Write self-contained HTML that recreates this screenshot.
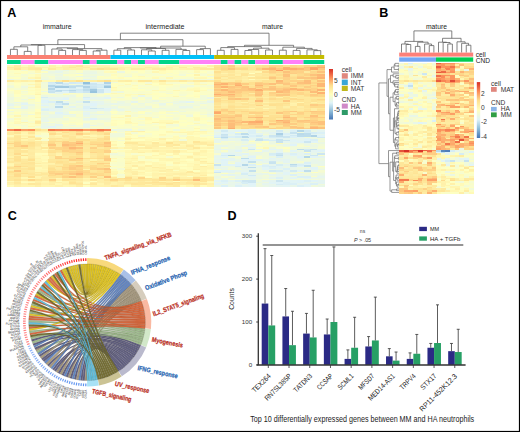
<!DOCTYPE html><html><head><meta charset="utf-8"><style>html,body{margin:0;padding:0;background:#fff;}svg{display:block;font-family:"Liberation Sans",sans-serif;}</style></head><body>
<svg width="520" height="432" viewBox="0 0 520 432">
<rect x="0" y="0" width="520" height="432" fill="#fff"/>
<text x="7.3" y="16.9" font-size="12.6" font-weight="bold" fill="#000">A</text>
<g font-size="7.2" fill="#222">
<text x="42.7" y="28.6" textLength="28.9" lengthAdjust="spacingAndGlyphs">immature</text>
<text x="145.5" y="28.8" textLength="39" lengthAdjust="spacingAndGlyphs">intermediate</text>
<text x="262" y="28.6" textLength="21" lengthAdjust="spacingAndGlyphs">mature</text>
</g>
<path fill="none" stroke="#5a5a5a" stroke-width="0.75" d="M10.45 55V49.3H17.34V55M24.24 55V51.4H31.13V55M13.9 49.3V46.8H27.69V51.4M38.03 55V45.3H44.93V55M20.79 46.8V45H41.48V45.3M58.72 55V50.4H65.61V55M51.82 55V49H62.17V50.4M79.4 55V50.4H86.3V55M72.51 55V49.6H82.85V50.4M56.99 49V47.8H77.68V49.6M93.2 55V51H100.09V55M96.64 51V50.2H106.99V55M67.34 47.8V48.6H101.82V50.2M31.13 45V44.6H84.58V48.6M113.88 55V50.2H120.78V55M127.67 55V50H134.57V55M117.33 50.2V48.7H131.12V50M148.36 55V51H155.26V55M141.47 55V49.8H151.81V51M162.15 55V50.3H169.05V55M146.64 49.8V48.5H165.6V50.3M124.23 48.7V47.6H156.12V48.5M182.84 55V50.5H189.73V55M175.94 55V49.4H186.29V50.5M140.17 47.6V48H181.12V49.4M196.63 55V49.6H203.53V55M200.08 49.6V48.6H210.42V55M160.64 48V46.2H205.25V48.6M57.86 44.6V39.7H182.95V46.2M217.32 55V50.3H224.21V55M231.11 55V49.4H238V55M220.77 50.3V47.6H234.56V49.4M244.9 55V50.5H251.8V55M248.35 50.5V49.5H258.69V55M265.59 55V50H272.48V55M253.52 49.5V48.2H269.03V50M227.66 47.6V46.6H261.28V48.2M279.38 55V50.2H286.27V55M293.17 55V50.4H300.07V55M313.86 55V50.6H320.75V55M306.96 55V49.8H317.3V50.6M296.62 50.4V48.4H312.13V49.8M282.83 50.2V47.2H304.38V48.4M244.47 46.6V45.3H293.6V47.2M120.4 39.7V33.2H269.03V45.3"/>
<rect x="7" y="55" width="103.5" height="4" fill="#fa8072"/>
<rect x="110.5" y="55" width="103.7" height="4" fill="#00c0f8"/>
<rect x="214.2" y="55" width="110" height="4" fill="#c4bc00"/>
<rect x="7" y="60" width="13.84" height="4" fill="#00d58a"/>
<rect x="20.79" y="60" width="13.84" height="4" fill="#ff80f7"/>
<rect x="34.58" y="60" width="13.84" height="4" fill="#00d58a"/>
<rect x="48.37" y="60" width="34.53" height="4" fill="#ff80f7"/>
<rect x="82.85" y="60" width="6.95" height="4" fill="#00d58a"/>
<rect x="89.75" y="60" width="6.95" height="4" fill="#ff80f7"/>
<rect x="96.64" y="60" width="20.74" height="4" fill="#00d58a"/>
<rect x="117.33" y="60" width="6.95" height="4" fill="#ff80f7"/>
<rect x="124.23" y="60" width="6.95" height="4" fill="#00d58a"/>
<rect x="131.12" y="60" width="6.95" height="4" fill="#ff80f7"/>
<rect x="138.02" y="60" width="6.95" height="4" fill="#00d58a"/>
<rect x="144.91" y="60" width="13.84" height="4" fill="#ff80f7"/>
<rect x="158.7" y="60" width="20.74" height="4" fill="#00d58a"/>
<rect x="179.39" y="60" width="41.42" height="4" fill="#ff80f7"/>
<rect x="220.77" y="60" width="6.95" height="4" fill="#00d58a"/>
<rect x="227.66" y="60" width="6.95" height="4" fill="#ff80f7"/>
<rect x="234.56" y="60" width="6.95" height="4" fill="#00d58a"/>
<rect x="241.45" y="60" width="6.95" height="4" fill="#ff80f7"/>
<rect x="248.35" y="60" width="6.95" height="4" fill="#00d58a"/>
<rect x="255.24" y="60" width="13.84" height="4" fill="#ff80f7"/>
<rect x="269.03" y="60" width="13.84" height="4" fill="#00d58a"/>
<rect x="282.83" y="60" width="20.74" height="4" fill="#ff80f7"/>
<rect x="303.51" y="60" width="20.74" height="4" fill="#00d58a"/>
<g shape-rendering="crispEdges"><path fill="#fff8b5" d="M7 65h7.3v1.82h-7.3zM138.02 65h21.09v1.82h-21.09zM165.6 65h7.3v1.82h-7.3zM193.18 65h7.3v1.82h-7.3zM124.23 68.04h7.3v1.82h-7.3zM34.58 71.08h7.3v1.82h-7.3zM193.18 71.08h7.3v1.82h-7.3zM27.69 77.15h7.3v1.82h-7.3zM165.6 77.15h7.3v1.82h-7.3zM193.18 77.15h14.19v1.82h-14.19zM131.12 80.19h7.3v1.82h-7.3zM158.7 81.71h7.3v1.82h-7.3zM124.23 83.22h7.3v1.82h-7.3zM165.6 83.22h7.3v1.82h-7.3zM193.18 83.22h7.3v1.82h-7.3zM27.69 86.26h7.3v1.82h-7.3zM110.43 89.3h7.3v1.82h-7.3zM151.81 89.3h7.3v1.82h-7.3zM110.43 92.34h7.3v1.82h-7.3zM172.5 95.38h7.3v1.82h-7.3zM124.23 110.56h7.3v1.82h-7.3zM117.33 116.64h7.3v1.82h-7.3zM144.91 116.64h7.3v1.82h-7.3zM144.91 118.16h7.3v1.82h-7.3zM193.18 118.16h7.3v1.82h-7.3zM193.18 119.68h7.3v1.82h-7.3zM13.9 122.71h7.3v1.82h-7.3zM124.23 122.71h7.3v1.82h-7.3zM193.18 122.71h7.3v1.82h-7.3zM193.18 127.27h7.3v1.82h-7.3zM186.29 130.31h7.3v1.82h-7.3zM165.6 131.82h7.3v1.82h-7.3zM20.79 133.34h7.3v1.82h-7.3zM158.7 133.34h7.3v1.82h-7.3zM20.79 136.38h7.3v1.82h-7.3zM138.02 136.38h7.3v1.82h-7.3zM193.18 136.38h7.3v1.82h-7.3zM131.12 137.9h7.3v1.82h-7.3zM165.6 137.9h7.3v1.82h-7.3zM193.18 137.9h14.19v1.82h-14.19zM158.7 139.42h7.3v1.82h-7.3zM186.29 139.42h14.19v1.82h-14.19zM206.97 139.42h7.3v1.82h-7.3zM110.43 140.94h7.3v1.82h-7.3zM186.29 140.94h7.3v1.82h-7.3zM186.29 142.46h7.3v1.82h-7.3zM179.39 143.98h7.3v1.82h-7.3zM41.48 145.49h7.3v1.82h-7.3zM262.14 147.01h7.3v1.82h-7.3zM193.18 148.53h7.3v1.82h-7.3zM124.23 150.05h7.3v1.82h-7.3zM144.91 151.57h7.3v1.82h-7.3zM179.39 151.57h7.3v1.82h-7.3zM200.08 153.09h7.3v1.82h-7.3zM131.12 154.61h7.3v1.82h-7.3zM165.6 154.61h7.3v1.82h-7.3zM34.58 156.12h7.3v1.82h-7.3zM144.91 156.12h7.3v1.82h-7.3zM110.43 157.64h7.3v1.82h-7.3zM179.39 157.64h7.3v1.82h-7.3zM41.48 159.16h7.3v1.82h-7.3zM124.23 159.16h7.3v1.82h-7.3zM172.5 160.68h7.3v1.82h-7.3zM193.18 160.68h7.3v1.82h-7.3zM186.29 162.2h14.19v1.82h-14.19zM34.58 163.72h7.3v1.82h-7.3zM124.23 163.72h14.19v1.82h-14.19zM151.81 165.24h7.3v1.82h-7.3zM165.6 165.24h14.19v1.82h-14.19zM186.29 165.24h7.3v1.82h-7.3zM144.91 166.76h7.3v1.82h-7.3zM34.58 168.28h14.19v1.82h-14.19zM179.39 168.28h7.3v1.82h-7.3zM206.97 168.28h7.3v1.82h-7.3zM131.12 169.79h7.3v1.82h-7.3zM206.97 171.31h7.3v1.82h-7.3zM206.97 172.83h7.3v1.82h-7.3zM131.12 174.35h7.3v1.82h-7.3zM144.91 174.35h7.3v1.82h-7.3zM172.5 174.35h7.3v1.82h-7.3zM55.27 177.39h7.3v1.82h-7.3zM7 180.43h7.3v1.82h-7.3zM82.85 180.43h7.3v1.82h-7.3zM206.97 180.43h7.3v1.82h-7.3z"/><path fill="#feeda4" d="M13.9 65h7.3v1.82h-7.3zM248.35 65h7.3v1.82h-7.3zM7 66.52h7.3v1.82h-7.3zM27.69 66.52h7.3v1.82h-7.3zM103.54 66.52h7.3v1.82h-7.3zM144.91 66.52h7.3v1.82h-7.3zM131.12 68.04h14.19v1.82h-14.19zM193.18 68.04h7.3v1.82h-7.3zM213.87 69.56h7.3v1.82h-7.3zM248.35 69.56h7.3v1.82h-7.3zM234.56 72.59h7.3v1.82h-7.3zM241.45 77.15h7.3v1.82h-7.3zM213.87 78.67h7.3v1.82h-7.3zM227.66 78.67h7.3v1.82h-7.3zM296.62 78.67h7.3v1.82h-7.3zM55.27 80.19h7.3v1.82h-7.3zM124.23 80.19h7.3v1.82h-7.3zM206.97 80.19h7.3v1.82h-7.3zM220.77 80.19h7.3v1.82h-7.3zM241.45 80.19h7.3v1.82h-7.3zM262.14 90.82h7.3v1.82h-7.3zM234.56 101.45h7.3v1.82h-7.3zM269.03 101.45h7.3v1.82h-7.3zM289.72 101.45h7.3v1.82h-7.3zM220.77 102.97h7.3v1.82h-7.3zM248.35 102.97h7.3v1.82h-7.3zM269.03 106.01h7.3v1.82h-7.3zM296.62 106.01h7.3v1.82h-7.3zM234.56 107.53h7.3v1.82h-7.3zM310.41 107.53h7.3v1.82h-7.3zM310.41 109.04h7.3v1.82h-7.3zM248.35 113.6h7.3v1.82h-7.3zM262.14 115.12h7.3v1.82h-7.3zM34.58 122.71h7.3v1.82h-7.3zM89.75 133.34h7.3v1.82h-7.3zM89.75 136.38h14.19v1.82h-14.19zM193.18 142.46h7.3v1.82h-7.3zM131.12 143.98h7.3v1.82h-7.3zM151.81 143.98h7.3v1.82h-7.3zM193.18 143.98h14.19v1.82h-14.19zM7 145.49h7.3v1.82h-7.3zM34.58 145.49h7.3v1.82h-7.3zM151.81 145.49h7.3v1.82h-7.3zM7 150.05h7.3v1.82h-7.3zM27.69 150.05h7.3v1.82h-7.3zM151.81 150.05h7.3v1.82h-7.3zM82.85 151.57h7.3v1.82h-7.3zM172.5 151.57h7.3v1.82h-7.3zM7 153.09h7.3v1.82h-7.3zM7 154.61h14.19v1.82h-14.19zM27.69 154.61h7.3v1.82h-7.3zM48.37 156.12h7.3v1.82h-7.3zM48.37 157.64h7.3v1.82h-7.3zM7 159.16h7.3v1.82h-7.3zM82.85 159.16h7.3v1.82h-7.3zM27.69 160.68h7.3v1.82h-7.3zM200.08 160.68h7.3v1.82h-7.3zM34.58 162.2h7.3v1.82h-7.3zM7 165.24h7.3v1.82h-7.3zM131.12 165.24h7.3v1.82h-7.3zM200.08 165.24h7.3v1.82h-7.3zM20.79 166.76h7.3v1.82h-7.3zM151.81 166.76h7.3v1.82h-7.3zM124.23 168.28h7.3v1.82h-7.3zM165.6 168.28h7.3v1.82h-7.3zM7 169.79h7.3v1.82h-7.3zM41.48 171.31h7.3v1.82h-7.3zM131.12 172.83h7.3v1.82h-7.3zM193.18 172.83h7.3v1.82h-7.3zM41.48 174.35h7.3v1.82h-7.3zM200.08 174.35h7.3v1.82h-7.3zM41.48 175.87h7.3v1.82h-7.3zM48.37 177.39h7.3v1.82h-7.3zM131.12 177.39h7.3v1.82h-7.3zM151.81 177.39h7.3v1.82h-7.3zM13.9 180.43h7.3v1.82h-7.3zM103.54 180.43h7.3v1.82h-7.3zM124.23 180.43h7.3v1.82h-7.3zM186.29 180.43h14.19v1.82h-14.19zM89.75 181.94h7.3v1.82h-7.3zM179.39 181.94h7.3v1.82h-7.3zM13.9 183.46h7.3v1.82h-7.3zM48.37 183.46h7.3v1.82h-7.3zM103.54 183.46h7.3v1.82h-7.3zM179.39 183.46h14.19v1.82h-14.19zM75.96 184.98h7.3v1.82h-7.3zM117.33 184.98h7.3v1.82h-7.3zM138.02 184.98h14.19v1.82h-14.19zM165.6 184.98h7.3v1.82h-7.3zM193.18 184.98h7.3v1.82h-7.3z"/><path fill="#fffcbb" d="M20.79 65h7.3v1.82h-7.3zM55.27 65h7.3v1.82h-7.3zM117.33 65h7.3v1.82h-7.3zM200.08 65h7.3v1.82h-7.3zM206.97 66.52h7.3v1.82h-7.3zM41.48 68.04h7.3v1.82h-7.3zM117.33 69.56h7.3v1.82h-7.3zM103.54 71.08h7.3v1.82h-7.3zM158.7 71.08h7.3v1.82h-7.3zM158.7 72.59h7.3v1.82h-7.3zM110.43 74.11h7.3v1.82h-7.3zM206.97 74.11h7.3v1.82h-7.3zM117.33 77.15h7.3v1.82h-7.3zM248.35 78.67h7.3v1.82h-7.3zM13.9 81.71h7.3v1.82h-7.3zM138.02 81.71h7.3v1.82h-7.3zM117.33 84.74h7.3v1.82h-7.3zM193.18 86.26h7.3v1.82h-7.3zM34.58 87.78h7.3v1.82h-7.3zM110.43 87.78h7.3v1.82h-7.3zM131.12 87.78h7.3v1.82h-7.3zM186.29 87.78h7.3v1.82h-7.3zM13.9 89.3h7.3v1.82h-7.3zM27.69 89.3h7.3v1.82h-7.3zM117.33 89.3h7.3v1.82h-7.3zM158.7 89.3h7.3v1.82h-7.3zM13.9 90.82h7.3v1.82h-7.3zM34.58 90.82h7.3v1.82h-7.3zM13.9 92.34h7.3v1.82h-7.3zM117.33 92.34h7.3v1.82h-7.3zM131.12 93.86h7.3v1.82h-7.3zM144.91 93.86h7.3v1.82h-7.3zM193.18 95.38h7.3v1.82h-7.3zM165.6 110.56h7.3v1.82h-7.3zM34.58 115.12h7.3v1.82h-7.3zM138.02 116.64h7.3v1.82h-7.3zM110.43 119.68h7.3v1.82h-7.3zM124.23 119.68h7.3v1.82h-7.3zM144.91 119.68h7.3v1.82h-7.3zM206.97 121.19h7.3v1.82h-7.3zM27.69 122.71h7.3v1.82h-7.3zM110.43 122.71h7.3v1.82h-7.3zM144.91 122.71h7.3v1.82h-7.3zM34.58 124.23h7.3v1.82h-7.3zM110.43 124.23h7.3v1.82h-7.3zM13.9 127.27h7.3v1.82h-7.3zM158.7 127.27h7.3v1.82h-7.3zM179.39 128.79h7.3v1.82h-7.3zM110.43 130.31h7.3v1.82h-7.3zM172.5 130.31h14.19v1.82h-14.19zM206.97 130.31h7.3v1.82h-7.3zM124.23 131.82h7.3v1.82h-7.3zM193.18 131.82h7.3v1.82h-7.3zM34.58 133.34h7.3v1.82h-7.3zM144.91 136.38h7.3v1.82h-7.3zM144.91 137.9h7.3v1.82h-7.3zM206.97 137.9h7.3v1.82h-7.3zM34.58 139.42h7.3v1.82h-7.3zM124.23 139.42h7.3v1.82h-7.3zM110.43 142.46h7.3v1.82h-7.3zM200.08 145.49h7.3v1.82h-7.3zM41.48 148.53h7.3v1.82h-7.3zM172.5 148.53h7.3v1.82h-7.3zM200.08 148.53h7.3v1.82h-7.3zM117.33 150.05h7.3v1.82h-7.3zM186.29 150.05h7.3v1.82h-7.3zM206.97 151.57h7.3v1.82h-7.3zM34.58 153.09h14.19v1.82h-14.19zM124.23 153.09h7.3v1.82h-7.3zM124.23 154.61h7.3v1.82h-7.3zM158.7 154.61h7.3v1.82h-7.3zM151.81 156.12h14.19v1.82h-14.19zM206.97 157.64h7.3v1.82h-7.3zM179.39 159.16h7.3v1.82h-7.3zM206.97 159.16h7.3v1.82h-7.3zM41.48 160.68h7.3v1.82h-7.3zM110.43 160.68h7.3v1.82h-7.3zM131.12 160.68h7.3v1.82h-7.3zM158.7 160.68h14.19v1.82h-14.19zM186.29 160.68h7.3v1.82h-7.3zM172.5 163.72h7.3v1.82h-7.3zM206.97 163.72h7.3v1.82h-7.3zM186.29 166.76h7.3v1.82h-7.3zM186.29 168.28h7.3v1.82h-7.3zM110.43 169.79h7.3v1.82h-7.3zM186.29 169.79h7.3v1.82h-7.3zM206.97 169.79h7.3v1.82h-7.3zM158.7 171.31h7.3v1.82h-7.3zM138.02 174.35h7.3v1.82h-7.3zM55.27 180.43h7.3v1.82h-7.3zM20.79 181.94h7.3v1.82h-7.3zM124.23 184.98h7.3v1.82h-7.3zM179.39 184.98h7.3v1.82h-7.3zM200.08 184.98h7.3v1.82h-7.3z"/><path fill="#fff3ac" d="M27.69 65h7.3v1.82h-7.3zM48.37 65h7.3v1.82h-7.3zM62.17 65h7.3v1.82h-7.3zM89.75 65h7.3v1.82h-7.3zM48.37 66.52h7.3v1.82h-7.3zM110.43 66.52h14.19v1.82h-14.19zM20.79 68.04h7.3v1.82h-7.3zM144.91 68.04h7.3v1.82h-7.3zM165.6 68.04h7.3v1.82h-7.3zM179.39 68.04h7.3v1.82h-7.3zM248.35 71.08h7.3v1.82h-7.3zM220.77 72.59h7.3v1.82h-7.3zM193.18 74.11h7.3v1.82h-7.3zM34.58 77.15h7.3v1.82h-7.3zM13.9 80.19h7.3v1.82h-7.3zM27.69 80.19h7.3v1.82h-7.3zM34.58 83.22h7.3v1.82h-7.3zM193.18 90.82h7.3v1.82h-7.3zM34.58 93.86h7.3v1.82h-7.3zM241.45 101.45h7.3v1.82h-7.3zM262.14 101.45h7.3v1.82h-7.3zM289.72 102.97h7.3v1.82h-7.3zM248.35 107.53h7.3v1.82h-7.3zM124.23 115.12h7.3v1.82h-7.3zM151.81 121.19h7.3v1.82h-7.3zM34.58 130.31h14.19v1.82h-14.19zM55.27 131.82h7.3v1.82h-7.3zM13.9 133.34h7.3v1.82h-7.3zM20.79 134.86h14.19v1.82h-14.19zM34.58 136.38h7.3v1.82h-7.3zM27.69 137.9h7.3v1.82h-7.3zM124.23 140.94h7.3v1.82h-7.3zM138.02 140.94h7.3v1.82h-7.3zM200.08 140.94h7.3v1.82h-7.3zM138.02 142.46h7.3v1.82h-7.3zM158.7 142.46h7.3v1.82h-7.3zM144.91 143.98h7.3v1.82h-7.3zM158.7 147.01h14.19v1.82h-14.19zM186.29 147.01h7.3v1.82h-7.3zM206.97 147.01h7.3v1.82h-7.3zM158.7 150.05h7.3v1.82h-7.3zM200.08 150.05h7.3v1.82h-7.3zM34.58 151.57h7.3v1.82h-7.3zM20.79 153.09h7.3v1.82h-7.3zM55.27 153.09h7.3v1.82h-7.3zM172.5 153.09h7.3v1.82h-7.3zM82.85 154.61h7.3v1.82h-7.3zM7 156.12h7.3v1.82h-7.3zM82.85 156.12h7.3v1.82h-7.3zM20.79 157.64h7.3v1.82h-7.3zM34.58 157.64h7.3v1.82h-7.3zM172.5 157.64h7.3v1.82h-7.3zM193.18 157.64h14.19v1.82h-14.19zM41.48 162.2h14.19v1.82h-14.19zM200.08 162.2h7.3v1.82h-7.3zM193.18 163.72h7.3v1.82h-7.3zM82.85 168.28h7.3v1.82h-7.3zM131.12 168.28h7.3v1.82h-7.3zM151.81 169.79h7.3v1.82h-7.3zM124.23 171.31h7.3v1.82h-7.3zM138.02 171.31h7.3v1.82h-7.3zM179.39 171.31h7.3v1.82h-7.3zM193.18 171.31h14.19v1.82h-14.19zM151.81 172.83h7.3v1.82h-7.3zM186.29 172.83h7.3v1.82h-7.3zM200.08 172.83h7.3v1.82h-7.3zM124.23 174.35h7.3v1.82h-7.3zM151.81 174.35h7.3v1.82h-7.3zM179.39 174.35h14.19v1.82h-14.19zM158.7 175.87h7.3v1.82h-7.3zM34.58 177.39h7.3v1.82h-7.3zM117.33 180.43h7.3v1.82h-7.3zM179.39 180.43h7.3v1.82h-7.3zM110.43 181.94h7.3v1.82h-7.3zM200.08 181.94h7.3v1.82h-7.3zM110.43 183.46h7.3v1.82h-7.3zM124.23 183.46h7.3v1.82h-7.3zM144.91 183.46h7.3v1.82h-7.3zM89.75 184.98h14.19v1.82h-14.19zM158.7 184.98h7.3v1.82h-7.3z"/><path fill="#fffebe" d="M34.58 65h7.3v1.82h-7.3zM124.23 65h7.3v1.82h-7.3zM13.9 69.56h7.3v1.82h-7.3zM124.23 69.56h21.09v1.82h-21.09zM165.6 69.56h7.3v1.82h-7.3zM20.79 71.08h7.3v1.82h-7.3zM165.6 71.08h7.3v1.82h-7.3zM248.35 72.59h7.3v1.82h-7.3zM131.12 75.63h7.3v1.82h-7.3zM151.81 75.63h14.19v1.82h-14.19zM172.5 75.63h14.19v1.82h-14.19zM200.08 75.63h7.3v1.82h-7.3zM110.43 77.15h7.3v1.82h-7.3zM138.02 77.15h7.3v1.82h-7.3zM206.97 77.15h7.3v1.82h-7.3zM117.33 81.71h7.3v1.82h-7.3zM186.29 83.22h7.3v1.82h-7.3zM151.81 84.74h7.3v1.82h-7.3zM165.6 84.74h7.3v1.82h-7.3zM124.23 87.78h7.3v1.82h-7.3zM206.97 87.78h7.3v1.82h-7.3zM131.12 89.3h7.3v1.82h-7.3zM179.39 89.3h7.3v1.82h-7.3zM27.69 92.34h7.3v1.82h-7.3zM151.81 92.34h7.3v1.82h-7.3zM27.69 93.86h7.3v1.82h-7.3zM103.54 93.86h7.3v1.82h-7.3zM151.81 93.86h7.3v1.82h-7.3zM165.6 93.86h7.3v1.82h-7.3zM193.18 93.86h7.3v1.82h-7.3zM124.23 95.38h7.3v1.82h-7.3zM158.7 95.38h7.3v1.82h-7.3zM34.58 96.89h7.3v1.82h-7.3zM34.58 109.04h7.3v1.82h-7.3zM34.58 110.56h7.3v1.82h-7.3zM138.02 110.56h7.3v1.82h-7.3zM172.5 110.56h7.3v1.82h-7.3zM13.9 112.08h7.3v1.82h-7.3zM27.69 115.12h7.3v1.82h-7.3zM165.6 116.64h7.3v1.82h-7.3zM200.08 118.16h7.3v1.82h-7.3zM13.9 119.68h7.3v1.82h-7.3zM117.33 119.68h7.3v1.82h-7.3zM138.02 119.68h7.3v1.82h-7.3zM151.81 119.68h7.3v1.82h-7.3zM69.06 121.19h7.3v1.82h-7.3zM110.43 121.19h7.3v1.82h-7.3zM144.91 121.19h7.3v1.82h-7.3zM186.29 121.19h7.3v1.82h-7.3zM172.5 122.71h7.3v1.82h-7.3zM131.12 127.27h7.3v1.82h-7.3zM165.6 127.27h7.3v1.82h-7.3zM151.81 130.31h7.3v1.82h-7.3zM110.43 131.82h7.3v1.82h-7.3zM138.02 131.82h14.19v1.82h-14.19zM131.12 134.86h7.3v1.82h-7.3zM193.18 134.86h7.3v1.82h-7.3zM200.08 136.38h7.3v1.82h-7.3zM41.48 137.9h7.3v1.82h-7.3zM179.39 137.9h7.3v1.82h-7.3zM151.81 140.94h7.3v1.82h-7.3zM248.35 140.94h7.3v1.82h-7.3zM110.43 145.49h7.3v1.82h-7.3zM138.02 145.49h7.3v1.82h-7.3zM158.7 145.49h7.3v1.82h-7.3zM110.43 150.05h7.3v1.82h-7.3zM151.81 153.09h7.3v1.82h-7.3zM172.5 154.61h7.3v1.82h-7.3zM200.08 156.12h7.3v1.82h-7.3zM144.91 162.2h7.3v1.82h-7.3zM144.91 163.72h7.3v1.82h-7.3zM110.43 165.24h7.3v1.82h-7.3zM131.12 166.76h7.3v1.82h-7.3zM179.39 166.76h7.3v1.82h-7.3zM117.33 171.31h7.3v1.82h-7.3zM144.91 171.31h7.3v1.82h-7.3zM110.43 174.35h7.3v1.82h-7.3zM89.75 180.43h7.3v1.82h-7.3zM172.5 180.43h7.3v1.82h-7.3zM82.85 184.98h7.3v1.82h-7.3z"/><path fill="#fcfec4" d="M41.48 65h7.3v1.82h-7.3zM158.7 65h7.3v1.82h-7.3zM7 69.56h7.3v1.82h-7.3zM151.81 69.56h7.3v1.82h-7.3zM172.5 69.56h14.19v1.82h-14.19zM206.97 69.56h7.3v1.82h-7.3zM13.9 71.08h7.3v1.82h-7.3zM41.48 71.08h7.3v1.82h-7.3zM124.23 71.08h7.3v1.82h-7.3zM172.5 71.08h7.3v1.82h-7.3zM186.29 71.08h7.3v1.82h-7.3zM7 72.59h7.3v1.82h-7.3zM20.79 72.59h7.3v1.82h-7.3zM131.12 72.59h7.3v1.82h-7.3zM13.9 74.11h7.3v1.82h-7.3zM27.69 74.11h7.3v1.82h-7.3zM131.12 74.11h7.3v1.82h-7.3zM165.6 74.11h7.3v1.82h-7.3zM186.29 75.63h7.3v1.82h-7.3zM7 77.15h7.3v1.82h-7.3zM103.54 77.15h7.3v1.82h-7.3zM144.91 77.15h7.3v1.82h-7.3zM206.97 81.71h7.3v1.82h-7.3zM138.02 83.22h7.3v1.82h-7.3zM206.97 83.22h7.3v1.82h-7.3zM13.9 84.74h7.3v1.82h-7.3zM138.02 86.26h7.3v1.82h-7.3zM158.7 86.26h7.3v1.82h-7.3zM200.08 86.26h7.3v1.82h-7.3zM27.69 87.78h7.3v1.82h-7.3zM117.33 87.78h7.3v1.82h-7.3zM20.79 89.3h7.3v1.82h-7.3zM124.23 89.3h7.3v1.82h-7.3zM165.6 89.3h7.3v1.82h-7.3zM27.69 90.82h7.3v1.82h-7.3zM144.91 90.82h14.19v1.82h-14.19zM172.5 90.82h7.3v1.82h-7.3zM69.06 92.34h7.3v1.82h-7.3zM103.54 92.34h7.3v1.82h-7.3zM172.5 92.34h7.3v1.82h-7.3zM20.79 93.86h7.3v1.82h-7.3zM110.43 93.86h7.3v1.82h-7.3zM172.5 93.86h7.3v1.82h-7.3zM186.29 93.86h7.3v1.82h-7.3zM200.08 93.86h7.3v1.82h-7.3zM151.81 95.38h7.3v1.82h-7.3zM165.6 95.38h7.3v1.82h-7.3zM179.39 95.38h7.3v1.82h-7.3zM138.02 98.41h7.3v1.82h-7.3zM158.7 98.41h7.3v1.82h-7.3zM193.18 99.93h7.3v1.82h-7.3zM34.58 102.97h7.3v1.82h-7.3zM7 109.04h7.3v1.82h-7.3zM144.91 110.56h7.3v1.82h-7.3zM27.69 112.08h7.3v1.82h-7.3zM193.18 112.08h7.3v1.82h-7.3zM7 115.12h7.3v1.82h-7.3zM110.43 115.12h7.3v1.82h-7.3zM158.7 115.12h7.3v1.82h-7.3zM179.39 115.12h7.3v1.82h-7.3zM200.08 115.12h7.3v1.82h-7.3zM27.69 116.64h7.3v1.82h-7.3zM179.39 116.64h14.19v1.82h-14.19zM206.97 116.64h7.3v1.82h-7.3zM34.58 118.16h7.3v1.82h-7.3zM186.29 118.16h7.3v1.82h-7.3zM206.97 118.16h7.3v1.82h-7.3zM172.5 119.68h7.3v1.82h-7.3zM200.08 119.68h7.3v1.82h-7.3zM75.96 121.19h7.3v1.82h-7.3zM131.12 121.19h7.3v1.82h-7.3zM7 122.71h7.3v1.82h-7.3zM200.08 122.71h7.3v1.82h-7.3zM27.69 124.23h7.3v1.82h-7.3zM117.33 125.75h7.3v1.82h-7.3zM138.02 125.75h7.3v1.82h-7.3zM131.12 133.34h7.3v1.82h-7.3zM165.6 133.34h7.3v1.82h-7.3zM200.08 133.34h7.3v1.82h-7.3zM124.23 134.86h7.3v1.82h-7.3zM151.81 134.86h7.3v1.82h-7.3zM172.5 134.86h7.3v1.82h-7.3zM186.29 134.86h7.3v1.82h-7.3zM165.6 136.38h7.3v1.82h-7.3zM179.39 136.38h7.3v1.82h-7.3zM117.33 142.46h7.3v1.82h-7.3zM213.87 142.46h7.3v1.82h-7.3zM138.02 153.09h7.3v1.82h-7.3zM179.39 153.09h14.19v1.82h-14.19zM144.91 154.61h7.3v1.82h-7.3zM117.33 157.64h7.3v1.82h-7.3zM110.43 159.16h7.3v1.82h-7.3zM138.02 159.16h7.3v1.82h-7.3zM151.81 160.68h7.3v1.82h-7.3zM200.08 163.72h7.3v1.82h-7.3zM255.24 163.72h7.3v1.82h-7.3zM317.3 165.24h7.3v1.82h-7.3zM117.33 166.76h7.3v1.82h-7.3zM117.33 169.79h7.3v1.82h-7.3zM172.5 169.79h7.3v1.82h-7.3zM117.33 172.83h7.3v1.82h-7.3zM220.77 172.83h7.3v1.82h-7.3zM186.29 175.87h7.3v1.82h-7.3z"/><path fill="#feefa7" d="M69.06 65h7.3v1.82h-7.3zM234.56 65h7.3v1.82h-7.3zM34.58 66.52h7.3v1.82h-7.3zM62.17 66.52h7.3v1.82h-7.3zM82.85 66.52h7.3v1.82h-7.3zM200.08 66.52h7.3v1.82h-7.3zM62.17 68.04h7.3v1.82h-7.3zM75.96 68.04h7.3v1.82h-7.3zM234.56 71.08h14.19v1.82h-14.19zM241.45 75.63h7.3v1.82h-7.3zM220.77 77.15h7.3v1.82h-7.3zM255.24 78.67h7.3v1.82h-7.3zM20.79 80.19h7.3v1.82h-7.3zM89.75 80.19h7.3v1.82h-7.3zM117.33 80.19h7.3v1.82h-7.3zM269.03 90.82h7.3v1.82h-7.3zM213.87 96.89h7.3v1.82h-7.3zM262.14 96.89h7.3v1.82h-7.3zM289.72 96.89h7.3v1.82h-7.3zM220.77 104.49h7.3v1.82h-7.3zM282.83 106.01h7.3v1.82h-7.3zM241.45 107.53h7.3v1.82h-7.3zM269.03 107.53h7.3v1.82h-7.3zM82.85 131.82h7.3v1.82h-7.3zM48.37 134.86h7.3v1.82h-7.3zM103.54 134.86h7.3v1.82h-7.3zM7 136.38h7.3v1.82h-7.3zM48.37 136.38h7.3v1.82h-7.3zM7 139.42h7.3v1.82h-7.3zM27.69 139.42h7.3v1.82h-7.3zM172.5 140.94h14.19v1.82h-14.19zM41.48 142.46h7.3v1.82h-7.3zM179.39 142.46h7.3v1.82h-7.3zM158.7 143.98h7.3v1.82h-7.3zM144.91 145.49h7.3v1.82h-7.3zM131.12 147.01h14.19v1.82h-14.19zM172.5 147.01h7.3v1.82h-7.3zM34.58 148.53h7.3v1.82h-7.3zM131.12 148.53h7.3v1.82h-7.3zM138.02 151.57h7.3v1.82h-7.3zM103.54 153.09h7.3v1.82h-7.3zM186.29 156.12h7.3v1.82h-7.3zM82.85 160.68h7.3v1.82h-7.3zM124.23 162.2h7.3v1.82h-7.3zM206.97 162.2h7.3v1.82h-7.3zM144.91 165.24h7.3v1.82h-7.3zM7 168.28h7.3v1.82h-7.3zM193.18 168.28h7.3v1.82h-7.3zM158.7 169.79h7.3v1.82h-7.3zM131.12 171.31h7.3v1.82h-7.3zM34.58 172.83h7.3v1.82h-7.3zM172.5 172.83h14.19v1.82h-14.19zM165.6 174.35h7.3v1.82h-7.3zM103.54 177.39h7.3v1.82h-7.3zM165.6 177.39h7.3v1.82h-7.3zM96.64 178.91h7.3v1.82h-7.3zM75.96 180.43h7.3v1.82h-7.3zM96.64 180.43h7.3v1.82h-7.3zM131.12 180.43h7.3v1.82h-7.3zM7 181.94h7.3v1.82h-7.3zM34.58 181.94h7.3v1.82h-7.3zM48.37 181.94h14.19v1.82h-14.19zM96.64 181.94h7.3v1.82h-7.3zM117.33 181.94h7.3v1.82h-7.3zM82.85 183.46h7.3v1.82h-7.3zM117.33 183.46h7.3v1.82h-7.3zM34.58 184.98h7.3v1.82h-7.3zM131.12 184.98h7.3v1.82h-7.3zM151.81 184.98h7.3v1.82h-7.3z"/><path fill="#fee99e" d="M75.96 65h7.3v1.82h-7.3zM69.06 66.52h7.3v1.82h-7.3zM34.58 68.04h7.3v1.82h-7.3zM89.75 68.04h7.3v1.82h-7.3zM200.08 68.04h14.19v1.82h-14.19zM220.77 71.08h7.3v1.82h-7.3zM303.51 71.08h7.3v1.82h-7.3zM262.14 72.59h7.3v1.82h-7.3zM213.87 74.11h7.3v1.82h-7.3zM262.14 75.63h7.3v1.82h-7.3zM234.56 77.15h7.3v1.82h-7.3zM275.93 78.67h7.3v1.82h-7.3zM7 80.19h7.3v1.82h-7.3zM200.08 80.19h7.3v1.82h-7.3zM255.24 80.19h7.3v1.82h-7.3zM303.51 96.89h7.3v1.82h-7.3zM234.56 99.93h7.3v1.82h-7.3zM289.72 99.93h7.3v1.82h-7.3zM248.35 101.45h7.3v1.82h-7.3zM234.56 102.97h7.3v1.82h-7.3zM213.87 104.49h7.3v1.82h-7.3zM241.45 104.49h7.3v1.82h-7.3zM248.35 106.01h7.3v1.82h-7.3zM282.83 107.53h7.3v1.82h-7.3zM296.62 107.53h7.3v1.82h-7.3zM248.35 109.04h7.3v1.82h-7.3zM275.93 113.6h7.3v1.82h-7.3zM275.93 118.16h7.3v1.82h-7.3zM303.51 122.71h7.3v1.82h-7.3zM55.27 133.34h7.3v1.82h-7.3zM13.9 134.86h7.3v1.82h-7.3zM75.96 134.86h7.3v1.82h-7.3zM62.17 136.38h7.3v1.82h-7.3zM7 137.9h7.3v1.82h-7.3zM20.79 137.9h7.3v1.82h-7.3zM75.96 137.9h7.3v1.82h-7.3zM27.69 140.94h7.3v1.82h-7.3zM34.58 142.46h7.3v1.82h-7.3zM151.81 142.46h7.3v1.82h-7.3zM7 143.98h7.3v1.82h-7.3zM34.58 143.98h7.3v1.82h-7.3zM55.27 143.98h7.3v1.82h-7.3zM55.27 145.49h7.3v1.82h-7.3zM82.85 147.01h7.3v1.82h-7.3zM96.64 147.01h7.3v1.82h-7.3zM55.27 151.57h7.3v1.82h-7.3zM89.75 153.09h7.3v1.82h-7.3zM89.75 156.12h7.3v1.82h-7.3zM20.79 159.16h7.3v1.82h-7.3zM89.75 163.72h7.3v1.82h-7.3zM103.54 163.72h7.3v1.82h-7.3zM55.27 168.28h7.3v1.82h-7.3zM20.79 169.79h7.3v1.82h-7.3zM27.69 171.31h14.19v1.82h-14.19zM186.29 171.31h7.3v1.82h-7.3zM27.69 174.35h14.19v1.82h-14.19zM20.79 175.87h7.3v1.82h-7.3zM62.17 177.39h7.3v1.82h-7.3zM75.96 178.91h7.3v1.82h-7.3zM206.97 178.91h7.3v1.82h-7.3zM48.37 180.43h7.3v1.82h-7.3zM110.43 180.43h7.3v1.82h-7.3zM151.81 180.43h7.3v1.82h-7.3zM124.23 181.94h7.3v1.82h-7.3zM193.18 181.94h7.3v1.82h-7.3zM34.58 183.46h7.3v1.82h-7.3zM200.08 183.46h7.3v1.82h-7.3zM110.43 184.98h7.3v1.82h-7.3zM172.5 184.98h7.3v1.82h-7.3z"/><path fill="#fff7b2" d="M82.85 65h7.3v1.82h-7.3zM172.5 65h21.09v1.82h-21.09zM131.12 66.52h14.19v1.82h-14.19zM158.7 66.52h7.3v1.82h-7.3zM82.85 68.04h7.3v1.82h-7.3zM172.5 68.04h7.3v1.82h-7.3zM158.7 69.56h7.3v1.82h-7.3zM151.81 71.08h7.3v1.82h-7.3zM255.24 71.08h7.3v1.82h-7.3zM110.43 80.19h7.3v1.82h-7.3zM34.58 81.71h7.3v1.82h-7.3zM27.69 83.22h7.3v1.82h-7.3zM144.91 83.22h7.3v1.82h-7.3zM158.7 83.22h7.3v1.82h-7.3zM110.43 86.26h7.3v1.82h-7.3zM172.5 89.3h7.3v1.82h-7.3zM138.02 93.86h7.3v1.82h-7.3zM262.14 107.53h7.3v1.82h-7.3zM34.58 112.08h7.3v1.82h-7.3zM13.9 115.12h7.3v1.82h-7.3zM20.79 121.19h7.3v1.82h-7.3zM158.7 121.19h21.09v1.82h-21.09zM34.58 127.27h7.3v1.82h-7.3zM124.23 130.31h7.3v1.82h-7.3zM165.6 130.31h7.3v1.82h-7.3zM200.08 130.31h7.3v1.82h-7.3zM172.5 131.82h7.3v1.82h-7.3zM186.29 131.82h7.3v1.82h-7.3zM124.23 133.34h7.3v1.82h-7.3zM186.29 133.34h7.3v1.82h-7.3zM55.27 134.86h7.3v1.82h-7.3zM89.75 134.86h7.3v1.82h-7.3zM186.29 136.38h7.3v1.82h-7.3zM186.29 137.9h7.3v1.82h-7.3zM151.81 139.42h7.3v1.82h-7.3zM158.7 140.94h7.3v1.82h-7.3zM144.91 142.46h7.3v1.82h-7.3zM193.18 145.49h7.3v1.82h-7.3zM117.33 147.01h7.3v1.82h-7.3zM151.81 148.53h21.09v1.82h-21.09zM124.23 151.57h7.3v1.82h-7.3zM158.7 151.57h7.3v1.82h-7.3zM186.29 151.57h7.3v1.82h-7.3zM193.18 154.61h14.19v1.82h-14.19zM20.79 156.12h7.3v1.82h-7.3zM131.12 156.12h7.3v1.82h-7.3zM144.91 157.64h14.19v1.82h-14.19zM165.6 157.64h7.3v1.82h-7.3zM186.29 157.64h7.3v1.82h-7.3zM34.58 159.16h7.3v1.82h-7.3zM131.12 159.16h7.3v1.82h-7.3zM158.7 159.16h7.3v1.82h-7.3zM172.5 159.16h7.3v1.82h-7.3zM179.39 160.68h7.3v1.82h-7.3zM151.81 162.2h7.3v1.82h-7.3zM7 163.72h7.3v1.82h-7.3zM41.48 163.72h7.3v1.82h-7.3zM151.81 163.72h7.3v1.82h-7.3zM124.23 165.24h7.3v1.82h-7.3zM158.7 165.24h7.3v1.82h-7.3zM206.97 165.24h7.3v1.82h-7.3zM172.5 166.76h7.3v1.82h-7.3zM144.91 168.28h7.3v1.82h-7.3zM34.58 169.79h7.3v1.82h-7.3zM144.91 169.79h7.3v1.82h-7.3zM179.39 169.79h7.3v1.82h-7.3zM200.08 169.79h7.3v1.82h-7.3zM110.43 171.31h7.3v1.82h-7.3zM151.81 171.31h7.3v1.82h-7.3zM138.02 172.83h7.3v1.82h-7.3zM158.7 174.35h7.3v1.82h-7.3zM110.43 175.87h7.3v1.82h-7.3zM179.39 175.87h7.3v1.82h-7.3zM200.08 175.87h14.19v1.82h-14.19zM20.79 177.39h14.19v1.82h-14.19zM41.48 180.43h7.3v1.82h-7.3zM55.27 183.46h7.3v1.82h-7.3zM62.17 184.98h7.3v1.82h-7.3zM186.29 184.98h7.3v1.82h-7.3z"/><path fill="#fff5af" d="M96.64 65h14.19v1.82h-14.19zM41.48 66.52h7.3v1.82h-7.3zM89.75 66.52h7.3v1.82h-7.3zM124.23 66.52h7.3v1.82h-7.3zM55.27 68.04h7.3v1.82h-7.3zM34.58 69.56h7.3v1.82h-7.3zM151.81 80.19h7.3v1.82h-7.3zM34.58 84.74h7.3v1.82h-7.3zM193.18 89.3h7.3v1.82h-7.3zM296.62 101.45h7.3v1.82h-7.3zM34.58 116.64h7.3v1.82h-7.3zM34.58 119.68h7.3v1.82h-7.3zM124.23 121.19h7.3v1.82h-7.3zM82.85 130.31h7.3v1.82h-7.3zM193.18 130.31h7.3v1.82h-7.3zM20.79 131.82h7.3v1.82h-7.3zM179.39 131.82h7.3v1.82h-7.3zM20.79 139.42h7.3v1.82h-7.3zM131.12 140.94h7.3v1.82h-7.3zM144.91 140.94h7.3v1.82h-7.3zM165.6 140.94h7.3v1.82h-7.3zM206.97 140.94h7.3v1.82h-7.3zM41.48 143.98h7.3v1.82h-7.3zM110.43 143.98h7.3v1.82h-7.3zM124.23 145.49h7.3v1.82h-7.3zM179.39 145.49h7.3v1.82h-7.3zM200.08 147.01h7.3v1.82h-7.3zM20.79 148.53h7.3v1.82h-7.3zM131.12 150.05h21.09v1.82h-21.09zM179.39 150.05h7.3v1.82h-7.3zM131.12 151.57h7.3v1.82h-7.3zM200.08 151.57h7.3v1.82h-7.3zM158.7 153.09h7.3v1.82h-7.3zM41.48 154.61h7.3v1.82h-7.3zM55.27 154.61h7.3v1.82h-7.3zM151.81 154.61h7.3v1.82h-7.3zM124.23 157.64h7.3v1.82h-7.3zM158.7 157.64h7.3v1.82h-7.3zM89.75 159.16h7.3v1.82h-7.3zM165.6 159.16h7.3v1.82h-7.3zM34.58 160.68h7.3v1.82h-7.3zM124.23 160.68h7.3v1.82h-7.3zM7 162.2h7.3v1.82h-7.3zM131.12 162.2h14.19v1.82h-14.19zM158.7 163.72h7.3v1.82h-7.3zM41.48 165.24h7.3v1.82h-7.3zM138.02 165.24h7.3v1.82h-7.3zM193.18 165.24h7.3v1.82h-7.3zM41.48 166.76h7.3v1.82h-7.3zM124.23 166.76h7.3v1.82h-7.3zM193.18 166.76h21.09v1.82h-21.09zM151.81 168.28h14.19v1.82h-14.19zM172.5 168.28h7.3v1.82h-7.3zM200.08 168.28h7.3v1.82h-7.3zM41.48 169.79h7.3v1.82h-7.3zM165.6 171.31h14.19v1.82h-14.19zM110.43 172.83h7.3v1.82h-7.3zM124.23 172.83h7.3v1.82h-7.3zM193.18 174.35h7.3v1.82h-7.3zM34.58 175.87h7.3v1.82h-7.3zM151.81 175.87h7.3v1.82h-7.3zM165.6 175.87h14.19v1.82h-14.19zM82.85 177.39h7.3v1.82h-7.3zM27.69 180.43h7.3v1.82h-7.3zM62.17 180.43h7.3v1.82h-7.3zM158.7 180.43h7.3v1.82h-7.3zM41.48 181.94h7.3v1.82h-7.3zM62.17 181.94h7.3v1.82h-7.3zM96.64 183.46h7.3v1.82h-7.3zM20.79 184.98h14.19v1.82h-14.19zM41.48 184.98h14.19v1.82h-14.19zM69.06 184.98h7.3v1.82h-7.3zM206.97 184.98h7.3v1.82h-7.3z"/><path fill="#fffab8" d="M110.43 65h7.3v1.82h-7.3zM131.12 65h7.3v1.82h-7.3zM172.5 66.52h7.3v1.82h-7.3zM186.29 66.52h7.3v1.82h-7.3zM27.69 69.56h7.3v1.82h-7.3zM193.18 69.56h7.3v1.82h-7.3zM110.43 71.08h7.3v1.82h-7.3zM13.9 72.59h7.3v1.82h-7.3zM34.58 74.11h7.3v1.82h-7.3zM34.58 75.63h7.3v1.82h-7.3zM138.02 75.63h7.3v1.82h-7.3zM248.35 75.63h7.3v1.82h-7.3zM151.81 77.15h7.3v1.82h-7.3zM41.48 80.19h14.19v1.82h-14.19zM151.81 81.71h7.3v1.82h-7.3zM193.18 81.71h7.3v1.82h-7.3zM200.08 83.22h7.3v1.82h-7.3zM131.12 84.74h7.3v1.82h-7.3zM193.18 87.78h7.3v1.82h-7.3zM34.58 89.3h7.3v1.82h-7.3zM186.29 89.3h7.3v1.82h-7.3zM200.08 89.3h7.3v1.82h-7.3zM34.58 92.34h7.3v1.82h-7.3zM62.17 93.86h7.3v1.82h-7.3zM124.23 93.86h7.3v1.82h-7.3zM27.69 98.41h7.3v1.82h-7.3zM34.58 113.6h7.3v1.82h-7.3zM110.43 116.64h7.3v1.82h-7.3zM193.18 116.64h7.3v1.82h-7.3zM13.9 118.16h7.3v1.82h-7.3zM124.23 118.16h7.3v1.82h-7.3zM158.7 119.68h14.19v1.82h-14.19zM13.9 121.19h7.3v1.82h-7.3zM131.12 122.71h7.3v1.82h-7.3zM158.7 122.71h7.3v1.82h-7.3zM27.69 125.75h7.3v1.82h-7.3zM158.7 125.75h7.3v1.82h-7.3zM34.58 131.82h14.19v1.82h-14.19zM200.08 131.82h7.3v1.82h-7.3zM193.18 133.34h7.3v1.82h-7.3zM7 134.86h7.3v1.82h-7.3zM82.85 134.86h7.3v1.82h-7.3zM158.7 134.86h7.3v1.82h-7.3zM124.23 136.38h7.3v1.82h-7.3zM172.5 136.38h7.3v1.82h-7.3zM138.02 137.9h7.3v1.82h-7.3zM151.81 137.9h7.3v1.82h-7.3zM172.5 137.9h7.3v1.82h-7.3zM144.91 139.42h7.3v1.82h-7.3zM172.5 139.42h7.3v1.82h-7.3zM200.08 139.42h7.3v1.82h-7.3zM275.93 142.46h7.3v1.82h-7.3zM172.5 145.49h7.3v1.82h-7.3zM206.97 145.49h7.3v1.82h-7.3zM138.02 148.53h14.19v1.82h-14.19zM193.18 150.05h7.3v1.82h-7.3zM206.97 150.05h7.3v1.82h-7.3zM110.43 151.57h7.3v1.82h-7.3zM151.81 151.57h7.3v1.82h-7.3zM206.97 153.09h7.3v1.82h-7.3zM34.58 154.61h7.3v1.82h-7.3zM138.02 154.61h7.3v1.82h-7.3zM179.39 154.61h14.19v1.82h-14.19zM206.97 154.61h7.3v1.82h-7.3zM41.48 156.12h7.3v1.82h-7.3zM124.23 156.12h7.3v1.82h-7.3zM179.39 156.12h7.3v1.82h-7.3zM193.18 156.12h7.3v1.82h-7.3zM206.97 156.12h7.3v1.82h-7.3zM41.48 157.64h7.3v1.82h-7.3zM200.08 159.16h7.3v1.82h-7.3zM144.91 160.68h7.3v1.82h-7.3zM206.97 160.68h7.3v1.82h-7.3zM158.7 162.2h7.3v1.82h-7.3zM179.39 162.2h7.3v1.82h-7.3zM138.02 163.72h7.3v1.82h-7.3zM186.29 163.72h7.3v1.82h-7.3zM179.39 165.24h7.3v1.82h-7.3zM34.58 166.76h7.3v1.82h-7.3zM165.6 166.76h7.3v1.82h-7.3zM110.43 168.28h7.3v1.82h-7.3zM138.02 169.79h7.3v1.82h-7.3zM144.91 172.83h7.3v1.82h-7.3zM20.79 180.43h7.3v1.82h-7.3zM27.69 181.94h7.3v1.82h-7.3zM206.97 181.94h7.3v1.82h-7.3zM7 184.98h7.3v1.82h-7.3z"/><path fill="#fff1aa" d="M206.97 65h7.3v1.82h-7.3zM20.79 66.52h7.3v1.82h-7.3zM55.27 66.52h7.3v1.82h-7.3zM75.96 66.52h7.3v1.82h-7.3zM96.64 66.52h7.3v1.82h-7.3zM151.81 66.52h7.3v1.82h-7.3zM165.6 66.52h7.3v1.82h-7.3zM7 68.04h7.3v1.82h-7.3zM69.06 68.04h7.3v1.82h-7.3zM117.33 68.04h7.3v1.82h-7.3zM186.29 68.04h7.3v1.82h-7.3zM234.56 69.56h7.3v1.82h-7.3zM234.56 74.11h7.3v1.82h-7.3zM241.45 78.67h7.3v1.82h-7.3zM262.14 78.67h7.3v1.82h-7.3zM82.85 80.19h7.3v1.82h-7.3zM165.6 80.19h14.19v1.82h-14.19zM186.29 80.19h7.3v1.82h-7.3zM34.58 86.26h7.3v1.82h-7.3zM275.93 96.89h7.3v1.82h-7.3zM310.41 101.45h7.3v1.82h-7.3zM262.14 104.49h7.3v1.82h-7.3zM289.72 104.49h7.3v1.82h-7.3zM165.6 122.71h7.3v1.82h-7.3zM7 130.31h7.3v1.82h-7.3zM131.12 130.31h14.19v1.82h-14.19zM27.69 133.34h7.3v1.82h-7.3zM96.64 134.86h7.3v1.82h-7.3zM55.27 136.38h7.3v1.82h-7.3zM75.96 136.38h7.3v1.82h-7.3zM82.85 137.9h14.19v1.82h-14.19zM124.23 137.9h7.3v1.82h-7.3zM158.7 137.9h7.3v1.82h-7.3zM41.48 140.94h7.3v1.82h-7.3zM172.5 142.46h7.3v1.82h-7.3zM206.97 142.46h7.3v1.82h-7.3zM124.23 143.98h7.3v1.82h-7.3zM186.29 143.98h7.3v1.82h-7.3zM131.12 145.49h7.3v1.82h-7.3zM34.58 147.01h7.3v1.82h-7.3zM110.43 147.01h7.3v1.82h-7.3zM124.23 147.01h7.3v1.82h-7.3zM151.81 147.01h7.3v1.82h-7.3zM179.39 147.01h7.3v1.82h-7.3zM186.29 148.53h7.3v1.82h-7.3zM34.58 150.05h14.19v1.82h-14.19zM165.6 150.05h7.3v1.82h-7.3zM41.48 151.57h7.3v1.82h-7.3zM165.6 151.57h7.3v1.82h-7.3zM193.18 151.57h7.3v1.82h-7.3zM82.85 153.09h7.3v1.82h-7.3zM193.18 153.09h7.3v1.82h-7.3zM131.12 157.64h7.3v1.82h-7.3zM193.18 159.16h7.3v1.82h-7.3zM138.02 160.68h7.3v1.82h-7.3zM172.5 162.2h7.3v1.82h-7.3zM48.37 163.72h7.3v1.82h-7.3zM34.58 165.24h7.3v1.82h-7.3zM138.02 166.76h7.3v1.82h-7.3zM158.7 166.76h7.3v1.82h-7.3zM138.02 168.28h7.3v1.82h-7.3zM124.23 169.79h7.3v1.82h-7.3zM165.6 169.79h7.3v1.82h-7.3zM158.7 172.83h14.19v1.82h-14.19zM131.12 175.87h14.19v1.82h-14.19zM193.18 175.87h7.3v1.82h-7.3zM89.75 177.39h7.3v1.82h-7.3zM179.39 177.39h14.19v1.82h-14.19zM55.27 178.91h7.3v1.82h-7.3zM82.85 178.91h7.3v1.82h-7.3zM34.58 180.43h7.3v1.82h-7.3zM144.91 180.43h7.3v1.82h-7.3zM165.6 180.43h7.3v1.82h-7.3zM7 183.46h7.3v1.82h-7.3zM20.79 183.46h7.3v1.82h-7.3zM41.48 183.46h7.3v1.82h-7.3zM62.17 183.46h7.3v1.82h-7.3zM206.97 183.46h7.3v1.82h-7.3zM13.9 184.98h7.3v1.82h-7.3zM55.27 184.98h7.3v1.82h-7.3zM103.54 184.98h7.3v1.82h-7.3z"/><path fill="#fee496" d="M213.87 65h7.3v1.82h-7.3zM234.56 66.52h7.3v1.82h-7.3zM255.24 69.56h7.3v1.82h-7.3zM241.45 74.11h7.3v1.82h-7.3zM269.03 74.11h7.3v1.82h-7.3zM220.77 75.63h7.3v1.82h-7.3zM275.93 75.63h7.3v1.82h-7.3zM255.24 77.15h7.3v1.82h-7.3zM317.3 78.67h7.3v1.82h-7.3zM269.03 81.71h7.3v1.82h-7.3zM289.72 81.71h7.3v1.82h-7.3zM275.93 83.22h7.3v1.82h-7.3zM269.03 84.74h14.19v1.82h-14.19zM296.62 86.26h7.3v1.82h-7.3zM317.3 86.26h7.3v1.82h-7.3zM220.77 87.78h7.3v1.82h-7.3zM296.62 90.82h7.3v1.82h-7.3zM262.14 93.86h7.3v1.82h-7.3zM248.35 95.38h7.3v1.82h-7.3zM269.03 95.38h7.3v1.82h-7.3zM234.56 96.89h7.3v1.82h-7.3zM282.83 98.41h7.3v1.82h-7.3zM241.45 99.93h7.3v1.82h-7.3zM296.62 99.93h7.3v1.82h-7.3zM213.87 102.97h7.3v1.82h-7.3zM241.45 102.97h7.3v1.82h-7.3zM269.03 102.97h7.3v1.82h-7.3zM227.66 104.49h7.3v1.82h-7.3zM303.51 104.49h7.3v1.82h-7.3zM234.56 106.01h14.19v1.82h-14.19zM303.51 106.01h7.3v1.82h-7.3zM227.66 107.53h7.3v1.82h-7.3zM241.45 109.04h7.3v1.82h-7.3zM282.83 109.04h7.3v1.82h-7.3zM303.51 109.04h7.3v1.82h-7.3zM262.14 112.08h14.19v1.82h-14.19zM213.87 113.6h7.3v1.82h-7.3zM241.45 113.6h7.3v1.82h-7.3zM303.51 113.6h7.3v1.82h-7.3zM241.45 116.64h7.3v1.82h-7.3zM241.45 118.16h7.3v1.82h-7.3zM269.03 121.19h7.3v1.82h-7.3zM241.45 122.71h7.3v1.82h-7.3zM275.93 124.23h7.3v1.82h-7.3zM303.51 124.23h7.3v1.82h-7.3zM220.77 125.75h7.3v1.82h-7.3zM48.37 130.31h7.3v1.82h-7.3zM89.75 130.31h7.3v1.82h-7.3zM13.9 131.82h7.3v1.82h-7.3zM96.64 131.82h14.19v1.82h-14.19zM62.17 134.86h7.3v1.82h-7.3zM55.27 137.9h7.3v1.82h-7.3zM69.06 137.9h7.3v1.82h-7.3zM69.06 139.42h7.3v1.82h-7.3zM20.79 143.98h7.3v1.82h-7.3zM82.85 143.98h7.3v1.82h-7.3zM27.69 145.49h7.3v1.82h-7.3zM13.9 147.01h7.3v1.82h-7.3zM13.9 150.05h7.3v1.82h-7.3zM55.27 150.05h7.3v1.82h-7.3zM13.9 151.57h7.3v1.82h-7.3zM62.17 153.09h14.19v1.82h-14.19zM96.64 153.09h7.3v1.82h-7.3zM96.64 154.61h7.3v1.82h-7.3zM13.9 160.68h7.3v1.82h-7.3zM62.17 160.68h7.3v1.82h-7.3zM20.79 162.2h14.19v1.82h-14.19zM55.27 162.2h14.19v1.82h-14.19zM27.69 166.76h7.3v1.82h-7.3zM48.37 166.76h7.3v1.82h-7.3zM82.85 166.76h7.3v1.82h-7.3zM96.64 169.79h7.3v1.82h-7.3zM13.9 171.31h7.3v1.82h-7.3zM89.75 171.31h7.3v1.82h-7.3zM55.27 174.35h7.3v1.82h-7.3zM69.06 174.35h7.3v1.82h-7.3zM82.85 174.35h14.19v1.82h-14.19zM48.37 175.87h14.19v1.82h-14.19zM96.64 177.39h7.3v1.82h-7.3zM144.91 177.39h7.3v1.82h-7.3zM172.5 177.39h7.3v1.82h-7.3zM151.81 178.91h7.3v1.82h-7.3zM200.08 178.91h7.3v1.82h-7.3zM200.08 180.43h7.3v1.82h-7.3zM158.7 181.94h7.3v1.82h-7.3zM193.18 183.46h7.3v1.82h-7.3z"/><path fill="#fee090" d="M220.77 65h7.3v1.82h-7.3zM296.62 65h7.3v1.82h-7.3zM213.87 66.52h7.3v1.82h-7.3zM255.24 66.52h7.3v1.82h-7.3zM213.87 68.04h7.3v1.82h-7.3zM220.77 69.56h7.3v1.82h-7.3zM213.87 71.08h7.3v1.82h-7.3zM303.51 75.63h7.3v1.82h-7.3zM213.87 77.15h7.3v1.82h-7.3zM269.03 78.67h7.3v1.82h-7.3zM62.17 80.19h7.3v1.82h-7.3zM103.54 80.19h7.3v1.82h-7.3zM213.87 80.19h7.3v1.82h-7.3zM310.41 80.19h7.3v1.82h-7.3zM248.35 81.71h7.3v1.82h-7.3zM262.14 81.71h7.3v1.82h-7.3zM248.35 83.22h7.3v1.82h-7.3zM310.41 83.22h7.3v1.82h-7.3zM227.66 84.74h7.3v1.82h-7.3zM241.45 84.74h7.3v1.82h-7.3zM303.51 84.74h7.3v1.82h-7.3zM289.72 86.26h7.3v1.82h-7.3zM317.3 87.78h7.3v1.82h-7.3zM303.51 92.34h7.3v1.82h-7.3zM241.45 93.86h7.3v1.82h-7.3zM289.72 93.86h7.3v1.82h-7.3zM220.77 95.38h7.3v1.82h-7.3zM282.83 96.89h7.3v1.82h-7.3zM317.3 99.93h7.3v1.82h-7.3zM282.83 102.97h7.3v1.82h-7.3zM269.03 104.49h7.3v1.82h-7.3zM227.66 106.01h7.3v1.82h-7.3zM213.87 109.04h7.3v1.82h-7.3zM234.56 110.56h7.3v1.82h-7.3zM255.24 110.56h7.3v1.82h-7.3zM275.93 110.56h7.3v1.82h-7.3zM296.62 110.56h7.3v1.82h-7.3zM255.24 113.6h7.3v1.82h-7.3zM310.41 113.6h7.3v1.82h-7.3zM296.62 115.12h7.3v1.82h-7.3zM269.03 116.64h7.3v1.82h-7.3zM296.62 116.64h7.3v1.82h-7.3zM269.03 118.16h7.3v1.82h-7.3zM317.3 118.16h7.3v1.82h-7.3zM262.14 119.68h7.3v1.82h-7.3zM317.3 119.68h7.3v1.82h-7.3zM220.77 121.19h7.3v1.82h-7.3zM289.72 121.19h7.3v1.82h-7.3zM220.77 127.27h7.3v1.82h-7.3zM248.35 127.27h14.19v1.82h-14.19zM34.58 128.79h7.3v1.82h-7.3zM62.17 131.82h7.3v1.82h-7.3zM103.54 136.38h7.3v1.82h-7.3zM75.96 139.42h14.19v1.82h-14.19zM13.9 140.94h7.3v1.82h-7.3zM89.75 140.94h7.3v1.82h-7.3zM103.54 140.94h7.3v1.82h-7.3zM27.69 142.46h7.3v1.82h-7.3zM20.79 147.01h7.3v1.82h-7.3zM96.64 148.53h14.19v1.82h-14.19zM89.75 150.05h14.19v1.82h-14.19zM48.37 151.57h7.3v1.82h-7.3zM62.17 151.57h7.3v1.82h-7.3zM96.64 151.57h7.3v1.82h-7.3zM20.79 154.61h7.3v1.82h-7.3zM69.06 156.12h14.19v1.82h-14.19zM82.85 157.64h14.19v1.82h-14.19zM13.9 159.16h7.3v1.82h-7.3zM27.69 159.16h7.3v1.82h-7.3zM55.27 160.68h7.3v1.82h-7.3zM89.75 160.68h7.3v1.82h-7.3zM69.06 162.2h7.3v1.82h-7.3zM62.17 163.72h14.19v1.82h-14.19zM96.64 163.72h7.3v1.82h-7.3zM55.27 165.24h14.19v1.82h-14.19zM82.85 165.24h7.3v1.82h-7.3zM48.37 168.28h7.3v1.82h-7.3zM69.06 169.79h7.3v1.82h-7.3zM7 171.31h7.3v1.82h-7.3zM13.9 172.83h14.19v1.82h-14.19zM103.54 174.35h7.3v1.82h-7.3zM27.69 175.87h7.3v1.82h-7.3zM193.18 177.39h7.3v1.82h-7.3zM124.23 178.91h7.3v1.82h-7.3z"/><path fill="#fed186" d="M227.66 65h7.3v1.82h-7.3zM289.72 66.52h7.3v1.82h-7.3zM255.24 68.04h7.3v1.82h-7.3zM296.62 69.56h7.3v1.82h-7.3zM269.03 71.08h7.3v1.82h-7.3zM289.72 71.08h14.19v1.82h-14.19zM282.83 72.59h7.3v1.82h-7.3zM303.51 74.11h7.3v1.82h-7.3zM296.62 75.63h7.3v1.82h-7.3zM282.83 77.15h7.3v1.82h-7.3zM282.83 78.67h7.3v1.82h-7.3zM310.41 78.67h7.3v1.82h-7.3zM289.72 80.19h14.19v1.82h-14.19zM227.66 81.71h14.19v1.82h-14.19zM255.24 81.71h7.3v1.82h-7.3zM282.83 81.71h7.3v1.82h-7.3zM296.62 83.22h7.3v1.82h-7.3zM310.41 84.74h7.3v1.82h-7.3zM282.83 86.26h7.3v1.82h-7.3zM296.62 87.78h7.3v1.82h-7.3zM310.41 87.78h7.3v1.82h-7.3zM269.03 89.3h7.3v1.82h-7.3zM289.72 89.3h7.3v1.82h-7.3zM310.41 89.3h7.3v1.82h-7.3zM220.77 90.82h7.3v1.82h-7.3zM220.77 92.34h21.09v1.82h-21.09zM269.03 92.34h7.3v1.82h-7.3zM282.83 92.34h7.3v1.82h-7.3zM255.24 104.49h7.3v1.82h-7.3zM220.77 109.04h7.3v1.82h-7.3zM282.83 110.56h7.3v1.82h-7.3zM248.35 112.08h14.19v1.82h-14.19zM296.62 112.08h7.3v1.82h-7.3zM310.41 112.08h14.19v1.82h-14.19zM234.56 113.6h7.3v1.82h-7.3zM220.77 115.12h14.19v1.82h-14.19zM213.87 116.64h7.3v1.82h-7.3zM303.51 116.64h7.3v1.82h-7.3zM227.66 118.16h7.3v1.82h-7.3zM255.24 118.16h7.3v1.82h-7.3zM282.83 118.16h7.3v1.82h-7.3zM213.87 121.19h7.3v1.82h-7.3zM296.62 121.19h7.3v1.82h-7.3zM220.77 122.71h7.3v1.82h-7.3zM275.93 122.71h7.3v1.82h-7.3zM282.83 125.75h7.3v1.82h-7.3zM269.03 127.27h7.3v1.82h-7.3zM289.72 127.27h7.3v1.82h-7.3zM303.51 127.27h7.3v1.82h-7.3zM75.96 130.31h7.3v1.82h-7.3zM62.17 140.94h7.3v1.82h-7.3zM89.75 143.98h14.19v1.82h-14.19zM13.9 145.49h7.3v1.82h-7.3zM69.06 145.49h7.3v1.82h-7.3zM48.37 147.01h7.3v1.82h-7.3zM62.17 147.01h7.3v1.82h-7.3zM89.75 147.01h7.3v1.82h-7.3zM62.17 150.05h7.3v1.82h-7.3zM103.54 150.05h7.3v1.82h-7.3zM103.54 151.57h7.3v1.82h-7.3zM55.27 157.64h7.3v1.82h-7.3zM69.06 159.16h7.3v1.82h-7.3zM96.64 162.2h7.3v1.82h-7.3zM13.9 165.24h7.3v1.82h-7.3zM69.06 165.24h7.3v1.82h-7.3zM75.96 168.28h7.3v1.82h-7.3zM69.06 171.31h7.3v1.82h-7.3zM103.54 171.31h7.3v1.82h-7.3zM48.37 172.83h7.3v1.82h-7.3zM62.17 172.83h7.3v1.82h-7.3zM75.96 174.35h7.3v1.82h-7.3zM62.17 175.87h7.3v1.82h-7.3zM89.75 175.87h7.3v1.82h-7.3zM48.37 178.91h7.3v1.82h-7.3z"/><path fill="#feeba1" d="M241.45 65h7.3v1.82h-7.3zM13.9 66.52h7.3v1.82h-7.3zM179.39 66.52h7.3v1.82h-7.3zM193.18 66.52h7.3v1.82h-7.3zM27.69 68.04h7.3v1.82h-7.3zM48.37 68.04h7.3v1.82h-7.3zM151.81 68.04h14.19v1.82h-14.19zM241.45 69.56h7.3v1.82h-7.3zM227.66 72.59h7.3v1.82h-7.3zM220.77 74.11h7.3v1.82h-7.3zM248.35 74.11h14.19v1.82h-14.19zM227.66 75.63h7.3v1.82h-7.3zM234.56 78.67h7.3v1.82h-7.3zM69.06 80.19h7.3v1.82h-7.3zM179.39 80.19h7.3v1.82h-7.3zM193.18 80.19h7.3v1.82h-7.3zM227.66 80.19h7.3v1.82h-7.3zM248.35 80.19h7.3v1.82h-7.3zM248.35 92.34h7.3v1.82h-7.3zM248.35 96.89h7.3v1.82h-7.3zM220.77 98.41h7.3v1.82h-7.3zM248.35 99.93h7.3v1.82h-7.3zM262.14 99.93h7.3v1.82h-7.3zM275.93 101.45h7.3v1.82h-7.3zM317.3 102.97h7.3v1.82h-7.3zM234.56 104.49h7.3v1.82h-7.3zM220.77 106.01h7.3v1.82h-7.3zM255.24 106.01h14.19v1.82h-14.19zM262.14 109.04h7.3v1.82h-7.3zM296.62 109.04h7.3v1.82h-7.3zM34.58 121.19h7.3v1.82h-7.3zM262.14 122.71h7.3v1.82h-7.3zM20.79 130.31h7.3v1.82h-7.3zM103.54 130.31h7.3v1.82h-7.3zM7 131.82h7.3v1.82h-7.3zM7 133.34h7.3v1.82h-7.3zM62.17 133.34h7.3v1.82h-7.3zM69.06 134.86h7.3v1.82h-7.3zM82.85 136.38h7.3v1.82h-7.3zM62.17 137.9h7.3v1.82h-7.3zM55.27 139.42h7.3v1.82h-7.3zM34.58 140.94h7.3v1.82h-7.3zM200.08 142.46h7.3v1.82h-7.3zM138.02 143.98h7.3v1.82h-7.3zM165.6 143.98h7.3v1.82h-7.3zM206.97 143.98h7.3v1.82h-7.3zM165.6 145.49h7.3v1.82h-7.3zM186.29 145.49h7.3v1.82h-7.3zM144.91 147.01h7.3v1.82h-7.3zM7 148.53h7.3v1.82h-7.3zM27.69 148.53h7.3v1.82h-7.3zM48.37 148.53h7.3v1.82h-7.3zM172.5 150.05h7.3v1.82h-7.3zM7 151.57h7.3v1.82h-7.3zM27.69 151.57h7.3v1.82h-7.3zM27.69 153.09h7.3v1.82h-7.3zM48.37 153.09h7.3v1.82h-7.3zM89.75 154.61h7.3v1.82h-7.3zM27.69 156.12h7.3v1.82h-7.3zM96.64 159.16h7.3v1.82h-7.3zM69.06 160.68h7.3v1.82h-7.3zM13.9 162.2h7.3v1.82h-7.3zM82.85 162.2h7.3v1.82h-7.3zM55.27 163.72h7.3v1.82h-7.3zM55.27 166.76h7.3v1.82h-7.3zM27.69 169.79h7.3v1.82h-7.3zM7 174.35h7.3v1.82h-7.3zM20.79 174.35h7.3v1.82h-7.3zM96.64 175.87h7.3v1.82h-7.3zM124.23 175.87h7.3v1.82h-7.3zM41.48 177.39h7.3v1.82h-7.3zM69.06 177.39h14.19v1.82h-14.19zM206.97 177.39h7.3v1.82h-7.3zM20.79 178.91h7.3v1.82h-7.3zM41.48 178.91h7.3v1.82h-7.3zM138.02 180.43h7.3v1.82h-7.3zM75.96 181.94h7.3v1.82h-7.3zM103.54 181.94h7.3v1.82h-7.3zM131.12 181.94h7.3v1.82h-7.3zM165.6 181.94h7.3v1.82h-7.3zM69.06 183.46h7.3v1.82h-7.3z"/><path fill="#fee699" d="M255.24 65h7.3v1.82h-7.3zM13.9 68.04h7.3v1.82h-7.3zM227.66 69.56h7.3v1.82h-7.3zM227.66 71.08h7.3v1.82h-7.3zM241.45 72.59h7.3v1.82h-7.3zM227.66 74.11h7.3v1.82h-7.3zM262.14 74.11h7.3v1.82h-7.3zM289.72 74.11h7.3v1.82h-7.3zM234.56 75.63h7.3v1.82h-7.3zM227.66 77.15h7.3v1.82h-7.3zM248.35 77.15h7.3v1.82h-7.3zM34.58 80.19h7.3v1.82h-7.3zM158.7 80.19h7.3v1.82h-7.3zM241.45 81.71h7.3v1.82h-7.3zM248.35 84.74h7.3v1.82h-7.3zM310.41 92.34h7.3v1.82h-7.3zM220.77 96.89h7.3v1.82h-7.3zM241.45 96.89h7.3v1.82h-7.3zM255.24 96.89h7.3v1.82h-7.3zM269.03 96.89h7.3v1.82h-7.3zM262.14 98.41h7.3v1.82h-7.3zM269.03 99.93h14.19v1.82h-14.19zM303.51 101.45h7.3v1.82h-7.3zM248.35 104.49h7.3v1.82h-7.3zM282.83 104.49h7.3v1.82h-7.3zM275.93 106.01h7.3v1.82h-7.3zM289.72 106.01h7.3v1.82h-7.3zM220.77 107.53h7.3v1.82h-7.3zM275.93 107.53h7.3v1.82h-7.3zM269.03 109.04h14.19v1.82h-14.19zM269.03 110.56h7.3v1.82h-7.3zM234.56 112.08h7.3v1.82h-7.3zM241.45 115.12h7.3v1.82h-7.3zM262.14 124.23h7.3v1.82h-7.3zM289.72 124.23h7.3v1.82h-7.3zM269.03 125.75h7.3v1.82h-7.3zM303.51 125.75h7.3v1.82h-7.3zM234.56 127.27h7.3v1.82h-7.3zM55.27 130.31h14.19v1.82h-14.19zM27.69 131.82h7.3v1.82h-7.3zM48.37 131.82h7.3v1.82h-7.3zM96.64 133.34h7.3v1.82h-7.3zM13.9 136.38h7.3v1.82h-7.3zM27.69 136.38h7.3v1.82h-7.3zM69.06 136.38h7.3v1.82h-7.3zM13.9 137.9h7.3v1.82h-7.3zM48.37 137.9h7.3v1.82h-7.3zM13.9 139.42h7.3v1.82h-7.3zM48.37 139.42h7.3v1.82h-7.3zM103.54 139.42h7.3v1.82h-7.3zM69.06 140.94h7.3v1.82h-7.3zM193.18 140.94h7.3v1.82h-7.3zM20.79 142.46h7.3v1.82h-7.3zM13.9 148.53h7.3v1.82h-7.3zM20.79 150.05h7.3v1.82h-7.3zM62.17 154.61h14.19v1.82h-14.19zM7 157.64h7.3v1.82h-7.3zM27.69 157.64h7.3v1.82h-7.3zM55.27 159.16h7.3v1.82h-7.3zM48.37 160.68h7.3v1.82h-7.3zM75.96 160.68h7.3v1.82h-7.3zM96.64 160.68h7.3v1.82h-7.3zM13.9 163.72h7.3v1.82h-7.3zM27.69 163.72h7.3v1.82h-7.3zM75.96 163.72h7.3v1.82h-7.3zM103.54 166.76h7.3v1.82h-7.3zM13.9 168.28h14.19v1.82h-14.19zM55.27 169.79h7.3v1.82h-7.3zM27.69 172.83h7.3v1.82h-7.3zM7 175.87h7.3v1.82h-7.3zM82.85 175.87h7.3v1.82h-7.3zM200.08 177.39h7.3v1.82h-7.3zM34.58 178.91h7.3v1.82h-7.3zM89.75 178.91h7.3v1.82h-7.3zM103.54 178.91h7.3v1.82h-7.3zM117.33 178.91h7.3v1.82h-7.3zM131.12 178.91h14.19v1.82h-14.19zM144.91 181.94h7.3v1.82h-7.3zM75.96 183.46h7.3v1.82h-7.3zM131.12 183.46h7.3v1.82h-7.3zM158.7 183.46h7.3v1.82h-7.3z"/><path fill="#fee293" d="M262.14 65h7.3v1.82h-7.3zM282.83 65h7.3v1.82h-7.3zM241.45 66.52h7.3v1.82h-7.3zM96.64 68.04h7.3v1.82h-7.3zM310.41 69.56h7.3v1.82h-7.3zM275.93 72.59h7.3v1.82h-7.3zM289.72 75.63h7.3v1.82h-7.3zM262.14 77.15h7.3v1.82h-7.3zM289.72 78.67h7.3v1.82h-7.3zM75.96 80.19h7.3v1.82h-7.3zM234.56 80.19h7.3v1.82h-7.3zM262.14 80.19h14.19v1.82h-14.19zM248.35 86.26h7.3v1.82h-7.3zM262.14 86.26h7.3v1.82h-7.3zM303.51 90.82h7.3v1.82h-7.3zM241.45 95.38h7.3v1.82h-7.3zM289.72 95.38h7.3v1.82h-7.3zM303.51 95.38h7.3v1.82h-7.3zM275.93 98.41h7.3v1.82h-7.3zM310.41 98.41h7.3v1.82h-7.3zM220.77 99.93h14.19v1.82h-14.19zM310.41 99.93h7.3v1.82h-7.3zM213.87 101.45h7.3v1.82h-7.3zM227.66 101.45h7.3v1.82h-7.3zM255.24 101.45h7.3v1.82h-7.3zM255.24 102.97h7.3v1.82h-7.3zM275.93 102.97h7.3v1.82h-7.3zM296.62 102.97h7.3v1.82h-7.3zM275.93 104.49h7.3v1.82h-7.3zM296.62 104.49h7.3v1.82h-7.3zM213.87 106.01h7.3v1.82h-7.3zM227.66 109.04h14.19v1.82h-14.19zM317.3 109.04h7.3v1.82h-7.3zM220.77 112.08h7.3v1.82h-7.3zM241.45 112.08h7.3v1.82h-7.3zM303.51 112.08h7.3v1.82h-7.3zM227.66 113.6h7.3v1.82h-7.3zM262.14 113.6h7.3v1.82h-7.3zM269.03 115.12h14.19v1.82h-14.19zM303.51 115.12h7.3v1.82h-7.3zM317.3 115.12h7.3v1.82h-7.3zM248.35 118.16h7.3v1.82h-7.3zM262.14 118.16h7.3v1.82h-7.3zM303.51 118.16h7.3v1.82h-7.3zM241.45 119.68h14.19v1.82h-14.19zM269.03 124.23h7.3v1.82h-7.3zM234.56 125.75h7.3v1.82h-7.3zM275.93 125.75h7.3v1.82h-7.3zM262.14 127.27h7.3v1.82h-7.3zM69.06 130.31h7.3v1.82h-7.3zM75.96 131.82h7.3v1.82h-7.3zM82.85 133.34h7.3v1.82h-7.3zM96.64 137.9h7.3v1.82h-7.3zM96.64 139.42h7.3v1.82h-7.3zM96.64 140.94h7.3v1.82h-7.3zM82.85 142.46h7.3v1.82h-7.3zM165.6 142.46h7.3v1.82h-7.3zM27.69 143.98h7.3v1.82h-7.3zM75.96 145.49h7.3v1.82h-7.3zM7 147.01h7.3v1.82h-7.3zM103.54 147.01h7.3v1.82h-7.3zM89.75 148.53h7.3v1.82h-7.3zM48.37 150.05h7.3v1.82h-7.3zM75.96 154.61h7.3v1.82h-7.3zM103.54 154.61h7.3v1.82h-7.3zM13.9 156.12h7.3v1.82h-7.3zM96.64 156.12h7.3v1.82h-7.3zM13.9 157.64h7.3v1.82h-7.3zM20.79 165.24h7.3v1.82h-7.3zM96.64 165.24h7.3v1.82h-7.3zM7 166.76h14.19v1.82h-14.19zM96.64 166.76h7.3v1.82h-7.3zM27.69 168.28h7.3v1.82h-7.3zM48.37 169.79h7.3v1.82h-7.3zM62.17 169.79h7.3v1.82h-7.3zM96.64 171.31h7.3v1.82h-7.3zM103.54 172.83h7.3v1.82h-7.3zM117.33 177.39h7.3v1.82h-7.3zM13.9 178.91h7.3v1.82h-7.3zM62.17 178.91h14.19v1.82h-14.19zM165.6 178.91h7.3v1.82h-7.3zM179.39 178.91h14.19v1.82h-14.19zM69.06 181.94h7.3v1.82h-7.3zM151.81 181.94h7.3v1.82h-7.3zM172.5 181.94h7.3v1.82h-7.3zM165.6 183.46h7.3v1.82h-7.3z"/><path fill="#fed689" d="M269.03 65h14.19v1.82h-14.19zM303.51 65h7.3v1.82h-7.3zM227.66 66.52h7.3v1.82h-7.3zM275.93 66.52h7.3v1.82h-7.3zM296.62 66.52h7.3v1.82h-7.3zM220.77 68.04h7.3v1.82h-7.3zM317.3 69.56h7.3v1.82h-7.3zM310.41 71.08h7.3v1.82h-7.3zM296.62 72.59h21.09v1.82h-21.09zM269.03 75.63h7.3v1.82h-7.3zM310.41 75.63h7.3v1.82h-7.3zM282.83 80.19h7.3v1.82h-7.3zM220.77 81.71h7.3v1.82h-7.3zM310.41 81.71h14.19v1.82h-14.19zM289.72 83.22h7.3v1.82h-7.3zM303.51 83.22h7.3v1.82h-7.3zM220.77 84.74h7.3v1.82h-7.3zM213.87 87.78h7.3v1.82h-7.3zM234.56 87.78h7.3v1.82h-7.3zM262.14 89.3h7.3v1.82h-7.3zM213.87 90.82h7.3v1.82h-7.3zM241.45 90.82h14.19v1.82h-14.19zM296.62 92.34h7.3v1.82h-7.3zM234.56 93.86h7.3v1.82h-7.3zM269.03 93.86h7.3v1.82h-7.3zM296.62 93.86h7.3v1.82h-7.3zM317.3 93.86h7.3v1.82h-7.3zM234.56 95.38h7.3v1.82h-7.3zM255.24 95.38h7.3v1.82h-7.3zM310.41 95.38h14.19v1.82h-14.19zM227.66 96.89h7.3v1.82h-7.3zM255.24 98.41h7.3v1.82h-7.3zM317.3 98.41h7.3v1.82h-7.3zM317.3 104.49h7.3v1.82h-7.3zM220.77 110.56h7.3v1.82h-7.3zM241.45 110.56h7.3v1.82h-7.3zM303.51 110.56h7.3v1.82h-7.3zM227.66 112.08h7.3v1.82h-7.3zM282.83 112.08h7.3v1.82h-7.3zM220.77 113.6h7.3v1.82h-7.3zM289.72 113.6h14.19v1.82h-14.19zM317.3 113.6h7.3v1.82h-7.3zM255.24 115.12h7.3v1.82h-7.3zM234.56 116.64h7.3v1.82h-7.3zM220.77 118.16h7.3v1.82h-7.3zM234.56 118.16h7.3v1.82h-7.3zM310.41 118.16h7.3v1.82h-7.3zM269.03 119.68h7.3v1.82h-7.3zM289.72 119.68h7.3v1.82h-7.3zM220.77 124.23h7.3v1.82h-7.3zM234.56 124.23h27.98v1.82h-27.98zM213.87 125.75h7.3v1.82h-7.3zM248.35 125.75h7.3v1.82h-7.3zM241.45 127.27h7.3v1.82h-7.3zM275.93 127.27h7.3v1.82h-7.3zM7 142.46h14.19v1.82h-14.19zM48.37 142.46h7.3v1.82h-7.3zM13.9 143.98h7.3v1.82h-7.3zM96.64 145.49h7.3v1.82h-7.3zM55.27 147.01h7.3v1.82h-7.3zM55.27 148.53h14.19v1.82h-14.19zM69.06 150.05h14.19v1.82h-14.19zM69.06 151.57h7.3v1.82h-7.3zM89.75 151.57h7.3v1.82h-7.3zM75.96 153.09h7.3v1.82h-7.3zM55.27 156.12h7.3v1.82h-7.3zM103.54 156.12h7.3v1.82h-7.3zM62.17 157.64h7.3v1.82h-7.3zM75.96 159.16h7.3v1.82h-7.3zM103.54 162.2h7.3v1.82h-7.3zM62.17 166.76h7.3v1.82h-7.3zM75.96 166.76h7.3v1.82h-7.3zM89.75 166.76h7.3v1.82h-7.3zM89.75 168.28h7.3v1.82h-7.3zM75.96 169.79h7.3v1.82h-7.3zM103.54 169.79h7.3v1.82h-7.3zM48.37 171.31h7.3v1.82h-7.3zM62.17 171.31h7.3v1.82h-7.3zM82.85 171.31h7.3v1.82h-7.3zM89.75 172.83h7.3v1.82h-7.3zM96.64 174.35h7.3v1.82h-7.3zM75.96 175.87h7.3v1.82h-7.3zM138.02 177.39h7.3v1.82h-7.3zM158.7 177.39h7.3v1.82h-7.3zM27.69 178.91h7.3v1.82h-7.3zM110.43 178.91h7.3v1.82h-7.3z"/><path fill="#fedb8d" d="M289.72 65h7.3v1.82h-7.3zM310.41 65h7.3v1.82h-7.3zM220.77 66.52h7.3v1.82h-7.3zM262.14 66.52h7.3v1.82h-7.3zM234.56 68.04h14.19v1.82h-14.19zM282.83 69.56h7.3v1.82h-7.3zM262.14 71.08h7.3v1.82h-7.3zM275.93 71.08h7.3v1.82h-7.3zM269.03 72.59h7.3v1.82h-7.3zM317.3 72.59h7.3v1.82h-7.3zM275.93 74.11h7.3v1.82h-7.3zM296.62 74.11h7.3v1.82h-7.3zM275.93 77.15h7.3v1.82h-7.3zM289.72 77.15h7.3v1.82h-7.3zM303.51 78.67h7.3v1.82h-7.3zM262.14 84.74h7.3v1.82h-7.3zM282.83 84.74h7.3v1.82h-7.3zM296.62 84.74h7.3v1.82h-7.3zM275.93 86.26h7.3v1.82h-7.3zM310.41 86.26h7.3v1.82h-7.3zM255.24 87.78h7.3v1.82h-7.3zM303.51 87.78h7.3v1.82h-7.3zM289.72 90.82h7.3v1.82h-7.3zM241.45 92.34h7.3v1.82h-7.3zM275.93 92.34h7.3v1.82h-7.3zM289.72 92.34h7.3v1.82h-7.3zM248.35 93.86h7.3v1.82h-7.3zM303.51 93.86h7.3v1.82h-7.3zM275.93 95.38h7.3v1.82h-7.3zM213.87 98.41h7.3v1.82h-7.3zM269.03 98.41h7.3v1.82h-7.3zM289.72 98.41h14.19v1.82h-14.19zM213.87 99.93h7.3v1.82h-7.3zM310.41 106.01h14.19v1.82h-14.19zM248.35 110.56h7.3v1.82h-7.3zM262.14 110.56h7.3v1.82h-7.3zM282.83 113.6h7.3v1.82h-7.3zM248.35 115.12h7.3v1.82h-7.3zM262.14 116.64h7.3v1.82h-7.3zM275.93 116.64h7.3v1.82h-7.3zM296.62 122.71h7.3v1.82h-7.3zM296.62 124.23h7.3v1.82h-7.3zM310.41 124.23h14.19v1.82h-14.19zM241.45 125.75h7.3v1.82h-7.3zM296.62 125.75h7.3v1.82h-7.3zM317.3 125.75h7.3v1.82h-7.3zM282.83 127.27h7.3v1.82h-7.3zM48.37 133.34h7.3v1.82h-7.3zM103.54 133.34h7.3v1.82h-7.3zM103.54 137.9h7.3v1.82h-7.3zM48.37 140.94h14.19v1.82h-14.19zM89.75 142.46h14.19v1.82h-14.19zM48.37 145.49h7.3v1.82h-7.3zM75.96 148.53h7.3v1.82h-7.3zM13.9 153.09h7.3v1.82h-7.3zM69.06 157.64h7.3v1.82h-7.3zM96.64 157.64h7.3v1.82h-7.3zM75.96 162.2h7.3v1.82h-7.3zM89.75 165.24h7.3v1.82h-7.3zM103.54 165.24h7.3v1.82h-7.3zM62.17 168.28h7.3v1.82h-7.3zM82.85 169.79h7.3v1.82h-7.3zM55.27 171.31h7.3v1.82h-7.3zM82.85 172.83h7.3v1.82h-7.3zM96.64 172.83h7.3v1.82h-7.3zM13.9 174.35h7.3v1.82h-7.3zM48.37 174.35h7.3v1.82h-7.3zM62.17 174.35h7.3v1.82h-7.3zM13.9 175.87h7.3v1.82h-7.3zM124.23 177.39h7.3v1.82h-7.3zM158.7 178.91h7.3v1.82h-7.3z"/><path fill="#fdc27c" d="M317.3 65h7.3v1.82h-7.3zM269.03 66.52h7.3v1.82h-7.3zM303.51 66.52h7.3v1.82h-7.3zM282.83 71.08h7.3v1.82h-7.3zM317.3 71.08h7.3v1.82h-7.3zM282.83 74.11h7.3v1.82h-7.3zM310.41 74.11h7.3v1.82h-7.3zM282.83 75.63h7.3v1.82h-7.3zM310.41 77.15h7.3v1.82h-7.3zM317.3 80.19h7.3v1.82h-7.3zM275.93 81.71h7.3v1.82h-7.3zM296.62 81.71h7.3v1.82h-7.3zM269.03 83.22h7.3v1.82h-7.3zM241.45 86.26h7.3v1.82h-7.3zM269.03 87.78h7.3v1.82h-7.3zM248.35 89.3h7.3v1.82h-7.3zM275.93 89.3h7.3v1.82h-7.3zM282.83 90.82h7.3v1.82h-7.3zM220.77 93.86h7.3v1.82h-7.3zM255.24 93.86h7.3v1.82h-7.3zM234.56 98.41h7.3v1.82h-7.3zM310.41 115.12h7.3v1.82h-7.3zM227.66 116.64h7.3v1.82h-7.3zM248.35 116.64h7.3v1.82h-7.3zM255.24 119.68h7.3v1.82h-7.3zM303.51 119.68h7.3v1.82h-7.3zM234.56 121.19h7.3v1.82h-7.3zM310.41 121.19h14.19v1.82h-14.19zM255.24 122.71h7.3v1.82h-7.3zM317.3 122.71h7.3v1.82h-7.3zM213.87 124.23h7.3v1.82h-7.3zM317.3 127.27h7.3v1.82h-7.3zM103.54 142.46h7.3v1.82h-7.3zM103.54 145.49h7.3v1.82h-7.3zM75.96 147.01h7.3v1.82h-7.3zM103.54 168.28h7.3v1.82h-7.3zM69.06 175.87h7.3v1.82h-7.3z"/><path fill="#fee89b" d="M248.35 66.52h7.3v1.82h-7.3zM103.54 68.04h14.19v1.82h-14.19zM248.35 68.04h7.3v1.82h-7.3zM262.14 69.56h7.3v1.82h-7.3zM213.87 72.59h7.3v1.82h-7.3zM255.24 72.59h7.3v1.82h-7.3zM213.87 75.63h7.3v1.82h-7.3zM255.24 75.63h7.3v1.82h-7.3zM220.77 78.67h7.3v1.82h-7.3zM96.64 80.19h7.3v1.82h-7.3zM138.02 80.19h14.19v1.82h-14.19zM317.3 90.82h7.3v1.82h-7.3zM262.14 92.34h7.3v1.82h-7.3zM262.14 95.38h7.3v1.82h-7.3zM282.83 95.38h7.3v1.82h-7.3zM296.62 95.38h7.3v1.82h-7.3zM296.62 96.89h7.3v1.82h-7.3zM310.41 96.89h14.19v1.82h-14.19zM248.35 98.41h7.3v1.82h-7.3zM303.51 98.41h7.3v1.82h-7.3zM303.51 99.93h7.3v1.82h-7.3zM220.77 101.45h7.3v1.82h-7.3zM282.83 101.45h7.3v1.82h-7.3zM317.3 101.45h7.3v1.82h-7.3zM227.66 102.97h7.3v1.82h-7.3zM262.14 102.97h7.3v1.82h-7.3zM303.51 102.97h14.19v1.82h-14.19zM213.87 107.53h7.3v1.82h-7.3zM255.24 107.53h7.3v1.82h-7.3zM289.72 107.53h7.3v1.82h-7.3zM303.51 107.53h7.3v1.82h-7.3zM317.3 107.53h7.3v1.82h-7.3zM255.24 109.04h7.3v1.82h-7.3zM289.72 109.04h7.3v1.82h-7.3zM289.72 112.08h7.3v1.82h-7.3zM269.03 113.6h7.3v1.82h-7.3zM289.72 115.12h7.3v1.82h-7.3zM296.62 118.16h7.3v1.82h-7.3zM262.14 121.19h7.3v1.82h-7.3zM41.48 128.79h7.3v1.82h-7.3zM13.9 130.31h7.3v1.82h-7.3zM27.69 130.31h7.3v1.82h-7.3zM69.06 131.82h7.3v1.82h-7.3zM89.75 131.82h7.3v1.82h-7.3zM69.06 133.34h7.3v1.82h-7.3zM34.58 137.9h7.3v1.82h-7.3zM62.17 139.42h7.3v1.82h-7.3zM89.75 139.42h7.3v1.82h-7.3zM7 140.94h7.3v1.82h-7.3zM20.79 140.94h7.3v1.82h-7.3zM82.85 140.94h7.3v1.82h-7.3zM55.27 142.46h7.3v1.82h-7.3zM124.23 142.46h14.19v1.82h-14.19zM172.5 143.98h7.3v1.82h-7.3zM82.85 145.49h14.19v1.82h-14.19zM27.69 147.01h7.3v1.82h-7.3zM41.48 147.01h7.3v1.82h-7.3zM193.18 147.01h7.3v1.82h-7.3zM82.85 148.53h7.3v1.82h-7.3zM82.85 150.05h7.3v1.82h-7.3zM20.79 151.57h7.3v1.82h-7.3zM48.37 154.61h7.3v1.82h-7.3zM62.17 156.12h7.3v1.82h-7.3zM48.37 159.16h7.3v1.82h-7.3zM62.17 159.16h7.3v1.82h-7.3zM7 160.68h7.3v1.82h-7.3zM20.79 160.68h7.3v1.82h-7.3zM103.54 160.68h7.3v1.82h-7.3zM89.75 162.2h7.3v1.82h-7.3zM20.79 163.72h7.3v1.82h-7.3zM82.85 163.72h7.3v1.82h-7.3zM27.69 165.24h7.3v1.82h-7.3zM48.37 165.24h7.3v1.82h-7.3zM89.75 169.79h7.3v1.82h-7.3zM20.79 171.31h7.3v1.82h-7.3zM7 172.83h7.3v1.82h-7.3zM41.48 172.83h7.3v1.82h-7.3zM7 177.39h14.19v1.82h-14.19zM110.43 177.39h7.3v1.82h-7.3zM7 178.91h7.3v1.82h-7.3zM144.91 178.91h7.3v1.82h-7.3zM69.06 180.43h7.3v1.82h-7.3zM13.9 181.94h7.3v1.82h-7.3zM138.02 181.94h7.3v1.82h-7.3zM186.29 181.94h7.3v1.82h-7.3zM27.69 183.46h7.3v1.82h-7.3zM89.75 183.46h7.3v1.82h-7.3zM138.02 183.46h7.3v1.82h-7.3zM151.81 183.46h7.3v1.82h-7.3zM172.5 183.46h7.3v1.82h-7.3z"/><path fill="#fdb372" d="M282.83 66.52h7.3v1.82h-7.3zM269.03 68.04h7.3v1.82h-7.3zM317.3 77.15h7.3v1.82h-7.3zM213.87 83.22h14.19v1.82h-14.19zM220.77 86.26h7.3v1.82h-7.3zM317.3 89.3h7.3v1.82h-7.3zM317.3 92.34h7.3v1.82h-7.3zM227.66 93.86h7.3v1.82h-7.3zM282.83 121.19h7.3v1.82h-7.3z"/><path fill="#fda96b" d="M310.41 66.52h7.3v1.82h-7.3zM213.87 112.08h7.3v1.82h-7.3zM255.24 121.19h7.3v1.82h-7.3z"/><path fill="#fdae6f" d="M317.3 66.52h7.3v1.82h-7.3zM282.83 68.04h14.19v1.82h-14.19zM234.56 84.74h7.3v1.82h-7.3zM255.24 89.3h7.3v1.82h-7.3zM213.87 93.86h7.3v1.82h-7.3zM275.93 119.68h7.3v1.82h-7.3zM248.35 121.19h7.3v1.82h-7.3zM227.66 127.27h7.3v1.82h-7.3zM75.96 142.46h7.3v1.82h-7.3z"/><path fill="#fdc77f" d="M227.66 68.04h7.3v1.82h-7.3zM275.93 68.04h7.3v1.82h-7.3zM303.51 68.04h7.3v1.82h-7.3zM317.3 68.04h7.3v1.82h-7.3zM269.03 77.15h7.3v1.82h-7.3zM296.62 77.15h14.19v1.82h-14.19zM213.87 81.71h7.3v1.82h-7.3zM255.24 83.22h7.3v1.82h-7.3zM282.83 83.22h7.3v1.82h-7.3zM213.87 84.74h7.3v1.82h-7.3zM289.72 84.74h7.3v1.82h-7.3zM213.87 86.26h7.3v1.82h-7.3zM227.66 86.26h7.3v1.82h-7.3zM269.03 86.26h7.3v1.82h-7.3zM241.45 87.78h7.3v1.82h-7.3zM262.14 87.78h7.3v1.82h-7.3zM282.83 87.78h7.3v1.82h-7.3zM213.87 89.3h7.3v1.82h-7.3zM227.66 89.3h21.09v1.82h-21.09zM303.51 89.3h7.3v1.82h-7.3zM255.24 90.82h7.3v1.82h-7.3zM255.24 92.34h7.3v1.82h-7.3zM275.93 93.86h14.19v1.82h-14.19zM227.66 95.38h7.3v1.82h-7.3zM227.66 98.41h7.3v1.82h-7.3zM282.83 99.93h7.3v1.82h-7.3zM289.72 110.56h7.3v1.82h-7.3zM310.41 110.56h7.3v1.82h-7.3zM275.93 112.08h7.3v1.82h-7.3zM234.56 115.12h7.3v1.82h-7.3zM220.77 116.64h7.3v1.82h-7.3zM213.87 119.68h7.3v1.82h-7.3zM296.62 119.68h7.3v1.82h-7.3zM227.66 121.19h7.3v1.82h-7.3zM275.93 121.19h7.3v1.82h-7.3zM213.87 122.71h7.3v1.82h-7.3zM269.03 122.71h7.3v1.82h-7.3zM282.83 122.71h7.3v1.82h-7.3zM262.14 125.75h7.3v1.82h-7.3zM289.72 125.75h7.3v1.82h-7.3zM310.41 125.75h7.3v1.82h-7.3zM213.87 127.27h7.3v1.82h-7.3zM296.62 127.27h7.3v1.82h-7.3zM75.96 140.94h7.3v1.82h-7.3zM48.37 143.98h7.3v1.82h-7.3zM69.06 143.98h7.3v1.82h-7.3zM20.79 145.49h7.3v1.82h-7.3zM75.96 151.57h7.3v1.82h-7.3zM75.96 165.24h7.3v1.82h-7.3zM13.9 169.79h7.3v1.82h-7.3zM69.06 172.83h7.3v1.82h-7.3z"/><path fill="#fdb875" d="M262.14 68.04h7.3v1.82h-7.3zM296.62 68.04h7.3v1.82h-7.3zM317.3 74.11h7.3v1.82h-7.3zM275.93 80.19h7.3v1.82h-7.3zM234.56 83.22h7.3v1.82h-7.3zM317.3 83.22h7.3v1.82h-7.3zM255.24 84.74h7.3v1.82h-7.3zM317.3 84.74h7.3v1.82h-7.3zM289.72 87.78h7.3v1.82h-7.3zM220.77 89.3h7.3v1.82h-7.3zM296.62 89.3h7.3v1.82h-7.3zM275.93 90.82h7.3v1.82h-7.3zM213.87 110.56h7.3v1.82h-7.3zM255.24 116.64h7.3v1.82h-7.3zM282.83 116.64h7.3v1.82h-7.3zM241.45 121.19h7.3v1.82h-7.3zM310.41 127.27h7.3v1.82h-7.3zM69.06 147.01h7.3v1.82h-7.3zM75.96 172.83h7.3v1.82h-7.3z"/><path fill="#fda468" d="M310.41 68.04h7.3v1.82h-7.3z"/><path fill="#f3fad5" d="M20.79 69.56h7.3v1.82h-7.3zM69.06 69.56h7.3v1.82h-7.3zM89.75 69.56h7.3v1.82h-7.3zM96.64 71.08h7.3v1.82h-7.3zM27.69 72.59h7.3v1.82h-7.3zM69.06 72.59h7.3v1.82h-7.3zM20.79 74.11h7.3v1.82h-7.3zM41.48 74.11h7.3v1.82h-7.3zM41.48 75.63h7.3v1.82h-7.3zM165.6 75.63h7.3v1.82h-7.3zM20.79 77.15h7.3v1.82h-7.3zM69.06 77.15h7.3v1.82h-7.3zM13.9 78.67h7.3v1.82h-7.3zM96.64 78.67h7.3v1.82h-7.3zM110.43 78.67h14.19v1.82h-14.19zM193.18 78.67h14.19v1.82h-14.19zM144.91 81.71h7.3v1.82h-7.3zM7 84.74h7.3v1.82h-7.3zM20.79 87.78h7.3v1.82h-7.3zM110.43 90.82h7.3v1.82h-7.3zM62.17 92.34h7.3v1.82h-7.3zM165.6 92.34h7.3v1.82h-7.3zM69.06 93.86h7.3v1.82h-7.3zM7 95.38h7.3v1.82h-7.3zM110.43 96.89h7.3v1.82h-7.3zM75.96 98.41h7.3v1.82h-7.3zM144.91 98.41h7.3v1.82h-7.3zM103.54 99.93h14.19v1.82h-14.19zM124.23 99.93h7.3v1.82h-7.3zM158.7 99.93h7.3v1.82h-7.3zM13.9 102.97h7.3v1.82h-7.3zM124.23 106.01h7.3v1.82h-7.3zM138.02 106.01h7.3v1.82h-7.3zM158.7 106.01h7.3v1.82h-7.3zM206.97 106.01h7.3v1.82h-7.3zM124.23 107.53h7.3v1.82h-7.3zM206.97 107.53h7.3v1.82h-7.3zM20.79 109.04h7.3v1.82h-7.3zM110.43 109.04h7.3v1.82h-7.3zM144.91 109.04h7.3v1.82h-7.3zM158.7 109.04h7.3v1.82h-7.3zM179.39 109.04h21.09v1.82h-21.09zM117.33 110.56h7.3v1.82h-7.3zM206.97 110.56h7.3v1.82h-7.3zM165.6 112.08h7.3v1.82h-7.3zM7 113.6h7.3v1.82h-7.3zM117.33 113.6h7.3v1.82h-7.3zM131.12 113.6h14.19v1.82h-14.19zM179.39 113.6h7.3v1.82h-7.3zM131.12 115.12h7.3v1.82h-7.3zM75.96 116.64h14.19v1.82h-14.19zM172.5 118.16h7.3v1.82h-7.3zM62.17 119.68h7.3v1.82h-7.3zM41.48 121.19h7.3v1.82h-7.3zM55.27 122.71h7.3v1.82h-7.3zM20.79 124.23h7.3v1.82h-7.3zM96.64 124.23h7.3v1.82h-7.3zM165.6 124.23h7.3v1.82h-7.3zM200.08 124.23h7.3v1.82h-7.3zM62.17 125.75h7.3v1.82h-7.3zM103.54 125.75h7.3v1.82h-7.3zM48.37 127.27h7.3v1.82h-7.3zM89.75 127.27h7.3v1.82h-7.3zM262.14 128.79h7.3v1.82h-7.3zM131.12 131.82h7.3v1.82h-7.3zM262.14 133.34h7.3v1.82h-7.3zM138.02 134.86h7.3v1.82h-7.3zM179.39 134.86h7.3v1.82h-7.3zM117.33 139.42h7.3v1.82h-7.3zM317.3 140.94h7.3v1.82h-7.3zM220.77 142.46h7.3v1.82h-7.3zM234.56 142.46h7.3v1.82h-7.3zM213.87 143.98h7.3v1.82h-7.3zM241.45 143.98h7.3v1.82h-7.3zM296.62 143.98h7.3v1.82h-7.3zM110.43 148.53h7.3v1.82h-7.3zM282.83 148.53h7.3v1.82h-7.3zM241.45 151.57h7.3v1.82h-7.3zM117.33 154.61h7.3v1.82h-7.3zM310.41 157.64h7.3v1.82h-7.3zM213.87 162.2h7.3v1.82h-7.3zM303.51 166.76h7.3v1.82h-7.3zM117.33 168.28h7.3v1.82h-7.3zM227.66 168.28h7.3v1.82h-7.3zM317.3 171.31h7.3v1.82h-7.3zM234.56 172.83h7.3v1.82h-7.3zM303.51 172.83h7.3v1.82h-7.3zM262.14 174.35h7.3v1.82h-7.3zM213.87 178.91h7.3v1.82h-7.3z"/><path fill="#e9f7e7" d="M41.48 69.56h7.3v1.82h-7.3zM62.17 69.56h7.3v1.82h-7.3zM89.75 72.59h7.3v1.82h-7.3zM89.75 75.63h7.3v1.82h-7.3zM7 78.67h7.3v1.82h-7.3zM62.17 78.67h7.3v1.82h-7.3zM89.75 78.67h7.3v1.82h-7.3zM179.39 78.67h7.3v1.82h-7.3zM75.96 83.22h7.3v1.82h-7.3zM41.48 90.82h7.3v1.82h-7.3zM48.37 92.34h7.3v1.82h-7.3zM48.37 98.41h7.3v1.82h-7.3zM13.9 101.45h14.19v1.82h-14.19zM7 102.97h7.3v1.82h-7.3zM69.06 102.97h7.3v1.82h-7.3zM103.54 102.97h7.3v1.82h-7.3zM117.33 102.97h7.3v1.82h-7.3zM172.5 102.97h7.3v1.82h-7.3zM200.08 102.97h7.3v1.82h-7.3zM48.37 104.49h7.3v1.82h-7.3zM96.64 106.01h14.19v1.82h-14.19zM186.29 106.01h7.3v1.82h-7.3zM13.9 107.53h7.3v1.82h-7.3zM138.02 107.53h14.19v1.82h-14.19zM69.06 109.04h7.3v1.82h-7.3zM55.27 110.56h7.3v1.82h-7.3zM62.17 112.08h7.3v1.82h-7.3zM206.97 113.6h7.3v1.82h-7.3zM48.37 115.12h7.3v1.82h-7.3zM41.48 118.16h7.3v1.82h-7.3zM41.48 124.23h7.3v1.82h-7.3zM89.75 124.23h7.3v1.82h-7.3zM55.27 127.27h7.3v1.82h-7.3zM110.43 128.79h7.3v1.82h-7.3zM220.77 128.79h7.3v1.82h-7.3zM269.03 130.31h7.3v1.82h-7.3zM282.83 130.31h7.3v1.82h-7.3zM282.83 131.82h7.3v1.82h-7.3zM262.14 134.86h7.3v1.82h-7.3zM310.41 136.38h7.3v1.82h-7.3zM289.72 137.9h7.3v1.82h-7.3zM241.45 140.94h7.3v1.82h-7.3zM241.45 142.46h7.3v1.82h-7.3zM213.87 145.49h7.3v1.82h-7.3zM234.56 145.49h7.3v1.82h-7.3zM213.87 147.01h7.3v1.82h-7.3zM227.66 148.53h7.3v1.82h-7.3zM241.45 148.53h7.3v1.82h-7.3zM310.41 153.09h7.3v1.82h-7.3zM213.87 154.61h7.3v1.82h-7.3zM282.83 156.12h14.19v1.82h-14.19zM213.87 157.64h7.3v1.82h-7.3zM282.83 157.64h7.3v1.82h-7.3zM234.56 159.16h7.3v1.82h-7.3zM296.62 159.16h7.3v1.82h-7.3zM255.24 160.68h7.3v1.82h-7.3zM275.93 160.68h7.3v1.82h-7.3zM296.62 162.2h7.3v1.82h-7.3zM317.3 162.2h7.3v1.82h-7.3zM282.83 165.24h7.3v1.82h-7.3zM255.24 166.76h7.3v1.82h-7.3zM269.03 168.28h7.3v1.82h-7.3zM296.62 168.28h7.3v1.82h-7.3zM317.3 168.28h7.3v1.82h-7.3zM220.77 171.31h7.3v1.82h-7.3zM248.35 171.31h7.3v1.82h-7.3zM262.14 172.83h7.3v1.82h-7.3zM234.56 174.35h7.3v1.82h-7.3zM317.3 174.35h7.3v1.82h-7.3zM282.83 175.87h7.3v1.82h-7.3zM220.77 177.39h7.3v1.82h-7.3zM282.83 177.39h7.3v1.82h-7.3zM220.77 178.91h7.3v1.82h-7.3zM275.93 178.91h7.3v1.82h-7.3zM213.87 181.94h7.3v1.82h-7.3zM227.66 181.94h14.19v1.82h-14.19zM255.24 181.94h7.3v1.82h-7.3zM310.41 181.94h7.3v1.82h-7.3zM227.66 184.98h7.3v1.82h-7.3zM262.14 184.98h7.3v1.82h-7.3zM317.3 184.98h7.3v1.82h-7.3z"/><path fill="#f5fbd2" d="M48.37 69.56h7.3v1.82h-7.3zM96.64 69.56h7.3v1.82h-7.3zM69.06 71.08h7.3v1.82h-7.3zM103.54 72.59h7.3v1.82h-7.3zM144.91 72.59h7.3v1.82h-7.3zM186.29 72.59h7.3v1.82h-7.3zM103.54 74.11h7.3v1.82h-7.3zM124.23 74.11h7.3v1.82h-7.3zM138.02 74.11h7.3v1.82h-7.3zM200.08 74.11h7.3v1.82h-7.3zM7 75.63h7.3v1.82h-7.3zM48.37 77.15h7.3v1.82h-7.3zM75.96 78.67h7.3v1.82h-7.3zM138.02 78.67h14.19v1.82h-14.19zM165.6 78.67h7.3v1.82h-7.3zM186.29 81.71h7.3v1.82h-7.3zM179.39 83.22h7.3v1.82h-7.3zM20.79 84.74h7.3v1.82h-7.3zM179.39 84.74h7.3v1.82h-7.3zM13.9 87.78h7.3v1.82h-7.3zM41.48 87.78h7.3v1.82h-7.3zM138.02 87.78h7.3v1.82h-7.3zM206.97 89.3h7.3v1.82h-7.3zM7 92.34h7.3v1.82h-7.3zM75.96 92.34h7.3v1.82h-7.3zM131.12 92.34h14.19v1.82h-14.19zM41.48 93.86h7.3v1.82h-7.3zM179.39 93.86h7.3v1.82h-7.3zM20.79 95.38h14.19v1.82h-14.19zM13.9 96.89h7.3v1.82h-7.3zM165.6 96.89h7.3v1.82h-7.3zM179.39 96.89h7.3v1.82h-7.3zM131.12 98.41h7.3v1.82h-7.3zM20.79 99.93h7.3v1.82h-7.3zM131.12 99.93h14.19v1.82h-14.19zM172.5 99.93h7.3v1.82h-7.3zM34.58 101.45h7.3v1.82h-7.3zM110.43 101.45h7.3v1.82h-7.3zM138.02 101.45h7.3v1.82h-7.3zM151.81 101.45h14.19v1.82h-14.19zM110.43 104.49h7.3v1.82h-7.3zM144.91 104.49h7.3v1.82h-7.3zM165.6 104.49h7.3v1.82h-7.3zM117.33 106.01h7.3v1.82h-7.3zM193.18 106.01h7.3v1.82h-7.3zM27.69 109.04h7.3v1.82h-7.3zM200.08 109.04h7.3v1.82h-7.3zM96.64 110.56h7.3v1.82h-7.3zM200.08 110.56h7.3v1.82h-7.3zM20.79 112.08h7.3v1.82h-7.3zM48.37 112.08h7.3v1.82h-7.3zM75.96 112.08h7.3v1.82h-7.3zM96.64 112.08h7.3v1.82h-7.3zM110.43 113.6h7.3v1.82h-7.3zM144.91 113.6h7.3v1.82h-7.3zM20.79 115.12h7.3v1.82h-7.3zM165.6 115.12h7.3v1.82h-7.3zM172.5 116.64h7.3v1.82h-7.3zM138.02 118.16h7.3v1.82h-7.3zM55.27 119.68h7.3v1.82h-7.3zM89.75 121.19h7.3v1.82h-7.3zM75.96 124.23h7.3v1.82h-7.3zM186.29 124.23h14.19v1.82h-14.19zM206.97 124.23h7.3v1.82h-7.3zM34.58 125.75h7.3v1.82h-7.3zM96.64 125.75h7.3v1.82h-7.3zM172.5 125.75h7.3v1.82h-7.3zM20.79 127.27h7.3v1.82h-7.3zM124.23 127.27h7.3v1.82h-7.3zM151.81 127.27h7.3v1.82h-7.3zM179.39 127.27h7.3v1.82h-7.3zM255.24 128.79h7.3v1.82h-7.3zM275.93 128.79h7.3v1.82h-7.3zM206.97 134.86h7.3v1.82h-7.3zM110.43 136.38h7.3v1.82h-7.3zM220.77 140.94h7.3v1.82h-7.3zM262.14 142.46h7.3v1.82h-7.3zM310.41 142.46h7.3v1.82h-7.3zM275.93 145.49h7.3v1.82h-7.3zM317.3 145.49h7.3v1.82h-7.3zM317.3 147.01h7.3v1.82h-7.3zM117.33 148.53h7.3v1.82h-7.3zM248.35 150.05h7.3v1.82h-7.3zM110.43 154.61h7.3v1.82h-7.3zM165.6 156.12h7.3v1.82h-7.3zM234.56 156.12h7.3v1.82h-7.3zM303.51 157.64h7.3v1.82h-7.3zM296.62 160.68h7.3v1.82h-7.3zM317.3 169.79h7.3v1.82h-7.3zM213.87 172.83h7.3v1.82h-7.3zM289.72 172.83h7.3v1.82h-7.3zM117.33 174.35h7.3v1.82h-7.3zM227.66 175.87h7.3v1.82h-7.3zM234.56 178.91h7.3v1.82h-7.3z"/><path fill="#edf8e0" d="M55.27 69.56h7.3v1.82h-7.3zM82.85 71.08h7.3v1.82h-7.3zM41.48 72.59h14.19v1.82h-14.19zM62.17 72.59h7.3v1.82h-7.3zM27.69 78.67h7.3v1.82h-7.3zM69.06 78.67h7.3v1.82h-7.3zM151.81 78.67h7.3v1.82h-7.3zM186.29 78.67h7.3v1.82h-7.3zM41.48 81.71h7.3v1.82h-7.3zM20.79 86.26h7.3v1.82h-7.3zM117.33 90.82h7.3v1.82h-7.3zM82.85 93.86h7.3v1.82h-7.3zM62.17 95.38h7.3v1.82h-7.3zM103.54 95.38h7.3v1.82h-7.3zM7 96.89h7.3v1.82h-7.3zM27.69 96.89h7.3v1.82h-7.3zM69.06 96.89h7.3v1.82h-7.3zM117.33 96.89h7.3v1.82h-7.3zM131.12 96.89h7.3v1.82h-7.3zM144.91 96.89h7.3v1.82h-7.3zM7 98.41h7.3v1.82h-7.3zM20.79 98.41h7.3v1.82h-7.3zM48.37 99.93h7.3v1.82h-7.3zM82.85 99.93h7.3v1.82h-7.3zM206.97 99.93h7.3v1.82h-7.3zM69.06 101.45h7.3v1.82h-7.3zM103.54 101.45h7.3v1.82h-7.3zM144.91 101.45h7.3v1.82h-7.3zM165.6 101.45h14.19v1.82h-14.19zM124.23 102.97h7.3v1.82h-7.3zM13.9 104.49h14.19v1.82h-14.19zM117.33 104.49h14.19v1.82h-14.19zM158.7 104.49h7.3v1.82h-7.3zM193.18 104.49h7.3v1.82h-7.3zM62.17 106.01h7.3v1.82h-7.3zM117.33 107.53h7.3v1.82h-7.3zM200.08 107.53h7.3v1.82h-7.3zM62.17 109.04h7.3v1.82h-7.3zM138.02 109.04h7.3v1.82h-7.3zM165.6 109.04h7.3v1.82h-7.3zM7 110.56h7.3v1.82h-7.3zM48.37 110.56h7.3v1.82h-7.3zM62.17 110.56h7.3v1.82h-7.3zM82.85 110.56h7.3v1.82h-7.3zM103.54 110.56h7.3v1.82h-7.3zM179.39 110.56h7.3v1.82h-7.3zM20.79 113.6h7.3v1.82h-7.3zM103.54 113.6h7.3v1.82h-7.3zM69.06 115.12h7.3v1.82h-7.3zM89.75 115.12h7.3v1.82h-7.3zM186.29 115.12h7.3v1.82h-7.3zM89.75 116.64h7.3v1.82h-7.3zM82.85 119.68h7.3v1.82h-7.3zM48.37 122.71h7.3v1.82h-7.3zM82.85 122.71h7.3v1.82h-7.3zM69.06 124.23h7.3v1.82h-7.3zM55.27 125.75h7.3v1.82h-7.3zM41.48 127.27h7.3v1.82h-7.3zM138.02 128.79h7.3v1.82h-7.3zM282.83 128.79h7.3v1.82h-7.3zM317.3 128.79h7.3v1.82h-7.3zM296.62 131.82h7.3v1.82h-7.3zM227.66 137.9h7.3v1.82h-7.3zM262.14 137.9h7.3v1.82h-7.3zM310.41 137.9h7.3v1.82h-7.3zM296.62 142.46h7.3v1.82h-7.3zM227.66 143.98h7.3v1.82h-7.3zM275.93 143.98h7.3v1.82h-7.3zM310.41 143.98h7.3v1.82h-7.3zM248.35 145.49h7.3v1.82h-7.3zM282.83 145.49h7.3v1.82h-7.3zM213.87 150.05h7.3v1.82h-7.3zM269.03 150.05h7.3v1.82h-7.3zM248.35 153.09h7.3v1.82h-7.3zM220.77 157.64h7.3v1.82h-7.3zM317.3 157.64h7.3v1.82h-7.3zM255.24 162.2h7.3v1.82h-7.3zM282.83 162.2h7.3v1.82h-7.3zM227.66 165.24h7.3v1.82h-7.3zM234.56 166.76h7.3v1.82h-7.3zM296.62 166.76h7.3v1.82h-7.3zM255.24 168.28h7.3v1.82h-7.3zM310.41 172.83h14.19v1.82h-14.19zM255.24 174.35h7.3v1.82h-7.3zM296.62 174.35h21.09v1.82h-21.09zM255.24 175.87h7.3v1.82h-7.3zM269.03 175.87h7.3v1.82h-7.3zM213.87 177.39h7.3v1.82h-7.3zM227.66 177.39h7.3v1.82h-7.3zM262.14 177.39h7.3v1.82h-7.3zM282.83 178.91h7.3v1.82h-7.3zM317.3 178.91h7.3v1.82h-7.3zM262.14 181.94h7.3v1.82h-7.3zM255.24 184.98h7.3v1.82h-7.3z"/><path fill="#fafdc8" d="M75.96 69.56h7.3v1.82h-7.3zM103.54 69.56h7.3v1.82h-7.3zM186.29 69.56h7.3v1.82h-7.3zM200.08 69.56h7.3v1.82h-7.3zM7 71.08h7.3v1.82h-7.3zM75.96 71.08h7.3v1.82h-7.3zM124.23 72.59h7.3v1.82h-7.3zM138.02 72.59h7.3v1.82h-7.3zM7 74.11h7.3v1.82h-7.3zM62.17 74.11h14.19v1.82h-14.19zM117.33 74.11h7.3v1.82h-7.3zM144.91 74.11h7.3v1.82h-7.3zM172.5 74.11h7.3v1.82h-7.3zM27.69 75.63h7.3v1.82h-7.3zM75.96 77.15h7.3v1.82h-7.3zM96.64 77.15h7.3v1.82h-7.3zM172.5 77.15h14.19v1.82h-14.19zM34.58 78.67h7.3v1.82h-7.3zM20.79 81.71h14.19v1.82h-14.19zM7 83.22h7.3v1.82h-7.3zM117.33 83.22h7.3v1.82h-7.3zM131.12 83.22h7.3v1.82h-7.3zM193.18 84.74h7.3v1.82h-7.3zM13.9 86.26h7.3v1.82h-7.3zM117.33 86.26h14.19v1.82h-14.19zM144.91 86.26h7.3v1.82h-7.3zM165.6 86.26h7.3v1.82h-7.3zM186.29 86.26h7.3v1.82h-7.3zM144.91 87.78h7.3v1.82h-7.3zM124.23 90.82h14.19v1.82h-14.19zM179.39 90.82h14.19v1.82h-14.19zM200.08 90.82h14.19v1.82h-14.19zM41.48 92.34h7.3v1.82h-7.3zM124.23 92.34h7.3v1.82h-7.3zM186.29 92.34h7.3v1.82h-7.3zM200.08 92.34h14.19v1.82h-14.19zM75.96 93.86h7.3v1.82h-7.3zM75.96 95.38h7.3v1.82h-7.3zM206.97 95.38h7.3v1.82h-7.3zM124.23 96.89h7.3v1.82h-7.3zM138.02 96.89h7.3v1.82h-7.3zM110.43 98.41h7.3v1.82h-7.3zM124.23 98.41h7.3v1.82h-7.3zM151.81 98.41h7.3v1.82h-7.3zM13.9 99.93h7.3v1.82h-7.3zM200.08 99.93h7.3v1.82h-7.3zM165.6 102.97h7.3v1.82h-7.3zM13.9 106.01h7.3v1.82h-7.3zM151.81 106.01h7.3v1.82h-7.3zM13.9 110.56h7.3v1.82h-7.3zM69.06 110.56h7.3v1.82h-7.3zM158.7 110.56h7.3v1.82h-7.3zM7 112.08h7.3v1.82h-7.3zM69.06 112.08h7.3v1.82h-7.3zM138.02 115.12h7.3v1.82h-7.3zM20.79 116.64h7.3v1.82h-7.3zM62.17 116.64h7.3v1.82h-7.3zM200.08 116.64h7.3v1.82h-7.3zM27.69 118.16h7.3v1.82h-7.3zM69.06 118.16h7.3v1.82h-7.3zM110.43 118.16h14.19v1.82h-14.19zM131.12 118.16h7.3v1.82h-7.3zM158.7 118.16h7.3v1.82h-7.3zM179.39 118.16h7.3v1.82h-7.3zM75.96 119.68h7.3v1.82h-7.3zM131.12 119.68h7.3v1.82h-7.3zM186.29 119.68h7.3v1.82h-7.3zM48.37 121.19h7.3v1.82h-7.3zM103.54 121.19h7.3v1.82h-7.3zM179.39 121.19h7.3v1.82h-7.3zM20.79 122.71h7.3v1.82h-7.3zM103.54 122.71h7.3v1.82h-7.3zM138.02 122.71h7.3v1.82h-7.3zM7 124.23h7.3v1.82h-7.3zM117.33 124.23h7.3v1.82h-7.3zM124.23 125.75h7.3v1.82h-7.3zM144.91 125.75h7.3v1.82h-7.3zM179.39 125.75h14.19v1.82h-14.19zM27.69 127.27h7.3v1.82h-7.3zM200.08 127.27h14.19v1.82h-14.19zM158.7 128.79h14.19v1.82h-14.19zM234.56 131.82h7.3v1.82h-7.3zM41.48 133.34h7.3v1.82h-7.3zM179.39 133.34h7.3v1.82h-7.3zM144.91 134.86h7.3v1.82h-7.3zM41.48 136.38h7.3v1.82h-7.3zM110.43 139.42h7.3v1.82h-7.3zM255.24 142.46h7.3v1.82h-7.3zM117.33 145.49h7.3v1.82h-7.3zM179.39 148.53h7.3v1.82h-7.3zM255.24 150.05h7.3v1.82h-7.3zM303.51 151.57h7.3v1.82h-7.3zM144.91 153.09h7.3v1.82h-7.3zM138.02 157.64h7.3v1.82h-7.3zM255.24 157.64h7.3v1.82h-7.3zM117.33 159.16h7.3v1.82h-7.3zM144.91 159.16h7.3v1.82h-7.3zM117.33 160.68h7.3v1.82h-7.3zM110.43 162.2h7.3v1.82h-7.3zM165.6 163.72h7.3v1.82h-7.3zM117.33 165.24h7.3v1.82h-7.3zM269.03 172.83h7.3v1.82h-7.3z"/><path fill="#f1fad9" d="M82.85 69.56h7.3v1.82h-7.3zM62.17 71.08h7.3v1.82h-7.3zM96.64 72.59h7.3v1.82h-7.3zM48.37 74.11h7.3v1.82h-7.3zM96.64 74.11h7.3v1.82h-7.3zM179.39 74.11h7.3v1.82h-7.3zM62.17 75.63h7.3v1.82h-7.3zM82.85 77.15h7.3v1.82h-7.3zM20.79 78.67h7.3v1.82h-7.3zM158.7 78.67h7.3v1.82h-7.3zM110.43 81.71h7.3v1.82h-7.3zM41.48 83.22h7.3v1.82h-7.3zM69.06 83.22h7.3v1.82h-7.3zM41.48 84.74h7.3v1.82h-7.3zM186.29 84.74h7.3v1.82h-7.3zM206.97 84.74h7.3v1.82h-7.3zM41.48 86.26h7.3v1.82h-7.3zM179.39 86.26h7.3v1.82h-7.3zM20.79 90.82h7.3v1.82h-7.3zM82.85 92.34h7.3v1.82h-7.3zM7 93.86h7.3v1.82h-7.3zM55.27 93.86h7.3v1.82h-7.3zM96.64 95.38h7.3v1.82h-7.3zM200.08 95.38h7.3v1.82h-7.3zM75.96 96.89h7.3v1.82h-7.3zM200.08 96.89h7.3v1.82h-7.3zM103.54 98.41h7.3v1.82h-7.3zM172.5 98.41h7.3v1.82h-7.3zM186.29 98.41h7.3v1.82h-7.3zM200.08 98.41h7.3v1.82h-7.3zM7 99.93h7.3v1.82h-7.3zM89.75 99.93h7.3v1.82h-7.3zM144.91 99.93h7.3v1.82h-7.3zM179.39 99.93h7.3v1.82h-7.3zM7 101.45h7.3v1.82h-7.3zM124.23 101.45h7.3v1.82h-7.3zM193.18 101.45h7.3v1.82h-7.3zM75.96 102.97h7.3v1.82h-7.3zM151.81 102.97h7.3v1.82h-7.3zM193.18 102.97h7.3v1.82h-7.3zM206.97 102.97h7.3v1.82h-7.3zM69.06 104.49h7.3v1.82h-7.3zM131.12 104.49h7.3v1.82h-7.3zM179.39 104.49h7.3v1.82h-7.3zM206.97 104.49h7.3v1.82h-7.3zM27.69 106.01h7.3v1.82h-7.3zM165.6 106.01h14.19v1.82h-14.19zM200.08 106.01h7.3v1.82h-7.3zM27.69 107.53h7.3v1.82h-7.3zM193.18 107.53h7.3v1.82h-7.3zM151.81 109.04h7.3v1.82h-7.3zM131.12 110.56h7.3v1.82h-7.3zM151.81 110.56h7.3v1.82h-7.3zM144.91 112.08h7.3v1.82h-7.3zM172.5 112.08h7.3v1.82h-7.3zM206.97 112.08h7.3v1.82h-7.3zM186.29 113.6h7.3v1.82h-7.3zM200.08 113.6h7.3v1.82h-7.3zM62.17 115.12h7.3v1.82h-7.3zM96.64 115.12h14.19v1.82h-14.19zM206.97 115.12h7.3v1.82h-7.3zM96.64 116.64h14.19v1.82h-14.19zM151.81 116.64h7.3v1.82h-7.3zM7 118.16h7.3v1.82h-7.3zM55.27 118.16h7.3v1.82h-7.3zM20.79 119.68h7.3v1.82h-7.3zM48.37 119.68h7.3v1.82h-7.3zM103.54 119.68h7.3v1.82h-7.3zM55.27 121.19h7.3v1.82h-7.3zM96.64 122.71h7.3v1.82h-7.3zM138.02 124.23h7.3v1.82h-7.3zM172.5 124.23h7.3v1.82h-7.3zM62.17 127.27h7.3v1.82h-7.3zM103.54 127.27h7.3v1.82h-7.3zM227.66 128.79h14.19v1.82h-14.19zM255.24 131.82h7.3v1.82h-7.3zM34.58 134.86h7.3v1.82h-7.3zM303.51 136.38h7.3v1.82h-7.3zM317.3 137.9h7.3v1.82h-7.3zM179.39 139.42h7.3v1.82h-7.3zM255.24 140.94h7.3v1.82h-7.3zM248.35 142.46h7.3v1.82h-7.3zM282.83 142.46h7.3v1.82h-7.3zM220.77 143.98h7.3v1.82h-7.3zM234.56 143.98h7.3v1.82h-7.3zM269.03 143.98h7.3v1.82h-7.3zM317.3 143.98h7.3v1.82h-7.3zM255.24 145.49h7.3v1.82h-7.3zM289.72 147.01h7.3v1.82h-7.3zM255.24 154.61h7.3v1.82h-7.3zM303.51 154.61h7.3v1.82h-7.3zM227.66 156.12h7.3v1.82h-7.3zM234.56 157.64h7.3v1.82h-7.3zM262.14 157.64h7.3v1.82h-7.3zM248.35 162.2h7.3v1.82h-7.3zM262.14 162.2h7.3v1.82h-7.3zM227.66 166.76h7.3v1.82h-7.3zM317.3 166.76h7.3v1.82h-7.3zM255.24 171.31h7.3v1.82h-7.3zM269.03 171.31h7.3v1.82h-7.3zM227.66 172.83h7.3v1.82h-7.3zM213.87 174.35h7.3v1.82h-7.3zM255.24 178.91h7.3v1.82h-7.3zM269.03 178.91h7.3v1.82h-7.3zM289.72 178.91h7.3v1.82h-7.3zM310.41 178.91h7.3v1.82h-7.3z"/><path fill="#feffc1" d="M110.43 69.56h7.3v1.82h-7.3zM138.02 71.08h7.3v1.82h-7.3zM200.08 71.08h7.3v1.82h-7.3zM172.5 72.59h7.3v1.82h-7.3zM75.96 74.11h7.3v1.82h-7.3zM186.29 74.11h7.3v1.82h-7.3zM96.64 75.63h7.3v1.82h-7.3zM110.43 75.63h7.3v1.82h-7.3zM193.18 75.63h7.3v1.82h-7.3zM13.9 77.15h7.3v1.82h-7.3zM124.23 77.15h14.19v1.82h-14.19zM124.23 81.71h7.3v1.82h-7.3zM179.39 81.71h7.3v1.82h-7.3zM13.9 83.22h7.3v1.82h-7.3zM110.43 83.22h7.3v1.82h-7.3zM151.81 83.22h7.3v1.82h-7.3zM172.5 83.22h7.3v1.82h-7.3zM110.43 84.74h7.3v1.82h-7.3zM158.7 84.74h7.3v1.82h-7.3zM131.12 86.26h7.3v1.82h-7.3zM158.7 87.78h7.3v1.82h-7.3zM200.08 87.78h7.3v1.82h-7.3zM7 89.3h7.3v1.82h-7.3zM138.02 89.3h7.3v1.82h-7.3zM158.7 92.34h7.3v1.82h-7.3zM193.18 92.34h7.3v1.82h-7.3zM13.9 93.86h7.3v1.82h-7.3zM158.7 93.86h7.3v1.82h-7.3zM13.9 95.38h7.3v1.82h-7.3zM34.58 95.38h7.3v1.82h-7.3zM186.29 95.38h7.3v1.82h-7.3zM151.81 96.89h7.3v1.82h-7.3zM193.18 96.89h7.3v1.82h-7.3zM34.58 98.41h7.3v1.82h-7.3zM34.58 99.93h7.3v1.82h-7.3zM110.43 110.56h7.3v1.82h-7.3zM110.43 112.08h7.3v1.82h-7.3zM138.02 112.08h7.3v1.82h-7.3zM158.7 112.08h7.3v1.82h-7.3zM165.6 113.6h7.3v1.82h-7.3zM193.18 113.6h7.3v1.82h-7.3zM117.33 115.12h7.3v1.82h-7.3zM193.18 115.12h7.3v1.82h-7.3zM7 116.64h7.3v1.82h-7.3zM131.12 116.64h7.3v1.82h-7.3zM158.7 116.64h7.3v1.82h-7.3zM151.81 118.16h7.3v1.82h-7.3zM27.69 119.68h7.3v1.82h-7.3zM179.39 119.68h7.3v1.82h-7.3zM7 121.19h7.3v1.82h-7.3zM117.33 121.19h7.3v1.82h-7.3zM200.08 121.19h7.3v1.82h-7.3zM62.17 122.71h7.3v1.82h-7.3zM75.96 122.71h7.3v1.82h-7.3zM117.33 122.71h7.3v1.82h-7.3zM179.39 122.71h14.19v1.82h-14.19zM206.97 122.71h7.3v1.82h-7.3zM131.12 124.23h7.3v1.82h-7.3zM151.81 124.23h14.19v1.82h-14.19zM179.39 124.23h7.3v1.82h-7.3zM7 125.75h14.19v1.82h-14.19zM193.18 125.75h7.3v1.82h-7.3zM110.43 127.27h7.3v1.82h-7.3zM172.5 127.27h7.3v1.82h-7.3zM193.18 128.79h7.3v1.82h-7.3zM144.91 130.31h7.3v1.82h-7.3zM158.7 130.31h7.3v1.82h-7.3zM151.81 131.82h14.19v1.82h-14.19zM138.02 133.34h7.3v1.82h-7.3zM151.81 133.34h7.3v1.82h-7.3zM206.97 133.34h7.3v1.82h-7.3zM131.12 136.38h7.3v1.82h-7.3zM151.81 136.38h7.3v1.82h-7.3zM206.97 136.38h7.3v1.82h-7.3zM117.33 137.9h7.3v1.82h-7.3zM131.12 139.42h14.19v1.82h-14.19zM165.6 139.42h7.3v1.82h-7.3zM117.33 140.94h7.3v1.82h-7.3zM262.14 140.94h7.3v1.82h-7.3zM117.33 143.98h7.3v1.82h-7.3zM255.24 143.98h7.3v1.82h-7.3zM255.24 147.01h7.3v1.82h-7.3zM282.83 147.01h7.3v1.82h-7.3zM124.23 148.53h7.3v1.82h-7.3zM206.97 148.53h7.3v1.82h-7.3zM165.6 153.09h7.3v1.82h-7.3zM172.5 156.12h7.3v1.82h-7.3zM151.81 159.16h7.3v1.82h-7.3zM186.29 159.16h7.3v1.82h-7.3zM165.6 162.2h7.3v1.82h-7.3zM179.39 163.72h7.3v1.82h-7.3zM193.18 169.79h7.3v1.82h-7.3zM310.41 171.31h7.3v1.82h-7.3zM206.97 174.35h7.3v1.82h-7.3zM144.91 175.87h7.3v1.82h-7.3zM82.85 181.94h7.3v1.82h-7.3z"/><path fill="#f7fccf" d="M144.91 69.56h7.3v1.82h-7.3zM131.12 71.08h7.3v1.82h-7.3zM206.97 71.08h7.3v1.82h-7.3zM34.58 72.59h7.3v1.82h-7.3zM151.81 72.59h7.3v1.82h-7.3zM179.39 72.59h7.3v1.82h-7.3zM206.97 72.59h7.3v1.82h-7.3zM151.81 74.11h14.19v1.82h-14.19zM69.06 75.63h7.3v1.82h-7.3zM144.91 75.63h7.3v1.82h-7.3zM186.29 77.15h7.3v1.82h-7.3zM131.12 78.67h7.3v1.82h-7.3zM7 81.71h7.3v1.82h-7.3zM131.12 81.71h7.3v1.82h-7.3zM172.5 81.71h7.3v1.82h-7.3zM200.08 81.71h7.3v1.82h-7.3zM138.02 84.74h14.19v1.82h-14.19zM200.08 84.74h7.3v1.82h-7.3zM172.5 86.26h7.3v1.82h-7.3zM151.81 87.78h7.3v1.82h-7.3zM165.6 87.78h14.19v1.82h-14.19zM144.91 89.3h7.3v1.82h-7.3zM7 90.82h7.3v1.82h-7.3zM158.7 90.82h7.3v1.82h-7.3zM20.79 92.34h7.3v1.82h-7.3zM96.64 93.86h7.3v1.82h-7.3zM144.91 95.38h7.3v1.82h-7.3zM20.79 96.89h7.3v1.82h-7.3zM158.7 96.89h7.3v1.82h-7.3zM172.5 96.89h7.3v1.82h-7.3zM165.6 98.41h7.3v1.82h-7.3zM179.39 98.41h7.3v1.82h-7.3zM193.18 98.41h7.3v1.82h-7.3zM62.17 99.93h7.3v1.82h-7.3zM117.33 99.93h7.3v1.82h-7.3zM165.6 99.93h7.3v1.82h-7.3zM186.29 99.93h7.3v1.82h-7.3zM27.69 101.45h7.3v1.82h-7.3zM27.69 102.97h7.3v1.82h-7.3zM144.91 102.97h7.3v1.82h-7.3zM186.29 102.97h7.3v1.82h-7.3zM34.58 104.49h7.3v1.82h-7.3zM200.08 104.49h7.3v1.82h-7.3zM186.29 110.56h14.19v1.82h-14.19zM117.33 112.08h7.3v1.82h-7.3zM124.23 113.6h7.3v1.82h-7.3zM158.7 113.6h7.3v1.82h-7.3zM172.5 113.6h7.3v1.82h-7.3zM144.91 115.12h14.19v1.82h-14.19zM13.9 116.64h7.3v1.82h-7.3zM69.06 116.64h7.3v1.82h-7.3zM75.96 118.16h7.3v1.82h-7.3zM7 119.68h7.3v1.82h-7.3zM89.75 119.68h14.19v1.82h-14.19zM206.97 119.68h7.3v1.82h-7.3zM82.85 121.19h7.3v1.82h-7.3zM96.64 121.19h7.3v1.82h-7.3zM193.18 121.19h7.3v1.82h-7.3zM89.75 122.71h7.3v1.82h-7.3zM151.81 122.71h7.3v1.82h-7.3zM13.9 124.23h7.3v1.82h-7.3zM62.17 124.23h7.3v1.82h-7.3zM20.79 125.75h7.3v1.82h-7.3zM75.96 125.75h7.3v1.82h-7.3zM110.43 125.75h7.3v1.82h-7.3zM165.6 125.75h7.3v1.82h-7.3zM7 127.27h7.3v1.82h-7.3zM82.85 127.27h7.3v1.82h-7.3zM117.33 131.82h7.3v1.82h-7.3zM144.91 133.34h7.3v1.82h-7.3zM41.48 134.86h7.3v1.82h-7.3zM200.08 134.86h7.3v1.82h-7.3zM213.87 137.9h7.3v1.82h-7.3zM41.48 139.42h7.3v1.82h-7.3zM227.66 140.94h7.3v1.82h-7.3zM262.14 143.98h7.3v1.82h-7.3zM296.62 145.49h7.3v1.82h-7.3zM220.77 147.01h7.3v1.82h-7.3zM275.93 147.01h7.3v1.82h-7.3zM282.83 150.05h7.3v1.82h-7.3zM117.33 153.09h7.3v1.82h-7.3zM131.12 153.09h7.3v1.82h-7.3zM213.87 153.09h7.3v1.82h-7.3zM317.3 154.61h7.3v1.82h-7.3zM138.02 156.12h7.3v1.82h-7.3zM255.24 156.12h7.3v1.82h-7.3zM227.66 162.2h7.3v1.82h-7.3zM110.43 163.72h7.3v1.82h-7.3zM110.43 166.76h7.3v1.82h-7.3zM213.87 168.28h7.3v1.82h-7.3zM220.77 175.87h7.3v1.82h-7.3zM227.66 178.91h7.3v1.82h-7.3zM262.14 178.91h7.3v1.82h-7.3z"/><path fill="#fecc83" d="M269.03 69.56h7.3v1.82h-7.3zM289.72 69.56h7.3v1.82h-7.3zM303.51 69.56h7.3v1.82h-7.3zM289.72 72.59h7.3v1.82h-7.3zM227.66 83.22h7.3v1.82h-7.3zM241.45 83.22h7.3v1.82h-7.3zM262.14 83.22h7.3v1.82h-7.3zM234.56 86.26h7.3v1.82h-7.3zM255.24 86.26h7.3v1.82h-7.3zM303.51 86.26h7.3v1.82h-7.3zM227.66 87.78h7.3v1.82h-7.3zM275.93 87.78h7.3v1.82h-7.3zM234.56 90.82h7.3v1.82h-7.3zM213.87 92.34h7.3v1.82h-7.3zM310.41 93.86h7.3v1.82h-7.3zM213.87 95.38h7.3v1.82h-7.3zM241.45 98.41h7.3v1.82h-7.3zM310.41 104.49h7.3v1.82h-7.3zM227.66 110.56h7.3v1.82h-7.3zM317.3 110.56h7.3v1.82h-7.3zM213.87 115.12h7.3v1.82h-7.3zM282.83 115.12h7.3v1.82h-7.3zM289.72 116.64h7.3v1.82h-7.3zM310.41 116.64h14.19v1.82h-14.19zM289.72 118.16h7.3v1.82h-7.3zM220.77 119.68h7.3v1.82h-7.3zM234.56 119.68h7.3v1.82h-7.3zM310.41 119.68h7.3v1.82h-7.3zM303.51 121.19h7.3v1.82h-7.3zM234.56 122.71h7.3v1.82h-7.3zM289.72 122.71h7.3v1.82h-7.3zM310.41 122.71h7.3v1.82h-7.3zM282.83 124.23h7.3v1.82h-7.3zM255.24 125.75h7.3v1.82h-7.3zM75.96 133.34h7.3v1.82h-7.3zM62.17 142.46h14.19v1.82h-14.19zM75.96 143.98h7.3v1.82h-7.3zM103.54 143.98h7.3v1.82h-7.3zM62.17 145.49h7.3v1.82h-7.3zM69.06 148.53h7.3v1.82h-7.3zM103.54 157.64h7.3v1.82h-7.3zM103.54 159.16h7.3v1.82h-7.3zM69.06 166.76h7.3v1.82h-7.3zM69.06 168.28h7.3v1.82h-7.3zM96.64 168.28h7.3v1.82h-7.3zM75.96 171.31h7.3v1.82h-7.3zM55.27 172.83h7.3v1.82h-7.3zM172.5 178.91h7.3v1.82h-7.3z"/><path fill="#fc9f65" d="M275.93 69.56h7.3v1.82h-7.3zM20.79 128.79h7.3v1.82h-7.3zM82.85 128.79h7.3v1.82h-7.3z"/><path fill="#f8fccb" d="M27.69 71.08h7.3v1.82h-7.3zM144.91 71.08h7.3v1.82h-7.3zM179.39 71.08h7.3v1.82h-7.3zM110.43 72.59h14.19v1.82h-14.19zM165.6 72.59h7.3v1.82h-7.3zM193.18 72.59h14.19v1.82h-14.19zM13.9 75.63h14.19v1.82h-14.19zM48.37 75.63h7.3v1.82h-7.3zM103.54 75.63h7.3v1.82h-7.3zM117.33 75.63h7.3v1.82h-7.3zM158.7 77.15h7.3v1.82h-7.3zM124.23 78.67h7.3v1.82h-7.3zM165.6 81.71h7.3v1.82h-7.3zM20.79 83.22h7.3v1.82h-7.3zM27.69 84.74h7.3v1.82h-7.3zM124.23 84.74h7.3v1.82h-7.3zM172.5 84.74h7.3v1.82h-7.3zM151.81 86.26h7.3v1.82h-7.3zM206.97 86.26h7.3v1.82h-7.3zM7 87.78h7.3v1.82h-7.3zM179.39 87.78h7.3v1.82h-7.3zM41.48 89.3h7.3v1.82h-7.3zM138.02 90.82h7.3v1.82h-7.3zM165.6 90.82h7.3v1.82h-7.3zM144.91 92.34h7.3v1.82h-7.3zM179.39 92.34h7.3v1.82h-7.3zM48.37 93.86h7.3v1.82h-7.3zM117.33 93.86h7.3v1.82h-7.3zM206.97 93.86h7.3v1.82h-7.3zM110.43 95.38h14.19v1.82h-14.19zM131.12 95.38h7.3v1.82h-7.3zM186.29 96.89h7.3v1.82h-7.3zM13.9 98.41h7.3v1.82h-7.3zM117.33 98.41h7.3v1.82h-7.3zM206.97 98.41h7.3v1.82h-7.3zM27.69 99.93h7.3v1.82h-7.3zM131.12 102.97h7.3v1.82h-7.3zM151.81 104.49h7.3v1.82h-7.3zM34.58 106.01h7.3v1.82h-7.3zM34.58 107.53h7.3v1.82h-7.3zM13.9 109.04h7.3v1.82h-7.3zM20.79 110.56h14.19v1.82h-14.19zM75.96 110.56h7.3v1.82h-7.3zM124.23 112.08h14.19v1.82h-14.19zM151.81 112.08h7.3v1.82h-7.3zM179.39 112.08h14.19v1.82h-14.19zM200.08 112.08h7.3v1.82h-7.3zM13.9 113.6h7.3v1.82h-7.3zM75.96 113.6h7.3v1.82h-7.3zM151.81 113.6h7.3v1.82h-7.3zM75.96 115.12h7.3v1.82h-7.3zM172.5 115.12h7.3v1.82h-7.3zM124.23 116.64h7.3v1.82h-7.3zM20.79 118.16h7.3v1.82h-7.3zM165.6 118.16h7.3v1.82h-7.3zM69.06 119.68h7.3v1.82h-7.3zM27.69 121.19h7.3v1.82h-7.3zM62.17 121.19h7.3v1.82h-7.3zM138.02 121.19h7.3v1.82h-7.3zM69.06 122.71h7.3v1.82h-7.3zM103.54 124.23h7.3v1.82h-7.3zM124.23 124.23h7.3v1.82h-7.3zM144.91 124.23h7.3v1.82h-7.3zM69.06 125.75h7.3v1.82h-7.3zM89.75 125.75h7.3v1.82h-7.3zM131.12 125.75h7.3v1.82h-7.3zM151.81 125.75h7.3v1.82h-7.3zM200.08 125.75h14.19v1.82h-14.19zM96.64 127.27h7.3v1.82h-7.3zM117.33 127.27h7.3v1.82h-7.3zM138.02 127.27h14.19v1.82h-14.19zM186.29 127.27h7.3v1.82h-7.3zM131.12 128.79h7.3v1.82h-7.3zM144.91 128.79h14.19v1.82h-14.19zM186.29 128.79h7.3v1.82h-7.3zM206.97 128.79h7.3v1.82h-7.3zM206.97 131.82h7.3v1.82h-7.3zM172.5 133.34h7.3v1.82h-7.3zM165.6 134.86h7.3v1.82h-7.3zM117.33 136.38h7.3v1.82h-7.3zM158.7 136.38h7.3v1.82h-7.3zM110.43 137.9h7.3v1.82h-7.3zM262.14 145.49h14.19v1.82h-14.19zM303.51 145.49h7.3v1.82h-7.3zM241.45 147.01h7.3v1.82h-7.3zM220.77 150.05h7.3v1.82h-7.3zM117.33 151.57h7.3v1.82h-7.3zM110.43 156.12h14.19v1.82h-14.19zM117.33 162.2h7.3v1.82h-7.3zM117.33 163.72h7.3v1.82h-7.3zM262.14 171.31h7.3v1.82h-7.3zM296.62 171.31h7.3v1.82h-7.3zM117.33 175.87h7.3v1.82h-7.3zM310.41 175.87h7.3v1.82h-7.3z"/><path fill="#ebf7e3" d="M48.37 71.08h7.3v1.82h-7.3zM89.75 71.08h7.3v1.82h-7.3zM117.33 71.08h7.3v1.82h-7.3zM75.96 72.59h14.19v1.82h-14.19zM55.27 74.11h7.3v1.82h-7.3zM75.96 75.63h14.19v1.82h-14.19zM55.27 77.15h7.3v1.82h-7.3zM41.48 78.67h7.3v1.82h-7.3zM55.27 78.67h7.3v1.82h-7.3zM103.54 78.67h7.3v1.82h-7.3zM206.97 78.67h7.3v1.82h-7.3zM89.75 92.34h14.19v1.82h-14.19zM41.48 95.38h7.3v1.82h-7.3zM69.06 95.38h7.3v1.82h-7.3zM82.85 95.38h7.3v1.82h-7.3zM89.75 98.41h7.3v1.82h-7.3zM151.81 99.93h7.3v1.82h-7.3zM117.33 101.45h7.3v1.82h-7.3zM48.37 102.97h7.3v1.82h-7.3zM138.02 102.97h7.3v1.82h-7.3zM27.69 104.49h7.3v1.82h-7.3zM75.96 104.49h7.3v1.82h-7.3zM96.64 104.49h14.19v1.82h-14.19zM41.48 106.01h7.3v1.82h-7.3zM110.43 106.01h7.3v1.82h-7.3zM144.91 106.01h7.3v1.82h-7.3zM131.12 107.53h7.3v1.82h-7.3zM158.7 107.53h7.3v1.82h-7.3zM179.39 107.53h7.3v1.82h-7.3zM75.96 109.04h7.3v1.82h-7.3zM41.48 112.08h7.3v1.82h-7.3zM48.37 113.6h7.3v1.82h-7.3zM41.48 116.64h7.3v1.82h-7.3zM96.64 118.16h14.19v1.82h-14.19zM41.48 122.71h7.3v1.82h-7.3zM296.62 128.79h7.3v1.82h-7.3zM310.41 128.79h7.3v1.82h-7.3zM255.24 130.31h7.3v1.82h-7.3zM310.41 130.31h7.3v1.82h-7.3zM213.87 131.82h7.3v1.82h-7.3zM241.45 131.82h7.3v1.82h-7.3zM262.14 131.82h7.3v1.82h-7.3zM234.56 137.9h7.3v1.82h-7.3zM269.03 140.94h7.3v1.82h-7.3zM269.03 142.46h7.3v1.82h-7.3zM317.3 142.46h7.3v1.82h-7.3zM303.51 143.98h7.3v1.82h-7.3zM310.41 145.49h7.3v1.82h-7.3zM234.56 147.01h7.3v1.82h-7.3zM269.03 147.01h7.3v1.82h-7.3zM303.51 147.01h7.3v1.82h-7.3zM241.45 150.05h7.3v1.82h-7.3zM296.62 150.05h7.3v1.82h-7.3zM213.87 151.57h14.19v1.82h-14.19zM234.56 151.57h7.3v1.82h-7.3zM269.03 151.57h7.3v1.82h-7.3zM282.83 151.57h14.19v1.82h-14.19zM317.3 151.57h7.3v1.82h-7.3zM255.24 153.09h7.3v1.82h-7.3zM269.03 156.12h7.3v1.82h-7.3zM275.93 157.64h7.3v1.82h-7.3zM289.72 157.64h7.3v1.82h-7.3zM289.72 159.16h7.3v1.82h-7.3zM317.3 159.16h7.3v1.82h-7.3zM234.56 160.68h7.3v1.82h-7.3zM303.51 160.68h7.3v1.82h-7.3zM289.72 162.2h7.3v1.82h-7.3zM282.83 166.76h7.3v1.82h-7.3zM220.77 168.28h7.3v1.82h-7.3zM262.14 169.79h7.3v1.82h-7.3zM310.41 169.79h7.3v1.82h-7.3zM289.72 171.31h7.3v1.82h-7.3zM303.51 171.31h7.3v1.82h-7.3zM275.93 172.83h7.3v1.82h-7.3zM213.87 175.87h7.3v1.82h-7.3zM241.45 177.39h7.3v1.82h-7.3zM255.24 177.39h7.3v1.82h-7.3zM317.3 177.39h7.3v1.82h-7.3zM220.77 183.46h7.3v1.82h-7.3zM213.87 184.98h7.3v1.82h-7.3z"/><path fill="#e8f6ea" d="M55.27 71.08h7.3v1.82h-7.3zM62.17 81.71h7.3v1.82h-7.3zM138.02 95.38h7.3v1.82h-7.3zM96.64 96.89h7.3v1.82h-7.3zM206.97 96.89h7.3v1.82h-7.3zM96.64 98.41h7.3v1.82h-7.3zM179.39 101.45h7.3v1.82h-7.3zM110.43 102.97h7.3v1.82h-7.3zM158.7 102.97h7.3v1.82h-7.3zM62.17 104.49h7.3v1.82h-7.3zM48.37 106.01h7.3v1.82h-7.3zM179.39 106.01h7.3v1.82h-7.3zM75.96 107.53h7.3v1.82h-7.3zM110.43 107.53h7.3v1.82h-7.3zM117.33 109.04h7.3v1.82h-7.3zM89.75 110.56h7.3v1.82h-7.3zM41.48 113.6h7.3v1.82h-7.3zM69.06 113.6h7.3v1.82h-7.3zM89.75 113.6h7.3v1.82h-7.3zM55.27 115.12h7.3v1.82h-7.3zM82.85 115.12h7.3v1.82h-7.3zM48.37 116.64h14.19v1.82h-14.19zM82.85 118.16h7.3v1.82h-7.3zM41.48 119.68h7.3v1.82h-7.3zM82.85 124.23h7.3v1.82h-7.3zM41.48 125.75h7.3v1.82h-7.3zM82.85 125.75h7.3v1.82h-7.3zM117.33 128.79h14.19v1.82h-14.19zM241.45 128.79h7.3v1.82h-7.3zM269.03 128.79h7.3v1.82h-7.3zM289.72 128.79h7.3v1.82h-7.3zM303.51 128.79h7.3v1.82h-7.3zM213.87 133.34h7.3v1.82h-7.3zM227.66 133.34h7.3v1.82h-7.3zM269.03 133.34h7.3v1.82h-7.3zM227.66 134.86h7.3v1.82h-7.3zM255.24 136.38h7.3v1.82h-7.3zM241.45 137.9h7.3v1.82h-7.3zM213.87 139.42h7.3v1.82h-7.3zM227.66 139.42h14.19v1.82h-14.19zM213.87 140.94h7.3v1.82h-7.3zM303.51 142.46h7.3v1.82h-7.3zM282.83 143.98h7.3v1.82h-7.3zM220.77 145.49h7.3v1.82h-7.3zM234.56 148.53h7.3v1.82h-7.3zM227.66 150.05h7.3v1.82h-7.3zM282.83 154.61h7.3v1.82h-7.3zM241.45 156.12h7.3v1.82h-7.3zM248.35 157.64h7.3v1.82h-7.3zM262.14 159.16h7.3v1.82h-7.3zM310.41 159.16h7.3v1.82h-7.3zM310.41 160.68h14.19v1.82h-14.19zM310.41 162.2h7.3v1.82h-7.3zM317.3 163.72h7.3v1.82h-7.3zM248.35 165.24h7.3v1.82h-7.3zM213.87 166.76h14.19v1.82h-14.19zM289.72 166.76h7.3v1.82h-7.3zM241.45 168.28h7.3v1.82h-7.3zM275.93 168.28h7.3v1.82h-7.3zM289.72 168.28h7.3v1.82h-7.3zM275.93 171.31h7.3v1.82h-7.3zM255.24 172.83h7.3v1.82h-7.3zM296.62 172.83h7.3v1.82h-7.3zM220.77 174.35h7.3v1.82h-7.3zM241.45 174.35h7.3v1.82h-7.3zM282.83 174.35h7.3v1.82h-7.3zM310.41 177.39h7.3v1.82h-7.3zM248.35 178.91h7.3v1.82h-7.3zM227.66 183.46h7.3v1.82h-7.3zM241.45 183.46h7.3v1.82h-7.3zM269.03 183.46h7.3v1.82h-7.3zM289.72 184.98h7.3v1.82h-7.3z"/><path fill="#eff9dc" d="M55.27 72.59h7.3v1.82h-7.3zM82.85 74.11h14.19v1.82h-14.19zM55.27 75.63h7.3v1.82h-7.3zM124.23 75.63h7.3v1.82h-7.3zM206.97 75.63h7.3v1.82h-7.3zM41.48 77.15h7.3v1.82h-7.3zM62.17 77.15h7.3v1.82h-7.3zM89.75 77.15h7.3v1.82h-7.3zM48.37 78.67h7.3v1.82h-7.3zM172.5 78.67h7.3v1.82h-7.3zM7 86.26h7.3v1.82h-7.3zM89.75 93.86h7.3v1.82h-7.3zM48.37 95.38h14.19v1.82h-14.19zM89.75 95.38h7.3v1.82h-7.3zM69.06 98.41h7.3v1.82h-7.3zM55.27 99.93h7.3v1.82h-7.3zM69.06 99.93h14.19v1.82h-14.19zM96.64 99.93h7.3v1.82h-7.3zM200.08 101.45h7.3v1.82h-7.3zM179.39 102.97h7.3v1.82h-7.3zM138.02 104.49h7.3v1.82h-7.3zM172.5 104.49h7.3v1.82h-7.3zM186.29 104.49h7.3v1.82h-7.3zM7 106.01h7.3v1.82h-7.3zM75.96 106.01h7.3v1.82h-7.3zM131.12 106.01h7.3v1.82h-7.3zM69.06 107.53h7.3v1.82h-7.3zM151.81 107.53h7.3v1.82h-7.3zM165.6 107.53h14.19v1.82h-14.19zM186.29 107.53h7.3v1.82h-7.3zM124.23 109.04h14.19v1.82h-14.19zM172.5 109.04h7.3v1.82h-7.3zM206.97 109.04h7.3v1.82h-7.3zM41.48 110.56h7.3v1.82h-7.3zM89.75 112.08h7.3v1.82h-7.3zM103.54 112.08h7.3v1.82h-7.3zM27.69 113.6h7.3v1.82h-7.3zM41.48 115.12h7.3v1.82h-7.3zM48.37 118.16h7.3v1.82h-7.3zM62.17 118.16h7.3v1.82h-7.3zM48.37 124.23h7.3v1.82h-7.3zM69.06 127.27h14.19v1.82h-14.19zM172.5 128.79h7.3v1.82h-7.3zM200.08 128.79h7.3v1.82h-7.3zM213.87 128.79h7.3v1.82h-7.3zM117.33 130.31h7.3v1.82h-7.3zM110.43 133.34h14.19v1.82h-14.19zM110.43 134.86h14.19v1.82h-14.19zM248.35 139.42h7.3v1.82h-7.3zM317.3 139.42h7.3v1.82h-7.3zM234.56 140.94h7.3v1.82h-7.3zM227.66 142.46h7.3v1.82h-7.3zM227.66 145.49h7.3v1.82h-7.3zM289.72 145.49h7.3v1.82h-7.3zM227.66 147.01h7.3v1.82h-7.3zM296.62 147.01h7.3v1.82h-7.3zM310.41 147.01h7.3v1.82h-7.3zM262.14 148.53h7.3v1.82h-7.3zM289.72 148.53h7.3v1.82h-7.3zM248.35 151.57h7.3v1.82h-7.3zM262.14 151.57h7.3v1.82h-7.3zM110.43 153.09h7.3v1.82h-7.3zM262.14 153.09h7.3v1.82h-7.3zM241.45 154.61h7.3v1.82h-7.3zM262.14 154.61h7.3v1.82h-7.3zM262.14 156.12h7.3v1.82h-7.3zM303.51 159.16h7.3v1.82h-7.3zM227.66 160.68h7.3v1.82h-7.3zM289.72 160.68h7.3v1.82h-7.3zM275.93 162.2h7.3v1.82h-7.3zM310.41 163.72h7.3v1.82h-7.3zM220.77 165.24h7.3v1.82h-7.3zM310.41 165.24h7.3v1.82h-7.3zM234.56 168.28h7.3v1.82h-7.3zM255.24 169.79h7.3v1.82h-7.3zM234.56 171.31h7.3v1.82h-7.3zM262.14 175.87h7.3v1.82h-7.3zM289.72 175.87h7.3v1.82h-7.3zM296.62 177.39h7.3v1.82h-7.3zM241.45 178.91h7.3v1.82h-7.3zM296.62 178.91h14.19v1.82h-14.19zM255.24 180.43h7.3v1.82h-7.3zM255.24 183.46h7.3v1.82h-7.3zM317.3 183.46h7.3v1.82h-7.3zM310.41 184.98h7.3v1.82h-7.3z"/><path fill="#fdbd79" d="M317.3 75.63h7.3v1.82h-7.3zM303.51 80.19h7.3v1.82h-7.3zM303.51 81.71h7.3v1.82h-7.3zM248.35 87.78h7.3v1.82h-7.3zM282.83 89.3h7.3v1.82h-7.3zM227.66 90.82h7.3v1.82h-7.3zM310.41 90.82h7.3v1.82h-7.3zM255.24 99.93h7.3v1.82h-7.3zM213.87 118.16h7.3v1.82h-7.3zM227.66 119.68h7.3v1.82h-7.3zM282.83 119.68h7.3v1.82h-7.3zM227.66 122.71h7.3v1.82h-7.3zM248.35 122.71h7.3v1.82h-7.3zM227.66 124.23h7.3v1.82h-7.3zM227.66 125.75h7.3v1.82h-7.3zM96.64 130.31h7.3v1.82h-7.3zM62.17 143.98h7.3v1.82h-7.3zM75.96 157.64h7.3v1.82h-7.3zM103.54 175.87h7.3v1.82h-7.3zM193.18 178.91h7.3v1.82h-7.3z"/><path fill="#e2f4f5" d="M82.85 78.67h7.3v1.82h-7.3zM89.75 81.71h7.3v1.82h-7.3zM55.27 83.22h7.3v1.82h-7.3zM75.96 86.26h7.3v1.82h-7.3zM75.96 87.78h7.3v1.82h-7.3zM103.54 90.82h7.3v1.82h-7.3zM103.54 96.89h7.3v1.82h-7.3zM186.29 101.45h7.3v1.82h-7.3zM20.79 102.97h7.3v1.82h-7.3zM55.27 104.49h7.3v1.82h-7.3zM55.27 107.53h7.3v1.82h-7.3zM103.54 107.53h7.3v1.82h-7.3zM48.37 109.04h7.3v1.82h-7.3zM82.85 109.04h7.3v1.82h-7.3zM62.17 113.6h7.3v1.82h-7.3zM82.85 113.6h7.3v1.82h-7.3zM48.37 125.75h7.3v1.82h-7.3zM248.35 128.79h7.3v1.82h-7.3zM241.45 130.31h7.3v1.82h-7.3zM227.66 131.82h7.3v1.82h-7.3zM248.35 133.34h7.3v1.82h-7.3zM289.72 133.34h7.3v1.82h-7.3zM310.41 133.34h7.3v1.82h-7.3zM234.56 134.86h14.19v1.82h-14.19zM282.83 134.86h7.3v1.82h-7.3zM248.35 136.38h7.3v1.82h-7.3zM296.62 136.38h7.3v1.82h-7.3zM275.93 137.9h7.3v1.82h-7.3zM303.51 137.9h7.3v1.82h-7.3zM289.72 139.42h7.3v1.82h-7.3zM289.72 140.94h7.3v1.82h-7.3zM310.41 140.94h7.3v1.82h-7.3zM269.03 148.53h7.3v1.82h-7.3zM289.72 150.05h7.3v1.82h-7.3zM241.45 153.09h7.3v1.82h-7.3zM220.77 156.12h7.3v1.82h-7.3zM269.03 157.64h7.3v1.82h-7.3zM220.77 160.68h7.3v1.82h-7.3zM241.45 160.68h7.3v1.82h-7.3zM220.77 162.2h7.3v1.82h-7.3zM234.56 162.2h7.3v1.82h-7.3zM227.66 163.72h7.3v1.82h-7.3zM303.51 163.72h7.3v1.82h-7.3zM275.93 165.24h7.3v1.82h-7.3zM296.62 165.24h7.3v1.82h-7.3zM262.14 166.76h7.3v1.82h-7.3zM262.14 168.28h7.3v1.82h-7.3zM310.41 168.28h7.3v1.82h-7.3zM227.66 169.79h7.3v1.82h-7.3zM296.62 169.79h7.3v1.82h-7.3zM282.83 171.31h7.3v1.82h-7.3zM282.83 172.83h7.3v1.82h-7.3zM248.35 175.87h7.3v1.82h-7.3zM289.72 177.39h7.3v1.82h-7.3zM303.51 177.39h7.3v1.82h-7.3zM213.87 180.43h7.3v1.82h-7.3zM282.83 180.43h14.19v1.82h-14.19zM220.77 181.94h7.3v1.82h-7.3zM269.03 181.94h7.3v1.82h-7.3zM289.72 181.94h7.3v1.82h-7.3zM213.87 183.46h7.3v1.82h-7.3zM248.35 184.98h7.3v1.82h-7.3zM282.83 184.98h7.3v1.82h-7.3zM303.51 184.98h7.3v1.82h-7.3z"/><path fill="#d2eaf3" d="M48.37 81.71h7.3v1.82h-7.3zM69.06 81.71h7.3v1.82h-7.3zM62.17 83.22h7.3v1.82h-7.3zM96.64 83.22h14.19v1.82h-14.19zM62.17 84.74h7.3v1.82h-7.3zM82.85 84.74h14.19v1.82h-14.19zM96.64 86.26h7.3v1.82h-7.3zM75.96 89.3h7.3v1.82h-7.3zM220.77 130.31h7.3v1.82h-7.3zM275.93 130.31h7.3v1.82h-7.3zM303.51 130.31h7.3v1.82h-7.3zM255.24 134.86h7.3v1.82h-7.3zM289.72 134.86h7.3v1.82h-7.3zM317.3 136.38h7.3v1.82h-7.3zM255.24 137.9h7.3v1.82h-7.3zM303.51 148.53h7.3v1.82h-7.3zM269.03 169.79h7.3v1.82h-7.3zM289.72 169.79h7.3v1.82h-7.3zM248.35 174.35h7.3v1.82h-7.3z"/><path fill="#badaea" d="M55.27 81.71h7.3v1.82h-7.3zM82.85 83.22h7.3v1.82h-7.3zM103.54 84.74h7.3v1.82h-7.3zM55.27 89.3h7.3v1.82h-7.3zM69.06 89.3h7.3v1.82h-7.3zM55.27 106.01h7.3v1.82h-7.3zM296.62 133.34h7.3v1.82h-7.3zM220.77 136.38h7.3v1.82h-7.3zM241.45 136.38h7.3v1.82h-7.3zM289.72 163.72h7.3v1.82h-7.3z"/><path fill="#d6edf4" d="M75.96 81.71h7.3v1.82h-7.3zM48.37 83.22h7.3v1.82h-7.3zM96.64 84.74h7.3v1.82h-7.3zM69.06 87.78h7.3v1.82h-7.3zM75.96 90.82h7.3v1.82h-7.3zM41.48 96.89h7.3v1.82h-7.3zM82.85 96.89h7.3v1.82h-7.3zM55.27 102.97h7.3v1.82h-7.3zM96.64 107.53h7.3v1.82h-7.3zM303.51 131.82h14.19v1.82h-14.19zM234.56 133.34h7.3v1.82h-7.3zM213.87 136.38h7.3v1.82h-7.3zM234.56 136.38h7.3v1.82h-7.3zM269.03 136.38h14.19v1.82h-14.19zM220.77 137.9h7.3v1.82h-7.3zM241.45 139.42h7.3v1.82h-7.3zM262.14 139.42h14.19v1.82h-14.19zM269.03 153.09h7.3v1.82h-7.3zM220.77 154.61h7.3v1.82h-7.3zM275.93 163.72h7.3v1.82h-7.3zM234.56 165.24h7.3v1.82h-7.3zM269.03 165.24h7.3v1.82h-7.3zM275.93 169.79h7.3v1.82h-7.3zM241.45 172.83h7.3v1.82h-7.3zM241.45 181.94h7.3v1.82h-7.3zM275.93 183.46h7.3v1.82h-7.3z"/><path fill="#93c1dc" d="M82.85 81.71h7.3v1.82h-7.3z"/><path fill="#e4f4f1" d="M96.64 81.71h7.3v1.82h-7.3zM96.64 87.78h7.3v1.82h-7.3zM48.37 96.89h7.3v1.82h-7.3zM62.17 96.89h7.3v1.82h-7.3zM55.27 98.41h7.3v1.82h-7.3zM62.17 101.45h7.3v1.82h-7.3zM89.75 101.45h7.3v1.82h-7.3zM69.06 106.01h7.3v1.82h-7.3zM89.75 106.01h7.3v1.82h-7.3zM7 107.53h7.3v1.82h-7.3zM20.79 107.53h7.3v1.82h-7.3zM48.37 107.53h7.3v1.82h-7.3zM96.64 109.04h14.19v1.82h-14.19zM317.3 130.31h7.3v1.82h-7.3zM269.03 131.82h7.3v1.82h-7.3zM255.24 133.34h7.3v1.82h-7.3zM262.14 136.38h7.3v1.82h-7.3zM220.77 139.42h7.3v1.82h-7.3zM296.62 139.42h7.3v1.82h-7.3zM248.35 147.01h7.3v1.82h-7.3zM275.93 148.53h7.3v1.82h-7.3zM310.41 150.05h7.3v1.82h-7.3zM227.66 153.09h7.3v1.82h-7.3zM282.83 153.09h7.3v1.82h-7.3zM317.3 156.12h7.3v1.82h-7.3zM227.66 157.64h7.3v1.82h-7.3zM227.66 159.16h7.3v1.82h-7.3zM282.83 159.16h7.3v1.82h-7.3zM282.83 160.68h7.3v1.82h-7.3zM241.45 162.2h7.3v1.82h-7.3zM282.83 163.72h7.3v1.82h-7.3zM213.87 165.24h7.3v1.82h-7.3zM241.45 165.24h7.3v1.82h-7.3zM241.45 166.76h7.3v1.82h-7.3zM275.93 166.76h7.3v1.82h-7.3zM227.66 171.31h7.3v1.82h-7.3zM227.66 174.35h7.3v1.82h-7.3zM234.56 177.39h7.3v1.82h-7.3zM227.66 180.43h7.3v1.82h-7.3zM269.03 180.43h7.3v1.82h-7.3zM317.3 180.43h7.3v1.82h-7.3zM317.3 181.94h7.3v1.82h-7.3zM234.56 183.46h7.3v1.82h-7.3zM241.45 184.98h7.3v1.82h-7.3zM275.93 184.98h7.3v1.82h-7.3z"/><path fill="#b0d3e6" d="M103.54 81.71h7.3v1.82h-7.3zM82.85 86.26h7.3v1.82h-7.3zM310.41 134.86h7.3v1.82h-7.3z"/><path fill="#cde6f1" d="M89.75 83.22h7.3v1.82h-7.3zM69.06 84.74h7.3v1.82h-7.3zM48.37 86.26h7.3v1.82h-7.3zM89.75 86.26h7.3v1.82h-7.3zM48.37 89.3h7.3v1.82h-7.3zM96.64 89.3h7.3v1.82h-7.3zM69.06 90.82h7.3v1.82h-7.3zM82.85 90.82h7.3v1.82h-7.3zM96.64 90.82h7.3v1.82h-7.3zM220.77 134.86h7.3v1.82h-7.3zM269.03 134.86h7.3v1.82h-7.3zM282.83 136.38h7.3v1.82h-7.3zM282.83 139.42h7.3v1.82h-7.3zM303.51 140.94h7.3v1.82h-7.3zM248.35 148.53h7.3v1.82h-7.3zM275.93 153.09h7.3v1.82h-7.3zM317.3 153.09h7.3v1.82h-7.3zM310.41 154.61h7.3v1.82h-7.3zM269.03 160.68h7.3v1.82h-7.3zM289.72 165.24h7.3v1.82h-7.3zM213.87 171.31h7.3v1.82h-7.3zM241.45 180.43h14.19v1.82h-14.19zM275.93 180.43h7.3v1.82h-7.3zM248.35 181.94h7.3v1.82h-7.3z"/><path fill="#b5d7e8" d="M48.37 84.74h7.3v1.82h-7.3zM48.37 87.78h7.3v1.82h-7.3zM296.62 130.31h7.3v1.82h-7.3zM227.66 154.61h7.3v1.82h-7.3zM303.51 156.12h7.3v1.82h-7.3zM241.45 163.72h7.3v1.82h-7.3z"/><path fill="#c8e3ef" d="M55.27 84.74h7.3v1.82h-7.3zM82.85 87.78h14.19v1.82h-14.19zM62.17 89.3h7.3v1.82h-7.3zM48.37 90.82h7.3v1.82h-7.3zM89.75 107.53h7.3v1.82h-7.3zM289.72 131.82h7.3v1.82h-7.3zM220.77 133.34h7.3v1.82h-7.3zM255.24 139.42h7.3v1.82h-7.3zM275.93 139.42h7.3v1.82h-7.3zM275.93 140.94h7.3v1.82h-7.3zM310.41 148.53h7.3v1.82h-7.3zM303.51 150.05h7.3v1.82h-7.3zM269.03 162.2h7.3v1.82h-7.3zM213.87 163.72h7.3v1.82h-7.3z"/><path fill="#c3e0ed" d="M75.96 84.74h7.3v1.82h-7.3zM55.27 90.82h7.3v1.82h-7.3zM82.85 101.45h7.3v1.82h-7.3zM62.17 102.97h7.3v1.82h-7.3zM275.93 134.86h7.3v1.82h-7.3zM275.93 154.61h7.3v1.82h-7.3zM248.35 160.68h7.3v1.82h-7.3zM303.51 165.24h7.3v1.82h-7.3zM248.35 169.79h7.3v1.82h-7.3z"/><path fill="#a2cae1" d="M55.27 86.26h14.19v1.82h-14.19zM89.75 89.3h7.3v1.82h-7.3z"/><path fill="#beddec" d="M69.06 86.26h7.3v1.82h-7.3zM82.85 89.3h7.3v1.82h-7.3zM55.27 101.45h7.3v1.82h-7.3zM241.45 133.34h7.3v1.82h-7.3zM303.51 133.34h7.3v1.82h-7.3zM296.62 134.86h14.19v1.82h-14.19zM296.62 148.53h7.3v1.82h-7.3zM241.45 157.64h7.3v1.82h-7.3zM248.35 166.76h7.3v1.82h-7.3zM303.51 169.79h7.3v1.82h-7.3z"/><path fill="#9dc7df" d="M103.54 86.26h7.3v1.82h-7.3z"/><path fill="#e0f3f8" d="M55.27 87.78h14.19v1.82h-14.19zM103.54 87.78h7.3v1.82h-7.3zM103.54 89.3h7.3v1.82h-7.3zM62.17 90.82h7.3v1.82h-7.3zM62.17 98.41h7.3v1.82h-7.3zM82.85 98.41h7.3v1.82h-7.3zM41.48 99.93h7.3v1.82h-7.3zM41.48 101.45h7.3v1.82h-7.3zM89.75 102.97h7.3v1.82h-7.3zM41.48 104.49h7.3v1.82h-7.3zM89.75 104.49h7.3v1.82h-7.3zM41.48 107.53h7.3v1.82h-7.3zM55.27 112.08h7.3v1.82h-7.3zM89.75 118.16h7.3v1.82h-7.3zM234.56 130.31h7.3v1.82h-7.3zM220.77 131.82h7.3v1.82h-7.3zM213.87 134.86h7.3v1.82h-7.3zM317.3 134.86h7.3v1.82h-7.3zM303.51 139.42h7.3v1.82h-7.3zM296.62 140.94h7.3v1.82h-7.3zM289.72 143.98h7.3v1.82h-7.3zM234.56 150.05h7.3v1.82h-7.3zM317.3 150.05h7.3v1.82h-7.3zM275.93 151.57h7.3v1.82h-7.3zM220.77 153.09h7.3v1.82h-7.3zM234.56 154.61h7.3v1.82h-7.3zM289.72 154.61h7.3v1.82h-7.3zM248.35 156.12h7.3v1.82h-7.3zM296.62 156.12h7.3v1.82h-7.3zM310.41 156.12h7.3v1.82h-7.3zM220.77 159.16h7.3v1.82h-7.3zM241.45 159.16h21.09v1.82h-21.09zM220.77 163.72h7.3v1.82h-7.3zM234.56 163.72h7.3v1.82h-7.3zM310.41 166.76h7.3v1.82h-7.3zM213.87 169.79h14.19v1.82h-14.19zM241.45 171.31h7.3v1.82h-7.3zM296.62 180.43h7.3v1.82h-7.3zM310.41 180.43h7.3v1.82h-7.3zM275.93 181.94h7.3v1.82h-7.3zM296.62 181.94h7.3v1.82h-7.3zM248.35 183.46h7.3v1.82h-7.3zM303.51 183.46h7.3v1.82h-7.3z"/><path fill="#98c4de" d="M89.75 90.82h7.3v1.82h-7.3z"/><path fill="#e6f5ee" d="M55.27 92.34h7.3v1.82h-7.3zM55.27 96.89h7.3v1.82h-7.3zM89.75 96.89h7.3v1.82h-7.3zM41.48 98.41h7.3v1.82h-7.3zM75.96 101.45h7.3v1.82h-7.3zM96.64 101.45h7.3v1.82h-7.3zM131.12 101.45h7.3v1.82h-7.3zM206.97 101.45h7.3v1.82h-7.3zM41.48 102.97h7.3v1.82h-7.3zM82.85 102.97h7.3v1.82h-7.3zM96.64 102.97h7.3v1.82h-7.3zM7 104.49h7.3v1.82h-7.3zM82.85 104.49h7.3v1.82h-7.3zM20.79 106.01h7.3v1.82h-7.3zM62.17 107.53h7.3v1.82h-7.3zM55.27 109.04h7.3v1.82h-7.3zM89.75 109.04h7.3v1.82h-7.3zM82.85 112.08h7.3v1.82h-7.3zM55.27 113.6h7.3v1.82h-7.3zM96.64 113.6h7.3v1.82h-7.3zM55.27 124.23h7.3v1.82h-7.3zM213.87 130.31h7.3v1.82h-7.3zM227.66 130.31h7.3v1.82h-7.3zM262.14 130.31h7.3v1.82h-7.3zM317.3 133.34h7.3v1.82h-7.3zM248.35 137.9h7.3v1.82h-7.3zM269.03 137.9h7.3v1.82h-7.3zM282.83 137.9h7.3v1.82h-7.3zM296.62 137.9h7.3v1.82h-7.3zM282.83 140.94h7.3v1.82h-7.3zM289.72 142.46h7.3v1.82h-7.3zM248.35 143.98h7.3v1.82h-7.3zM241.45 145.49h7.3v1.82h-7.3zM213.87 148.53h14.19v1.82h-14.19zM255.24 148.53h7.3v1.82h-7.3zM317.3 148.53h7.3v1.82h-7.3zM262.14 150.05h7.3v1.82h-7.3zM275.93 150.05h7.3v1.82h-7.3zM227.66 151.57h7.3v1.82h-7.3zM255.24 151.57h7.3v1.82h-7.3zM296.62 151.57h7.3v1.82h-7.3zM310.41 151.57h7.3v1.82h-7.3zM234.56 153.09h7.3v1.82h-7.3zM296.62 153.09h7.3v1.82h-7.3zM248.35 154.61h7.3v1.82h-7.3zM296.62 154.61h7.3v1.82h-7.3zM213.87 156.12h7.3v1.82h-7.3zM296.62 157.64h7.3v1.82h-7.3zM213.87 159.16h7.3v1.82h-7.3zM269.03 159.16h14.19v1.82h-14.19zM213.87 160.68h7.3v1.82h-7.3zM262.14 160.68h7.3v1.82h-7.3zM262.14 163.72h14.19v1.82h-14.19zM255.24 165.24h7.3v1.82h-7.3zM248.35 168.28h7.3v1.82h-7.3zM303.51 168.28h7.3v1.82h-7.3zM234.56 169.79h14.19v1.82h-14.19zM282.83 169.79h7.3v1.82h-7.3zM248.35 172.83h7.3v1.82h-7.3zM269.03 174.35h14.19v1.82h-14.19zM234.56 175.87h14.19v1.82h-14.19zM275.93 175.87h7.3v1.82h-7.3zM317.3 175.87h7.3v1.82h-7.3zM248.35 177.39h7.3v1.82h-7.3zM269.03 177.39h7.3v1.82h-7.3zM262.14 180.43h7.3v1.82h-7.3zM303.51 181.94h7.3v1.82h-7.3zM262.14 183.46h7.3v1.82h-7.3zM296.62 183.46h7.3v1.82h-7.3zM269.03 184.98h7.3v1.82h-7.3z"/><path fill="#dbf0f6" d="M48.37 101.45h7.3v1.82h-7.3zM82.85 106.01h7.3v1.82h-7.3zM82.85 107.53h7.3v1.82h-7.3zM41.48 109.04h7.3v1.82h-7.3zM248.35 130.31h7.3v1.82h-7.3zM289.72 130.31h7.3v1.82h-7.3zM248.35 131.82h7.3v1.82h-7.3zM275.93 131.82h7.3v1.82h-7.3zM317.3 131.82h7.3v1.82h-7.3zM282.83 133.34h7.3v1.82h-7.3zM248.35 134.86h7.3v1.82h-7.3zM227.66 136.38h7.3v1.82h-7.3zM289.72 136.38h7.3v1.82h-7.3zM310.41 139.42h7.3v1.82h-7.3zM289.72 153.09h7.3v1.82h-7.3zM303.51 153.09h7.3v1.82h-7.3zM269.03 154.61h7.3v1.82h-7.3zM275.93 156.12h7.3v1.82h-7.3zM303.51 162.2h7.3v1.82h-7.3zM248.35 163.72h7.3v1.82h-7.3zM296.62 163.72h7.3v1.82h-7.3zM262.14 165.24h7.3v1.82h-7.3zM269.03 166.76h7.3v1.82h-7.3zM282.83 168.28h7.3v1.82h-7.3zM289.72 174.35h7.3v1.82h-7.3zM296.62 175.87h14.19v1.82h-14.19zM275.93 177.39h7.3v1.82h-7.3zM220.77 180.43h7.3v1.82h-7.3zM234.56 180.43h7.3v1.82h-7.3zM303.51 180.43h7.3v1.82h-7.3zM282.83 181.94h7.3v1.82h-7.3zM282.83 183.46h14.19v1.82h-14.19zM310.41 183.46h7.3v1.82h-7.3zM220.77 184.98h7.3v1.82h-7.3zM234.56 184.98h7.3v1.82h-7.3zM296.62 184.98h7.3v1.82h-7.3z"/><path fill="#fb8a57" d="M7 128.79h7.3v1.82h-7.3zM62.17 128.79h7.3v1.82h-7.3z"/><path fill="#f06e48" d="M13.9 128.79h7.3v1.82h-7.3z"/><path fill="#fc905b" d="M27.69 128.79h7.3v1.82h-7.3z"/><path fill="#f4794e" d="M48.37 128.79h7.3v1.82h-7.3zM96.64 128.79h7.3v1.82h-7.3z"/><path fill="#f98554" d="M55.27 128.79h7.3v1.82h-7.3zM103.54 128.79h7.3v1.82h-7.3z"/><path fill="#f67f51" d="M69.06 128.79h14.19v1.82h-14.19z"/><path fill="#fc955e" d="M89.75 128.79h7.3v1.82h-7.3z"/><path fill="#abd0e5" d="M275.93 133.34h7.3v1.82h-7.3z"/></g>
<defs><linearGradient id="gA" x1="0" y1="0" x2="0" y2="1"><stop offset="0" stop-color="#d73027"/><stop offset="0.17" stop-color="#fc8d59"/><stop offset="0.33" stop-color="#fee090"/><stop offset="0.5" stop-color="#ffffbf"/><stop offset="0.67" stop-color="#e0f3f8"/><stop offset="0.83" stop-color="#91bfdb"/><stop offset="1" stop-color="#4575b4"/></linearGradient></defs>
<rect x="329" y="69" width="4" height="50.5" fill="url(#gA)"/>
<g font-size="6.6" fill="#333">
<text x="334" y="83.2">5</text><text x="334" y="97.1">0</text><text x="334" y="111.7">-5</text>
<text x="341.8" y="72.3">cell</text>
<text x="350.8" y="78.4">IMM</text><text x="350.8" y="84.7">INT</text><text x="350.8" y="90.8">MAT</text>
<text x="341.8" y="102.3">CND</text>
<text x="350.8" y="108.6">HA</text><text x="350.8" y="114.9">MM</text>
</g>
<rect x="341.8" y="73.2" width="6" height="5.5" fill="#e0877e"/>
<rect x="341.8" y="79.6" width="6" height="5.5" fill="#3aa6d8"/>
<rect x="341.8" y="85.8" width="6" height="5.2" fill="#c0b81c"/>
<rect x="341.8" y="103.6" width="6" height="5.0" fill="#d088c8"/>
<rect x="341.8" y="110" width="6" height="5.0" fill="#2e9a68"/>
<text x="379.2" y="16.7" font-size="12.6" font-weight="bold" fill="#000">B</text>
<text x="425.9" y="29" font-size="7.2" fill="#222" textLength="21" lengthAdjust="spacingAndGlyphs">mature</text>
<path fill="none" stroke="#5a5a5a" stroke-width="0.75" d="M406.14 52.6V44.5H410.76V52.6M401.51 52.6V44H408.45V44.5M415.39 52.6V46.4H420.01V52.6M429.26 52.6V45.6H433.89V52.6M424.64 52.6V44H431.57V45.6M417.7 46.4V42.2H428.11V44M404.98 44V41.4H422.9V42.2M447.76 52.6V44H452.39V52.6M443.14 52.6V42.5H450.07V44M438.51 52.6V42.2H446.61V42.5M466.26 52.6V45.2H470.89V52.6M461.64 52.6V43.3H468.57V45.2M457.01 52.6V41.8H465.11V43.3M442.56 42.2V38.3H461.06V41.8M413.94 41.4V30.9H451.81V38.3"/>
<rect x="399.2" y="52.6" width="74" height="4" fill="#fd8078"/>
<rect x="399.2" y="57.4" width="36.8" height="4.3" fill="#72a6f5"/>
<rect x="436" y="57.4" width="37.2" height="4.3" fill="#00cc52"/>
<text x="475.8" y="57" font-size="6.6" fill="#222">cell</text>
<text x="475.8" y="62.6" font-size="6.6" fill="#222">CND</text>
<g shape-rendering="crispEdges"><path fill="#edf8e0" d="M399.2 62.5h5.03v2.04h-5.03zM403.82 64.24h5.03v2.04h-5.03zM399.2 67.73h5.03v2.04h-5.03zM408.45 72.96h5.03v2.04h-5.03zM422.32 74.71h5.03v2.04h-5.03zM431.57 81.68h5.03v2.04h-5.03zM399.2 83.43h5.03v2.04h-5.03zM422.32 85.17h5.03v2.04h-5.03zM431.57 92.15h5.03v2.04h-5.03zM408.45 93.89h5.03v2.04h-5.03zM426.95 93.89h5.03v2.04h-5.03zM399.2 95.64h5.03v2.04h-5.03zM431.57 106.1h5.03v2.04h-5.03zM413.07 146.21h5.03v2.04h-5.03zM459.32 149.7h5.03v2.04h-5.03zM440.82 158.42h5.03v2.04h-5.03zM454.7 158.42h5.03v2.04h-5.03zM459.32 160.16h5.03v2.04h-5.03zM450.07 170.63h5.03v2.04h-5.03z"/><path fill="#fff7b2" d="M403.82 62.5h5.03v2.04h-5.03zM422.32 65.99h9.65v2.04h-9.65zM413.07 67.73h5.03v2.04h-5.03zM459.32 67.73h5.03v2.04h-5.03zM403.82 69.48h5.03v2.04h-5.03zM399.2 74.71h5.03v2.04h-5.03zM426.95 74.71h5.03v2.04h-5.03zM422.32 78.2h9.65v2.04h-9.65zM459.32 78.2h5.03v2.04h-5.03zM408.45 88.66h5.03v2.04h-5.03zM422.32 88.66h9.65v2.04h-9.65zM454.7 88.66h5.03v2.04h-5.03zM422.32 95.64h5.03v2.04h-5.03zM463.95 97.38h5.03v2.04h-5.03zM422.32 100.87h5.03v2.04h-5.03zM426.95 102.61h5.03v2.04h-5.03zM463.95 107.84h5.03v2.04h-5.03zM399.2 111.33h5.03v2.04h-5.03zM403.82 113.08h5.03v2.04h-5.03zM426.95 114.82h5.03v2.04h-5.03zM417.7 123.54h5.03v2.04h-5.03zM413.07 127.03h5.03v2.04h-5.03zM422.32 137.49h5.03v2.04h-5.03zM408.45 140.98h9.65v2.04h-9.65zM413.07 144.47h5.03v2.04h-5.03zM431.57 144.47h5.03v2.04h-5.03zM408.45 146.21h5.03v2.04h-5.03zM426.95 147.96h5.03v2.04h-5.03zM440.82 156.68h5.03v2.04h-5.03zM413.07 158.42h5.03v2.04h-5.03zM413.07 160.16h5.03v2.04h-5.03zM440.82 165.4h5.03v2.04h-5.03zM463.95 165.4h5.03v2.04h-5.03zM440.82 174.12h5.03v2.04h-5.03zM436.2 175.86h5.03v2.04h-5.03zM468.57 175.86h5.03v2.04h-5.03zM468.57 179.35h5.03v2.04h-5.03zM445.45 181.09h5.03v2.04h-5.03zM417.7 184.58h5.03v2.04h-5.03zM463.95 188.07h5.03v2.04h-5.03zM450.07 189.81h9.65v2.04h-9.65z"/><path fill="#dbf0f6" d="M408.45 62.5h5.03v2.04h-5.03zM431.57 120.05h5.03v2.04h-5.03z"/><path fill="#fcfec4" d="M413.07 62.5h5.03v2.04h-5.03zM431.57 65.99h5.03v2.04h-5.03zM399.2 71.22h9.65v2.04h-9.65zM426.95 72.96h5.03v2.04h-5.03zM422.32 81.68h5.03v2.04h-5.03zM426.95 85.17h5.03v2.04h-5.03zM403.82 90.4h9.65v2.04h-9.65zM399.2 92.15h5.03v2.04h-5.03zM413.07 92.15h9.65v2.04h-9.65zM403.82 99.12h5.03v2.04h-5.03zM417.7 100.87h5.03v2.04h-5.03zM422.32 128.77h5.03v2.04h-5.03zM408.45 139.24h5.03v2.04h-5.03zM408.45 142.72h5.03v2.04h-5.03zM408.45 153.19h5.03v2.04h-5.03zM463.95 154.93h5.03v2.04h-5.03zM431.57 160.16h5.03v2.04h-5.03zM459.32 161.91h5.03v2.04h-5.03zM440.82 167.14h5.03v2.04h-5.03zM450.07 167.14h5.03v2.04h-5.03zM440.82 170.63h5.03v2.04h-5.03zM440.82 172.37h5.03v2.04h-5.03zM463.95 172.37h5.03v2.04h-5.03zM454.7 174.12h5.03v2.04h-5.03zM463.95 182.84h5.03v2.04h-5.03zM468.57 186.32h5.03v2.04h-5.03zM459.32 188.07h5.03v2.04h-5.03zM468.57 189.81h5.03v2.04h-5.03zM440.82 191.56h5.03v2.04h-5.03zM454.7 191.56h5.03v2.04h-5.03z"/><path fill="#f5fbd2" d="M417.7 62.5h5.03v2.04h-5.03zM431.57 64.24h5.03v2.04h-5.03zM403.82 67.73h5.03v2.04h-5.03zM422.32 67.73h5.03v2.04h-5.03zM422.32 69.48h5.03v2.04h-5.03zM431.57 76.45h5.03v2.04h-5.03zM417.7 78.2h5.03v2.04h-5.03zM426.95 81.68h5.03v2.04h-5.03zM403.82 83.43h5.03v2.04h-5.03zM399.2 90.4h5.03v2.04h-5.03zM399.2 107.84h5.03v2.04h-5.03zM426.95 116.56h5.03v2.04h-5.03zM399.2 118.31h5.03v2.04h-5.03zM431.57 118.31h5.03v2.04h-5.03zM426.95 120.05h5.03v2.04h-5.03zM408.45 121.8h5.03v2.04h-5.03zM408.45 130.52h5.03v2.04h-5.03zM431.57 135.75h5.03v2.04h-5.03zM403.82 144.47h5.03v2.04h-5.03zM454.7 151.44h5.03v2.04h-5.03zM459.32 172.37h5.03v2.04h-5.03zM445.45 174.12h5.03v2.04h-5.03zM454.7 181.09h5.03v2.04h-5.03zM468.57 181.09h5.03v2.04h-5.03zM463.95 191.56h5.03v2.04h-5.03z"/><path fill="#e9f7e7" d="M422.32 62.5h5.03v2.04h-5.03zM431.57 74.71h5.03v2.04h-5.03zM431.57 93.89h5.03v2.04h-5.03zM426.95 97.38h5.03v2.04h-5.03zM408.45 107.84h5.03v2.04h-5.03zM431.57 107.84h5.03v2.04h-5.03zM408.45 114.82h9.65v2.04h-9.65zM413.07 121.8h5.03v2.04h-5.03zM454.7 160.16h5.03v2.04h-5.03z"/><path fill="#fffab8" d="M426.95 62.5h5.03v2.04h-5.03zM422.32 64.24h5.03v2.04h-5.03zM459.32 65.99h5.03v2.04h-5.03zM422.32 71.22h5.03v2.04h-5.03zM399.2 76.45h5.03v2.04h-5.03zM431.57 78.2h5.03v2.04h-5.03zM459.32 81.68h5.03v2.04h-5.03zM413.07 83.43h5.03v2.04h-5.03zM468.57 90.4h5.03v2.04h-5.03zM403.82 93.89h5.03v2.04h-5.03zM431.57 99.12h5.03v2.04h-5.03zM459.32 100.87h5.03v2.04h-5.03zM403.82 106.1h5.03v2.04h-5.03zM413.07 109.59h5.03v2.04h-5.03zM403.82 123.54h5.03v2.04h-5.03zM431.57 123.54h5.03v2.04h-5.03zM403.82 127.03h5.03v2.04h-5.03zM417.7 127.03h5.03v2.04h-5.03zM417.7 128.77h5.03v2.04h-5.03zM459.32 132.26h5.03v2.04h-5.03zM408.45 134h5.03v2.04h-5.03zM426.95 135.75h5.03v2.04h-5.03zM422.32 140.98h5.03v2.04h-5.03zM459.32 140.98h5.03v2.04h-5.03zM417.7 142.72h5.03v2.04h-5.03zM431.57 146.21h5.03v2.04h-5.03zM399.2 147.96h5.03v2.04h-5.03zM440.82 154.93h5.03v2.04h-5.03zM436.2 156.68h5.03v2.04h-5.03zM445.45 156.68h5.03v2.04h-5.03zM459.32 163.65h5.03v2.04h-5.03zM450.07 172.37h5.03v2.04h-5.03zM459.32 174.12h5.03v2.04h-5.03zM445.45 175.86h5.03v2.04h-5.03zM459.32 182.84h5.03v2.04h-5.03zM459.32 184.58h5.03v2.04h-5.03zM436.2 191.56h5.03v2.04h-5.03zM468.57 191.56h5.03v2.04h-5.03z"/><path fill="#eff9dc" d="M431.57 62.5h5.03v2.04h-5.03zM408.45 64.24h9.65v2.04h-9.65zM431.57 69.48h5.03v2.04h-5.03zM399.2 72.96h5.03v2.04h-5.03zM417.7 72.96h5.03v2.04h-5.03zM431.57 85.17h5.03v2.04h-5.03zM426.95 86.92h5.03v2.04h-5.03zM408.45 102.61h5.03v2.04h-5.03zM431.57 102.61h5.03v2.04h-5.03zM417.7 106.1h5.03v2.04h-5.03zM422.32 116.56h5.03v2.04h-5.03zM408.45 120.05h5.03v2.04h-5.03zM403.82 121.8h5.03v2.04h-5.03zM468.57 158.42h5.03v2.04h-5.03z"/><path fill="#eb6342" d="M436.2 62.5h5.03v2.04h-5.03zM422.32 149.7h5.03v2.04h-5.03z"/><path fill="#fc955e" d="M440.82 62.5h14.28v2.04h-14.28zM440.82 64.24h5.03v2.04h-5.03zM440.82 65.99h5.03v2.04h-5.03zM450.07 67.73h5.03v2.04h-5.03zM445.45 74.71h9.65v2.04h-9.65zM450.07 76.45h5.03v2.04h-5.03zM450.07 78.2h5.03v2.04h-5.03zM463.95 79.94h5.03v2.04h-5.03zM450.07 81.68h5.03v2.04h-5.03zM436.2 123.54h5.03v2.04h-5.03zM436.2 130.52h5.03v2.04h-5.03zM454.7 134h5.03v2.04h-5.03zM431.57 149.7h5.03v2.04h-5.03zM403.82 151.44h9.65v2.04h-9.65z"/><path fill="#fdc27c" d="M454.7 62.5h5.03v2.04h-5.03zM454.7 65.99h5.03v2.04h-5.03zM440.82 67.73h5.03v2.04h-5.03zM459.32 79.94h5.03v2.04h-5.03zM450.07 90.4h9.65v2.04h-9.65zM454.7 99.12h5.03v2.04h-5.03zM468.57 109.59h5.03v2.04h-5.03zM436.2 111.33h5.03v2.04h-5.03zM463.95 111.33h5.03v2.04h-5.03zM440.82 120.05h5.03v2.04h-5.03zM450.07 123.54h5.03v2.04h-5.03zM445.45 127.03h5.03v2.04h-5.03zM403.82 128.77h5.03v2.04h-5.03zM440.82 130.52h5.03v2.04h-5.03zM440.82 135.75h5.03v2.04h-5.03zM463.95 137.49h5.03v2.04h-5.03zM459.32 146.21h5.03v2.04h-5.03zM454.7 147.96h5.03v2.04h-5.03zM399.2 153.19h5.03v2.04h-5.03zM417.7 161.91h5.03v2.04h-5.03zM417.7 167.14h5.03v2.04h-5.03zM426.95 177.6h5.03v2.04h-5.03z"/><path fill="#fedb8d" d="M459.32 62.5h5.03v2.04h-5.03zM463.95 65.99h9.65v2.04h-9.65zM468.57 69.48h5.03v2.04h-5.03zM454.7 72.96h5.03v2.04h-5.03zM436.2 86.92h5.03v2.04h-5.03zM454.7 93.89h5.03v2.04h-5.03zM436.2 97.38h5.03v2.04h-5.03zM459.32 104.36h5.03v2.04h-5.03zM459.32 106.1h5.03v2.04h-5.03zM440.82 127.03h5.03v2.04h-5.03zM463.95 140.98h5.03v2.04h-5.03zM399.2 142.72h5.03v2.04h-5.03zM436.2 144.47h5.03v2.04h-5.03zM417.7 165.4h5.03v2.04h-5.03zM422.32 167.14h5.03v2.04h-5.03zM422.32 168.88h5.03v2.04h-5.03zM399.2 172.37h5.03v2.04h-5.03zM426.95 172.37h5.03v2.04h-5.03zM426.95 175.86h5.03v2.04h-5.03zM422.32 177.6h5.03v2.04h-5.03zM440.82 179.35h5.03v2.04h-5.03zM450.07 179.35h5.03v2.04h-5.03zM399.2 184.58h5.03v2.04h-5.03zM426.95 186.32h5.03v2.04h-5.03z"/><path fill="#fee89b" d="M463.95 62.5h5.03v2.04h-5.03zM468.57 64.24h5.03v2.04h-5.03zM408.45 65.99h5.03v2.04h-5.03zM440.82 92.15h5.03v2.04h-5.03zM468.57 97.38h5.03v2.04h-5.03zM468.57 106.1h5.03v2.04h-5.03zM454.7 114.82h5.03v2.04h-5.03zM463.95 116.56h5.03v2.04h-5.03zM436.2 120.05h5.03v2.04h-5.03zM450.07 120.05h5.03v2.04h-5.03zM445.45 123.54h5.03v2.04h-5.03zM468.57 127.03h5.03v2.04h-5.03zM426.95 128.77h5.03v2.04h-5.03zM426.95 137.49h5.03v2.04h-5.03zM431.57 139.24h5.03v2.04h-5.03zM450.07 147.96h5.03v2.04h-5.03zM436.2 153.19h5.03v2.04h-5.03zM403.82 158.42h5.03v2.04h-5.03zM422.32 158.42h5.03v2.04h-5.03zM413.07 161.91h5.03v2.04h-5.03zM431.57 161.91h5.03v2.04h-5.03zM399.2 165.4h5.03v2.04h-5.03zM426.95 165.4h5.03v2.04h-5.03zM413.07 168.88h5.03v2.04h-5.03zM408.45 174.12h5.03v2.04h-5.03zM417.7 174.12h5.03v2.04h-5.03zM426.95 174.12h5.03v2.04h-5.03zM403.82 175.86h5.03v2.04h-5.03zM413.07 175.86h5.03v2.04h-5.03zM413.07 184.58h5.03v2.04h-5.03zM422.32 189.81h5.03v2.04h-5.03z"/><path fill="#fee496" d="M468.57 62.5h5.03v2.04h-5.03zM463.95 64.24h5.03v2.04h-5.03zM463.95 72.96h5.03v2.04h-5.03zM413.07 74.71h5.03v2.04h-5.03zM445.45 86.92h5.03v2.04h-5.03zM445.45 90.4h5.03v2.04h-5.03zM445.45 95.64h5.03v2.04h-5.03zM445.45 97.38h5.03v2.04h-5.03zM454.7 97.38h5.03v2.04h-5.03zM454.7 100.87h5.03v2.04h-5.03zM436.2 102.61h9.65v2.04h-9.65zM459.32 111.33h5.03v2.04h-5.03zM468.57 118.31h5.03v2.04h-5.03zM468.57 120.05h5.03v2.04h-5.03zM468.57 123.54h5.03v2.04h-5.03zM463.95 125.28h9.65v2.04h-9.65zM426.95 127.03h5.03v2.04h-5.03zM426.95 132.26h5.03v2.04h-5.03zM426.95 140.98h5.03v2.04h-5.03zM399.2 144.47h5.03v2.04h-5.03zM403.82 154.93h5.03v2.04h-5.03zM431.57 154.93h5.03v2.04h-5.03zM399.2 156.68h5.03v2.04h-5.03zM399.2 158.42h5.03v2.04h-5.03zM422.32 163.65h5.03v2.04h-5.03zM431.57 165.4h5.03v2.04h-5.03zM422.32 170.63h5.03v2.04h-5.03zM413.07 172.37h5.03v2.04h-5.03zM431.57 172.37h5.03v2.04h-5.03zM408.45 177.6h5.03v2.04h-5.03zM450.07 177.6h5.03v2.04h-5.03zM463.95 179.35h5.03v2.04h-5.03zM413.07 188.07h5.03v2.04h-5.03zM417.7 189.81h5.03v2.04h-5.03zM440.82 189.81h5.03v2.04h-5.03zM431.57 191.56h5.03v2.04h-5.03z"/><path fill="#f8fccb" d="M399.2 64.24h5.03v2.04h-5.03zM413.07 69.48h5.03v2.04h-5.03zM408.45 76.45h9.65v2.04h-9.65zM422.32 83.43h9.65v2.04h-9.65zM422.32 86.92h5.03v2.04h-5.03zM417.7 88.66h5.03v2.04h-5.03zM431.57 90.4h5.03v2.04h-5.03zM426.95 92.15h5.03v2.04h-5.03zM431.57 95.64h5.03v2.04h-5.03zM417.7 111.33h5.03v2.04h-5.03zM403.82 118.31h5.03v2.04h-5.03zM413.07 118.31h5.03v2.04h-5.03zM413.07 123.54h5.03v2.04h-5.03zM422.32 135.75h5.03v2.04h-5.03zM459.32 156.68h5.03v2.04h-5.03zM468.57 156.68h5.03v2.04h-5.03zM459.32 170.63h5.03v2.04h-5.03zM463.95 174.12h5.03v2.04h-5.03zM454.7 175.86h5.03v2.04h-5.03zM468.57 182.84h5.03v2.04h-5.03zM454.7 184.58h5.03v2.04h-5.03z"/><path fill="#fafdc8" d="M417.7 64.24h5.03v2.04h-5.03zM417.7 67.73h5.03v2.04h-5.03zM403.82 72.96h5.03v2.04h-5.03zM454.7 74.71h5.03v2.04h-5.03zM459.32 83.43h5.03v2.04h-5.03zM399.2 85.17h5.03v2.04h-5.03zM431.57 100.87h5.03v2.04h-5.03zM426.95 111.33h5.03v2.04h-5.03zM426.95 113.08h5.03v2.04h-5.03zM422.32 114.82h5.03v2.04h-5.03zM413.07 120.05h5.03v2.04h-5.03zM399.2 127.03h5.03v2.04h-5.03zM422.32 132.26h5.03v2.04h-5.03zM413.07 135.75h5.03v2.04h-5.03zM403.82 139.24h5.03v2.04h-5.03zM417.7 139.24h5.03v2.04h-5.03zM403.82 147.96h9.65v2.04h-9.65zM450.07 156.68h5.03v2.04h-5.03zM408.45 158.42h5.03v2.04h-5.03zM468.57 160.16h5.03v2.04h-5.03zM450.07 163.65h5.03v2.04h-5.03zM454.7 172.37h5.03v2.04h-5.03zM436.2 174.12h5.03v2.04h-5.03zM468.57 174.12h5.03v2.04h-5.03zM436.2 177.6h5.03v2.04h-5.03zM436.2 179.35h5.03v2.04h-5.03zM440.82 186.32h5.03v2.04h-5.03zM459.32 186.32h9.65v2.04h-9.65zM445.45 191.56h5.03v2.04h-5.03z"/><path fill="#fffebe" d="M426.95 64.24h5.03v2.04h-5.03zM431.57 67.73h5.03v2.04h-5.03zM399.2 69.48h5.03v2.04h-5.03zM417.7 69.48h5.03v2.04h-5.03zM403.82 81.68h5.03v2.04h-5.03zM417.7 83.43h5.03v2.04h-5.03zM413.07 85.17h5.03v2.04h-5.03zM426.95 90.4h5.03v2.04h-5.03zM417.7 97.38h5.03v2.04h-5.03zM403.82 102.61h5.03v2.04h-5.03zM403.82 104.36h5.03v2.04h-5.03zM422.32 104.36h5.03v2.04h-5.03zM459.32 107.84h5.03v2.04h-5.03zM422.32 118.31h9.65v2.04h-9.65zM403.82 120.05h5.03v2.04h-5.03zM454.7 132.26h5.03v2.04h-5.03zM417.7 134h5.03v2.04h-5.03zM399.2 135.75h9.65v2.04h-9.65zM399.2 146.21h9.65v2.04h-9.65zM422.32 147.96h5.03v2.04h-5.03zM399.2 160.16h5.03v2.04h-5.03zM440.82 161.91h5.03v2.04h-5.03zM468.57 167.14h5.03v2.04h-5.03zM445.45 172.37h5.03v2.04h-5.03zM436.2 182.84h5.03v2.04h-5.03zM445.45 182.84h5.03v2.04h-5.03zM454.7 182.84h5.03v2.04h-5.03zM408.45 184.58h5.03v2.04h-5.03zM436.2 184.58h5.03v2.04h-5.03z"/><path fill="#fc9a61" d="M436.2 64.24h5.03v2.04h-5.03zM450.07 69.48h5.03v2.04h-5.03zM445.45 71.22h5.03v2.04h-5.03zM440.82 78.2h5.03v2.04h-5.03zM445.45 79.94h5.03v2.04h-5.03zM445.45 104.36h5.03v2.04h-5.03zM445.45 111.33h5.03v2.04h-5.03zM459.32 125.28h5.03v2.04h-5.03zM454.7 127.03h5.03v2.04h-5.03zM440.82 128.77h5.03v2.04h-5.03zM450.07 135.75h5.03v2.04h-5.03zM436.2 137.49h5.03v2.04h-5.03zM436.2 139.24h5.03v2.04h-5.03z"/><path fill="#fdb875" d="M445.45 64.24h5.03v2.04h-5.03zM463.95 106.1h5.03v2.04h-5.03zM445.45 113.08h5.03v2.04h-5.03zM459.32 130.52h5.03v2.04h-5.03zM450.07 144.47h5.03v2.04h-5.03zM463.95 144.47h5.03v2.04h-5.03zM399.2 151.44h5.03v2.04h-5.03z"/><path fill="#fda96b" d="M450.07 64.24h5.03v2.04h-5.03zM468.57 86.92h5.03v2.04h-5.03zM463.95 90.4h5.03v2.04h-5.03zM454.7 102.61h5.03v2.04h-5.03zM450.07 104.36h5.03v2.04h-5.03zM440.82 125.28h5.03v2.04h-5.03zM459.32 137.49h5.03v2.04h-5.03zM440.82 140.98h5.03v2.04h-5.03zM450.07 142.72h5.03v2.04h-5.03zM417.7 154.93h5.03v2.04h-5.03zM403.82 156.68h5.03v2.04h-5.03zM399.2 181.09h5.03v2.04h-5.03zM403.82 189.81h9.65v2.04h-9.65z"/><path fill="#feefa7" d="M454.7 64.24h5.03v2.04h-5.03zM422.32 79.94h5.03v2.04h-5.03zM459.32 86.92h5.03v2.04h-5.03zM459.32 95.64h5.03v2.04h-5.03zM436.2 99.12h5.03v2.04h-5.03zM440.82 100.87h5.03v2.04h-5.03zM463.95 102.61h5.03v2.04h-5.03zM450.07 107.84h5.03v2.04h-5.03zM403.82 132.26h5.03v2.04h-5.03zM413.07 132.26h5.03v2.04h-5.03zM463.95 134h5.03v2.04h-5.03zM417.7 153.19h5.03v2.04h-5.03zM431.57 156.68h5.03v2.04h-5.03zM426.95 158.42h5.03v2.04h-5.03zM408.45 163.65h5.03v2.04h-5.03zM422.32 165.4h5.03v2.04h-5.03zM403.82 167.14h5.03v2.04h-5.03zM468.57 168.88h5.03v2.04h-5.03zM445.45 177.6h5.03v2.04h-5.03zM454.7 177.6h5.03v2.04h-5.03zM459.32 179.35h5.03v2.04h-5.03zM422.32 182.84h5.03v2.04h-5.03zM422.32 184.58h5.03v2.04h-5.03zM454.7 188.07h5.03v2.04h-5.03zM459.32 191.56h5.03v2.04h-5.03z"/><path fill="#fdbd79" d="M459.32 64.24h5.03v2.04h-5.03zM445.45 69.48h5.03v2.04h-5.03zM468.57 78.2h5.03v2.04h-5.03zM440.82 83.43h5.03v2.04h-5.03zM445.45 88.66h5.03v2.04h-5.03zM468.57 92.15h5.03v2.04h-5.03zM436.2 104.36h5.03v2.04h-5.03zM440.82 113.08h5.03v2.04h-5.03zM459.32 127.03h5.03v2.04h-5.03zM454.7 128.77h5.03v2.04h-5.03zM468.57 128.77h5.03v2.04h-5.03zM459.32 134h5.03v2.04h-5.03zM459.32 135.75h5.03v2.04h-5.03zM450.07 137.49h5.03v2.04h-5.03zM436.2 142.72h5.03v2.04h-5.03zM463.95 142.72h5.03v2.04h-5.03zM445.45 147.96h5.03v2.04h-5.03zM417.7 156.68h5.03v2.04h-5.03zM399.2 167.14h5.03v2.04h-5.03z"/><path fill="#ebf7e3" d="M399.2 65.99h5.03v2.04h-5.03zM417.7 65.99h5.03v2.04h-5.03zM408.45 69.48h5.03v2.04h-5.03zM413.07 93.89h5.03v2.04h-5.03zM413.07 95.64h5.03v2.04h-5.03zM399.2 100.87h5.03v2.04h-5.03zM413.07 100.87h5.03v2.04h-5.03zM422.32 107.84h5.03v2.04h-5.03zM417.7 116.56h5.03v2.04h-5.03zM408.45 118.31h5.03v2.04h-5.03zM459.32 147.96h5.03v2.04h-5.03zM463.95 151.44h5.03v2.04h-5.03zM454.7 156.68h5.03v2.04h-5.03zM445.45 161.91h5.03v2.04h-5.03zM468.57 161.91h5.03v2.04h-5.03zM445.45 170.63h5.03v2.04h-5.03zM450.07 174.12h5.03v2.04h-5.03z"/><path fill="#fff3ac" d="M403.82 65.99h5.03v2.04h-5.03zM426.95 67.73h5.03v2.04h-5.03zM399.2 81.68h5.03v2.04h-5.03zM463.95 83.43h5.03v2.04h-5.03zM417.7 90.4h5.03v2.04h-5.03zM468.57 95.64h5.03v2.04h-5.03zM463.95 100.87h5.03v2.04h-5.03zM399.2 106.1h5.03v2.04h-5.03zM454.7 107.84h5.03v2.04h-5.03zM399.2 113.08h5.03v2.04h-5.03zM431.57 114.82h5.03v2.04h-5.03zM408.45 125.28h5.03v2.04h-5.03zM426.95 125.28h5.03v2.04h-5.03zM408.45 127.03h5.03v2.04h-5.03zM459.32 128.77h5.03v2.04h-5.03zM403.82 130.52h5.03v2.04h-5.03zM431.57 132.26h5.03v2.04h-5.03zM431.57 137.49h5.03v2.04h-5.03zM431.57 140.98h5.03v2.04h-5.03zM431.57 142.72h5.03v2.04h-5.03zM426.95 146.21h5.03v2.04h-5.03zM413.07 147.96h9.65v2.04h-9.65zM454.7 154.93h5.03v2.04h-5.03zM459.32 168.88h5.03v2.04h-5.03zM468.57 170.63h5.03v2.04h-5.03zM436.2 181.09h9.65v2.04h-9.65zM440.82 184.58h5.03v2.04h-5.03zM422.32 186.32h5.03v2.04h-5.03z"/><path fill="#f7fccf" d="M413.07 65.99h5.03v2.04h-5.03zM426.95 69.48h5.03v2.04h-5.03zM431.57 71.22h5.03v2.04h-5.03zM413.07 72.96h5.03v2.04h-5.03zM431.57 72.96h5.03v2.04h-5.03zM426.95 76.45h5.03v2.04h-5.03zM403.82 86.92h5.03v2.04h-5.03zM403.82 92.15h5.03v2.04h-5.03zM399.2 99.12h5.03v2.04h-5.03zM422.32 99.12h9.65v2.04h-9.65zM408.45 104.36h5.03v2.04h-5.03zM408.45 113.08h9.65v2.04h-9.65zM417.7 118.31h5.03v2.04h-5.03zM399.2 120.05h5.03v2.04h-5.03zM426.95 121.8h5.03v2.04h-5.03zM459.32 121.8h5.03v2.04h-5.03zM422.32 123.54h5.03v2.04h-5.03zM408.45 132.26h5.03v2.04h-5.03zM417.7 144.47h5.03v2.04h-5.03zM431.57 147.96h5.03v2.04h-5.03zM468.57 149.7h5.03v2.04h-5.03zM440.82 153.19h5.03v2.04h-5.03zM468.57 154.93h5.03v2.04h-5.03zM422.32 160.16h5.03v2.04h-5.03zM436.2 160.16h5.03v2.04h-5.03zM422.32 161.91h5.03v2.04h-5.03zM454.7 163.65h5.03v2.04h-5.03zM445.45 165.4h5.03v2.04h-5.03zM454.7 167.14h5.03v2.04h-5.03zM422.32 172.37h5.03v2.04h-5.03zM450.07 184.58h5.03v2.04h-5.03zM468.57 184.58h5.03v2.04h-5.03zM445.45 188.07h5.03v2.04h-5.03z"/><path fill="#e7573c" d="M436.2 65.99h5.03v2.04h-5.03zM436.2 71.22h5.03v2.04h-5.03z"/><path fill="#fc905b" d="M445.45 65.99h5.03v2.04h-5.03zM450.07 71.22h5.03v2.04h-5.03zM440.82 74.71h5.03v2.04h-5.03zM454.7 79.94h5.03v2.04h-5.03zM436.2 128.77h5.03v2.04h-5.03zM445.45 130.52h5.03v2.04h-5.03zM468.57 142.72h5.03v2.04h-5.03z"/><path fill="#f2744b" d="M450.07 65.99h5.03v2.04h-5.03zM440.82 118.31h5.03v2.04h-5.03zM463.95 135.75h5.03v2.04h-5.03z"/><path fill="#e4f4f1" d="M408.45 67.73h5.03v2.04h-5.03zM403.82 85.17h5.03v2.04h-5.03zM422.32 90.4h5.03v2.04h-5.03zM445.45 153.19h5.03v2.04h-5.03zM436.2 158.42h5.03v2.04h-5.03zM445.45 158.42h5.03v2.04h-5.03zM459.32 158.42h5.03v2.04h-5.03zM440.82 160.16h5.03v2.04h-5.03zM445.45 163.65h5.03v2.04h-5.03z"/><path fill="#fb8a57" d="M436.2 67.73h5.03v2.04h-5.03zM440.82 76.45h5.03v2.04h-5.03zM436.2 78.2h5.03v2.04h-5.03zM468.57 130.52h5.03v2.04h-5.03zM413.07 179.35h5.03v2.04h-5.03z"/><path fill="#f67f51" d="M445.45 67.73h5.03v2.04h-5.03zM445.45 128.77h5.03v2.04h-5.03z"/><path fill="#feeda4" d="M454.7 67.73h5.03v2.04h-5.03zM459.32 69.48h5.03v2.04h-5.03zM463.95 76.45h5.03v2.04h-5.03zM417.7 79.94h5.03v2.04h-5.03zM426.95 79.94h5.03v2.04h-5.03zM454.7 85.17h5.03v2.04h-5.03zM399.2 86.92h5.03v2.04h-5.03zM440.82 93.89h9.65v2.04h-9.65zM408.45 99.12h5.03v2.04h-5.03zM399.2 109.59h5.03v2.04h-5.03zM463.95 114.82h5.03v2.04h-5.03zM440.82 121.8h5.03v2.04h-5.03zM450.07 121.8h5.03v2.04h-5.03zM468.57 121.8h5.03v2.04h-5.03zM459.32 123.54h5.03v2.04h-5.03zM422.32 125.28h5.03v2.04h-5.03zM463.95 132.26h5.03v2.04h-5.03zM413.07 134h5.03v2.04h-5.03zM445.45 137.49h5.03v2.04h-5.03zM454.7 139.24h5.03v2.04h-5.03zM426.95 144.47h5.03v2.04h-5.03zM399.2 154.93h5.03v2.04h-5.03zM459.32 154.93h5.03v2.04h-5.03zM417.7 163.65h5.03v2.04h-5.03zM431.57 163.65h5.03v2.04h-5.03zM408.45 170.63h5.03v2.04h-5.03zM417.7 172.37h5.03v2.04h-5.03zM403.82 174.12h5.03v2.04h-5.03zM440.82 175.86h5.03v2.04h-5.03zM454.7 179.35h5.03v2.04h-5.03zM426.95 184.58h5.03v2.04h-5.03zM413.07 186.32h5.03v2.04h-5.03zM431.57 186.32h5.03v2.04h-5.03zM436.2 188.07h5.03v2.04h-5.03zM445.45 189.81h5.03v2.04h-5.03zM463.95 189.81h5.03v2.04h-5.03z"/><path fill="#fecc83" d="M463.95 67.73h5.03v2.04h-5.03zM440.82 72.96h9.65v2.04h-9.65zM468.57 79.94h5.03v2.04h-5.03zM468.57 83.43h5.03v2.04h-5.03zM450.07 85.17h5.03v2.04h-5.03zM436.2 93.89h5.03v2.04h-5.03zM468.57 93.89h5.03v2.04h-5.03zM459.32 97.38h5.03v2.04h-5.03zM468.57 100.87h5.03v2.04h-5.03zM450.07 102.61h5.03v2.04h-5.03zM445.45 109.59h5.03v2.04h-5.03zM463.95 127.03h5.03v2.04h-5.03zM440.82 132.26h5.03v2.04h-5.03zM426.95 153.19h9.65v2.04h-9.65zM422.32 156.68h5.03v2.04h-5.03zM408.45 161.91h5.03v2.04h-5.03zM403.82 165.4h5.03v2.04h-5.03zM403.82 170.63h5.03v2.04h-5.03zM431.57 175.86h5.03v2.04h-5.03zM426.95 181.09h5.03v2.04h-5.03zM426.95 182.84h5.03v2.04h-5.03zM403.82 191.56h5.03v2.04h-5.03z"/><path fill="#fdb372" d="M468.57 67.73h5.03v2.04h-5.03zM440.82 69.48h5.03v2.04h-5.03zM459.32 71.22h5.03v2.04h-5.03zM436.2 76.45h5.03v2.04h-5.03zM454.7 78.2h5.03v2.04h-5.03zM454.7 81.68h5.03v2.04h-5.03zM468.57 81.68h5.03v2.04h-5.03zM440.82 104.36h5.03v2.04h-5.03zM468.57 104.36h5.03v2.04h-5.03zM468.57 111.33h5.03v2.04h-5.03zM450.07 130.52h5.03v2.04h-5.03zM436.2 132.26h5.03v2.04h-5.03zM436.2 134h5.03v2.04h-5.03zM440.82 137.49h5.03v2.04h-5.03zM459.32 142.72h5.03v2.04h-5.03zM440.82 144.47h9.65v2.04h-9.65zM440.82 146.21h5.03v2.04h-5.03zM440.82 147.96h5.03v2.04h-5.03zM426.95 151.44h5.03v2.04h-5.03zM422.32 174.12h5.03v2.04h-5.03zM417.7 177.6h5.03v2.04h-5.03zM431.57 177.6h5.03v2.04h-5.03zM426.95 191.56h5.03v2.04h-5.03z"/><path fill="#fda468" d="M436.2 69.48h5.03v2.04h-5.03zM454.7 109.59h5.03v2.04h-5.03zM440.82 111.33h5.03v2.04h-5.03zM450.07 125.28h5.03v2.04h-5.03zM463.95 130.52h5.03v2.04h-5.03zM436.2 135.75h5.03v2.04h-5.03zM454.7 144.47h5.03v2.04h-5.03zM468.57 144.47h5.03v2.04h-5.03zM454.7 146.21h5.03v2.04h-5.03z"/><path fill="#f1fad9" d="M454.7 69.48h5.03v2.04h-5.03zM417.7 76.45h5.03v2.04h-5.03zM413.07 78.2h5.03v2.04h-5.03zM417.7 81.68h5.03v2.04h-5.03zM431.57 83.43h5.03v2.04h-5.03zM422.32 92.15h5.03v2.04h-5.03zM408.45 95.64h5.03v2.04h-5.03zM426.95 95.64h5.03v2.04h-5.03zM403.82 97.38h5.03v2.04h-5.03zM403.82 100.87h5.03v2.04h-5.03zM431.57 116.56h5.03v2.04h-5.03zM417.7 146.21h5.03v2.04h-5.03zM463.95 149.7h5.03v2.04h-5.03zM450.07 151.44h5.03v2.04h-5.03zM459.32 151.44h5.03v2.04h-5.03zM450.07 153.19h5.03v2.04h-5.03zM463.95 153.19h5.03v2.04h-5.03zM463.95 156.68h5.03v2.04h-5.03zM463.95 161.91h5.03v2.04h-5.03zM463.95 163.65h5.03v2.04h-5.03zM459.32 181.09h5.03v2.04h-5.03zM468.57 188.07h5.03v2.04h-5.03z"/><path fill="#e8f6ea" d="M463.95 69.48h5.03v2.04h-5.03zM417.7 86.92h5.03v2.04h-5.03zM408.45 92.15h5.03v2.04h-5.03zM431.57 97.38h5.03v2.04h-5.03zM413.07 104.36h5.03v2.04h-5.03zM422.32 121.8h5.03v2.04h-5.03z"/><path fill="#f3fad5" d="M408.45 71.22h5.03v2.04h-5.03zM417.7 71.22h5.03v2.04h-5.03zM426.95 71.22h5.03v2.04h-5.03zM408.45 74.71h5.03v2.04h-5.03zM408.45 81.68h5.03v2.04h-5.03zM422.32 93.89h5.03v2.04h-5.03zM417.7 99.12h5.03v2.04h-5.03zM408.45 100.87h5.03v2.04h-5.03zM426.95 100.87h5.03v2.04h-5.03zM417.7 102.61h5.03v2.04h-5.03zM431.57 104.36h5.03v2.04h-5.03zM403.82 116.56h14.28v2.04h-14.28zM399.2 121.8h5.03v2.04h-5.03zM450.07 158.42h5.03v2.04h-5.03zM436.2 163.65h5.03v2.04h-5.03zM454.7 165.4h5.03v2.04h-5.03zM463.95 175.86h5.03v2.04h-5.03zM463.95 184.58h5.03v2.04h-5.03zM436.2 186.32h5.03v2.04h-5.03z"/><path fill="#feffc1" d="M413.07 71.22h5.03v2.04h-5.03zM417.7 74.71h5.03v2.04h-5.03zM399.2 88.66h9.65v2.04h-9.65zM417.7 93.89h5.03v2.04h-5.03zM463.95 93.89h5.03v2.04h-5.03zM417.7 95.64h5.03v2.04h-5.03zM413.07 97.38h5.03v2.04h-5.03zM413.07 99.12h5.03v2.04h-5.03zM399.2 102.61h5.03v2.04h-5.03zM422.32 102.61h5.03v2.04h-5.03zM399.2 104.36h5.03v2.04h-5.03zM413.07 107.84h5.03v2.04h-5.03zM408.45 111.33h5.03v2.04h-5.03zM422.32 111.33h5.03v2.04h-5.03zM417.7 113.08h9.65v2.04h-9.65zM468.57 113.08h5.03v2.04h-5.03zM417.7 114.82h5.03v2.04h-5.03zM399.2 116.56h5.03v2.04h-5.03zM459.32 116.56h5.03v2.04h-5.03zM459.32 120.05h5.03v2.04h-5.03zM408.45 123.54h5.03v2.04h-5.03zM431.57 125.28h5.03v2.04h-5.03zM454.7 153.19h5.03v2.04h-5.03zM436.2 161.91h5.03v2.04h-5.03zM454.7 161.91h5.03v2.04h-5.03zM445.45 167.14h5.03v2.04h-5.03zM459.32 167.14h5.03v2.04h-5.03zM463.95 168.88h5.03v2.04h-5.03zM454.7 170.63h5.03v2.04h-5.03zM436.2 172.37h5.03v2.04h-5.03zM468.57 172.37h5.03v2.04h-5.03zM450.07 181.09h5.03v2.04h-5.03zM450.07 191.56h5.03v2.04h-5.03z"/><path fill="#ed6845" d="M440.82 71.22h5.03v2.04h-5.03zM413.07 149.7h5.03v2.04h-5.03z"/><path fill="#fee293" d="M454.7 71.22h5.03v2.04h-5.03zM450.07 72.96h5.03v2.04h-5.03zM468.57 76.45h5.03v2.04h-5.03zM463.95 78.2h5.03v2.04h-5.03zM440.82 97.38h5.03v2.04h-5.03zM450.07 100.87h5.03v2.04h-5.03zM445.45 102.61h5.03v2.04h-5.03zM445.45 114.82h5.03v2.04h-5.03zM436.2 118.31h5.03v2.04h-5.03zM445.45 118.31h5.03v2.04h-5.03zM463.95 118.31h5.03v2.04h-5.03zM436.2 121.8h5.03v2.04h-5.03zM445.45 125.28h5.03v2.04h-5.03zM450.07 127.03h5.03v2.04h-5.03zM445.45 146.21h5.03v2.04h-5.03zM408.45 156.68h5.03v2.04h-5.03zM408.45 165.4h5.03v2.04h-5.03zM403.82 168.88h9.65v2.04h-9.65zM426.95 170.63h5.03v2.04h-5.03zM413.07 177.6h5.03v2.04h-5.03zM417.7 182.84h5.03v2.04h-5.03zM426.95 188.07h5.03v2.04h-5.03zM413.07 191.56h5.03v2.04h-5.03z"/><path fill="#fed186" d="M463.95 71.22h9.65v2.04h-9.65zM436.2 72.96h5.03v2.04h-5.03zM463.95 74.71h5.03v2.04h-5.03zM436.2 81.68h5.03v2.04h-5.03zM463.95 86.92h5.03v2.04h-5.03zM450.07 88.66h5.03v2.04h-5.03zM450.07 92.15h5.03v2.04h-5.03zM459.32 93.89h5.03v2.04h-5.03zM450.07 95.64h5.03v2.04h-5.03zM459.32 99.12h5.03v2.04h-5.03zM468.57 99.12h5.03v2.04h-5.03zM468.57 102.61h5.03v2.04h-5.03zM454.7 116.56h5.03v2.04h-5.03zM440.82 123.54h5.03v2.04h-5.03zM436.2 127.03h5.03v2.04h-5.03zM450.07 132.26h5.03v2.04h-5.03zM445.45 134h5.03v2.04h-5.03zM436.2 140.98h5.03v2.04h-5.03zM440.82 142.72h5.03v2.04h-5.03zM454.7 142.72h5.03v2.04h-5.03zM463.95 146.21h5.03v2.04h-5.03zM468.57 147.96h5.03v2.04h-5.03zM431.57 151.44h5.03v2.04h-5.03zM413.07 156.68h5.03v2.04h-5.03zM426.95 168.88h9.65v2.04h-9.65zM417.7 181.09h5.03v2.04h-5.03zM431.57 181.09h5.03v2.04h-5.03zM422.32 188.07h5.03v2.04h-5.03zM426.95 189.81h5.03v2.04h-5.03z"/><path fill="#cde6f1" d="M422.32 72.96h5.03v2.04h-5.03z"/><path fill="#fed689" d="M459.32 72.96h5.03v2.04h-5.03zM468.57 72.96h5.03v2.04h-5.03zM431.57 79.94h5.03v2.04h-5.03zM440.82 81.68h5.03v2.04h-5.03zM436.2 88.66h5.03v2.04h-5.03zM459.32 102.61h5.03v2.04h-5.03zM463.95 104.36h5.03v2.04h-5.03zM445.45 106.1h5.03v2.04h-5.03zM468.57 107.84h5.03v2.04h-5.03zM450.07 111.33h5.03v2.04h-5.03zM436.2 113.08h5.03v2.04h-5.03zM459.32 113.08h5.03v2.04h-5.03zM440.82 114.82h5.03v2.04h-5.03zM445.45 116.56h5.03v2.04h-5.03zM454.7 123.54h5.03v2.04h-5.03zM399.2 130.52h5.03v2.04h-5.03zM445.45 132.26h5.03v2.04h-5.03zM468.57 132.26h5.03v2.04h-5.03zM445.45 135.75h5.03v2.04h-5.03zM445.45 140.98h5.03v2.04h-5.03zM463.95 147.96h5.03v2.04h-5.03zM422.32 153.19h5.03v2.04h-5.03zM399.2 168.88h5.03v2.04h-5.03zM408.45 179.35h5.03v2.04h-5.03zM413.07 182.84h5.03v2.04h-5.03zM403.82 186.32h5.03v2.04h-5.03zM399.2 191.56h5.03v2.04h-5.03z"/><path fill="#fff8b5" d="M403.82 74.71h5.03v2.04h-5.03zM403.82 78.2h5.03v2.04h-5.03zM417.7 85.17h5.03v2.04h-5.03zM413.07 88.66h5.03v2.04h-5.03zM459.32 92.15h5.03v2.04h-5.03zM413.07 102.61h5.03v2.04h-5.03zM408.45 106.1h5.03v2.04h-5.03zM426.95 106.1h5.03v2.04h-5.03zM403.82 107.84h5.03v2.04h-5.03zM426.95 109.59h5.03v2.04h-5.03zM431.57 113.08h5.03v2.04h-5.03zM463.95 113.08h5.03v2.04h-5.03zM399.2 114.82h5.03v2.04h-5.03zM417.7 120.05h5.03v2.04h-5.03zM431.57 121.8h5.03v2.04h-5.03zM413.07 125.28h9.65v2.04h-9.65zM413.07 128.77h5.03v2.04h-5.03zM422.32 134h5.03v2.04h-5.03zM408.45 135.75h5.03v2.04h-5.03zM408.45 137.49h5.03v2.04h-5.03zM403.82 140.98h5.03v2.04h-5.03zM450.07 161.91h5.03v2.04h-5.03zM436.2 168.88h5.03v2.04h-5.03zM445.45 168.88h5.03v2.04h-5.03zM463.95 170.63h5.03v2.04h-5.03zM459.32 177.6h5.03v2.04h-5.03zM399.2 186.32h5.03v2.04h-5.03z"/><path fill="#f06e48" d="M436.2 74.71h5.03v2.04h-5.03zM454.7 140.98h5.03v2.04h-5.03zM426.95 149.7h5.03v2.04h-5.03z"/><path fill="#fdc77f" d="M459.32 74.71h5.03v2.04h-5.03zM445.45 76.45h5.03v2.04h-5.03zM463.95 81.68h5.03v2.04h-5.03zM450.07 83.43h5.03v2.04h-5.03zM440.82 85.17h5.03v2.04h-5.03zM440.82 86.92h5.03v2.04h-5.03zM440.82 90.4h5.03v2.04h-5.03zM436.2 92.15h5.03v2.04h-5.03zM463.95 92.15h5.03v2.04h-5.03zM445.45 99.12h9.65v2.04h-9.65zM463.95 99.12h5.03v2.04h-5.03zM436.2 100.87h5.03v2.04h-5.03zM436.2 106.1h5.03v2.04h-5.03zM436.2 114.82h5.03v2.04h-5.03zM468.57 114.82h5.03v2.04h-5.03zM436.2 125.28h5.03v2.04h-5.03zM450.07 134h5.03v2.04h-5.03zM450.07 146.21h5.03v2.04h-5.03zM426.95 163.65h5.03v2.04h-5.03zM413.07 167.14h5.03v2.04h-5.03zM431.57 167.14h5.03v2.04h-5.03zM417.7 168.88h5.03v2.04h-5.03zM403.82 184.58h5.03v2.04h-5.03zM399.2 188.07h9.65v2.04h-9.65zM399.2 189.81h5.03v2.04h-5.03zM408.45 191.56h5.03v2.04h-5.03zM417.7 191.56h5.03v2.04h-5.03z"/><path fill="#fee699" d="M468.57 74.71h5.03v2.04h-5.03zM459.32 76.45h5.03v2.04h-5.03zM413.07 79.94h5.03v2.04h-5.03zM436.2 85.17h5.03v2.04h-5.03zM459.32 85.17h5.03v2.04h-5.03zM468.57 85.17h5.03v2.04h-5.03zM436.2 95.64h9.65v2.04h-9.65zM450.07 97.38h5.03v2.04h-5.03zM440.82 99.12h5.03v2.04h-5.03zM445.45 107.84h5.03v2.04h-5.03zM440.82 116.56h5.03v2.04h-5.03zM450.07 116.56h5.03v2.04h-5.03zM454.7 118.31h5.03v2.04h-5.03zM454.7 121.8h5.03v2.04h-5.03zM399.2 128.77h5.03v2.04h-5.03zM426.95 134h5.03v2.04h-5.03zM403.82 153.19h5.03v2.04h-5.03zM399.2 161.91h5.03v2.04h-5.03zM399.2 163.65h5.03v2.04h-5.03zM450.07 165.4h5.03v2.04h-5.03zM408.45 167.14h5.03v2.04h-5.03zM426.95 167.14h5.03v2.04h-5.03zM463.95 167.14h5.03v2.04h-5.03zM413.07 170.63h5.03v2.04h-5.03zM399.2 175.86h5.03v2.04h-5.03zM408.45 175.86h5.03v2.04h-5.03zM422.32 181.09h5.03v2.04h-5.03zM436.2 189.81h5.03v2.04h-5.03z"/><path fill="#fff5af" d="M403.82 76.45h5.03v2.04h-5.03zM413.07 81.68h5.03v2.04h-5.03zM463.95 85.17h5.03v2.04h-5.03zM413.07 86.92h5.03v2.04h-5.03zM431.57 88.66h5.03v2.04h-5.03zM403.82 95.64h5.03v2.04h-5.03zM399.2 97.38h5.03v2.04h-5.03zM445.45 100.87h5.03v2.04h-5.03zM459.32 109.59h5.03v2.04h-5.03zM403.82 111.33h5.03v2.04h-5.03zM431.57 127.03h5.03v2.04h-5.03zM408.45 128.77h5.03v2.04h-5.03zM431.57 134h5.03v2.04h-5.03zM417.7 135.75h5.03v2.04h-5.03zM399.2 137.49h5.03v2.04h-5.03zM422.32 139.24h5.03v2.04h-5.03zM426.95 142.72h5.03v2.04h-5.03zM422.32 144.47h5.03v2.04h-5.03zM408.45 154.93h5.03v2.04h-5.03zM436.2 154.93h5.03v2.04h-5.03zM450.07 154.93h5.03v2.04h-5.03zM450.07 168.88h5.03v2.04h-5.03zM445.45 184.58h5.03v2.04h-5.03zM450.07 186.32h9.65v2.04h-9.65z"/><path fill="#feeba1" d="M422.32 76.45h5.03v2.04h-5.03zM399.2 79.94h5.03v2.04h-5.03zM408.45 79.94h5.03v2.04h-5.03zM454.7 83.43h5.03v2.04h-5.03zM445.45 85.17h5.03v2.04h-5.03zM450.07 86.92h5.03v2.04h-5.03zM440.82 106.1h5.03v2.04h-5.03zM440.82 107.84h5.03v2.04h-5.03zM403.82 109.59h5.03v2.04h-5.03zM463.95 109.59h5.03v2.04h-5.03zM459.32 118.31h5.03v2.04h-5.03zM454.7 120.05h5.03v2.04h-5.03zM445.45 121.8h5.03v2.04h-5.03zM403.82 125.28h5.03v2.04h-5.03zM422.32 130.52h5.03v2.04h-5.03zM431.57 130.52h5.03v2.04h-5.03zM454.7 130.52h5.03v2.04h-5.03zM417.7 158.42h5.03v2.04h-5.03zM417.7 160.16h5.03v2.04h-5.03zM426.95 160.16h5.03v2.04h-5.03zM431.57 170.63h5.03v2.04h-5.03zM413.07 174.12h5.03v2.04h-5.03zM422.32 175.86h5.03v2.04h-5.03zM403.82 181.09h5.03v2.04h-5.03zM413.07 181.09h5.03v2.04h-5.03zM399.2 182.84h5.03v2.04h-5.03zM408.45 182.84h5.03v2.04h-5.03zM422.32 191.56h5.03v2.04h-5.03z"/><path fill="#fffcbb" d="M454.7 76.45h5.03v2.04h-5.03zM399.2 78.2h5.03v2.04h-5.03zM408.45 78.2h5.03v2.04h-5.03zM431.57 86.92h5.03v2.04h-5.03zM413.07 90.4h5.03v2.04h-5.03zM417.7 104.36h5.03v2.04h-5.03zM426.95 104.36h5.03v2.04h-5.03zM413.07 106.1h5.03v2.04h-5.03zM422.32 106.1h5.03v2.04h-5.03zM426.95 107.84h5.03v2.04h-5.03zM408.45 109.59h5.03v2.04h-5.03zM422.32 109.59h5.03v2.04h-5.03zM431.57 109.59h5.03v2.04h-5.03zM431.57 111.33h5.03v2.04h-5.03zM403.82 114.82h5.03v2.04h-5.03zM422.32 120.05h5.03v2.04h-5.03zM399.2 123.54h5.03v2.04h-5.03zM426.95 123.54h5.03v2.04h-5.03zM454.7 125.28h5.03v2.04h-5.03zM413.07 130.52h5.03v2.04h-5.03zM399.2 132.26h5.03v2.04h-5.03zM403.82 137.49h5.03v2.04h-5.03zM413.07 137.49h9.65v2.04h-9.65zM399.2 140.98h5.03v2.04h-5.03zM422.32 142.72h5.03v2.04h-5.03zM408.45 144.47h5.03v2.04h-5.03zM468.57 153.19h5.03v2.04h-5.03zM445.45 154.93h5.03v2.04h-5.03zM408.45 160.16h5.03v2.04h-5.03zM436.2 165.4h5.03v2.04h-5.03zM436.2 167.14h5.03v2.04h-5.03zM454.7 168.88h5.03v2.04h-5.03zM436.2 170.63h5.03v2.04h-5.03zM450.07 175.86h5.03v2.04h-5.03zM459.32 175.86h5.03v2.04h-5.03zM445.45 179.35h5.03v2.04h-5.03zM463.95 181.09h5.03v2.04h-5.03zM431.57 182.84h5.03v2.04h-5.03zM445.45 186.32h5.03v2.04h-5.03zM450.07 188.07h5.03v2.04h-5.03zM459.32 189.81h5.03v2.04h-5.03z"/><path fill="#fdae6f" d="M445.45 78.2h5.03v2.04h-5.03zM459.32 90.4h5.03v2.04h-5.03zM445.45 92.15h5.03v2.04h-5.03zM450.07 93.89h5.03v2.04h-5.03zM454.7 111.33h5.03v2.04h-5.03zM450.07 118.31h5.03v2.04h-5.03zM463.95 128.77h5.03v2.04h-5.03zM440.82 134h5.03v2.04h-5.03zM454.7 137.49h5.03v2.04h-5.03zM468.57 137.49h5.03v2.04h-5.03zM440.82 139.24h9.65v2.04h-9.65zM463.95 139.24h5.03v2.04h-5.03zM450.07 140.98h5.03v2.04h-5.03zM459.32 144.47h5.03v2.04h-5.03zM436.2 146.21h5.03v2.04h-5.03zM413.07 151.44h5.03v2.04h-5.03zM413.07 154.93h5.03v2.04h-5.03zM426.95 161.91h5.03v2.04h-5.03zM399.2 174.12h5.03v2.04h-5.03zM417.7 179.35h5.03v2.04h-5.03zM431.57 189.81h5.03v2.04h-5.03z"/><path fill="#fee090" d="M403.82 79.94h5.03v2.04h-5.03zM436.2 83.43h5.03v2.04h-5.03zM440.82 88.66h5.03v2.04h-5.03zM459.32 88.66h9.65v2.04h-9.65zM436.2 90.4h5.03v2.04h-5.03zM454.7 95.64h5.03v2.04h-5.03zM463.95 95.64h5.03v2.04h-5.03zM440.82 109.59h5.03v2.04h-5.03zM450.07 109.59h5.03v2.04h-5.03zM454.7 113.08h5.03v2.04h-5.03zM450.07 114.82h5.03v2.04h-5.03zM436.2 116.56h5.03v2.04h-5.03zM403.82 134h5.03v2.04h-5.03zM468.57 134h5.03v2.04h-5.03zM468.57 146.21h5.03v2.04h-5.03zM422.32 151.44h5.03v2.04h-5.03zM403.82 163.65h5.03v2.04h-5.03zM413.07 165.4h5.03v2.04h-5.03zM403.82 172.37h5.03v2.04h-5.03zM417.7 175.86h5.03v2.04h-5.03zM399.2 177.6h9.65v2.04h-9.65zM422.32 179.35h5.03v2.04h-5.03zM417.7 188.07h5.03v2.04h-5.03z"/><path fill="#e95d3f" d="M436.2 79.94h5.03v2.04h-5.03z"/><path fill="#f98554" d="M440.82 79.94h5.03v2.04h-5.03zM436.2 109.59h5.03v2.04h-5.03zM450.07 128.77h5.03v2.04h-5.03z"/><path fill="#e24c36" d="M450.07 79.94h5.03v2.04h-5.03z"/><path fill="#fc9f65" d="M445.45 81.68h5.03v2.04h-5.03zM450.07 106.1h9.65v2.04h-9.65zM450.07 113.08h5.03v2.04h-5.03zM450.07 139.24h5.03v2.04h-5.03zM468.57 140.98h5.03v2.04h-5.03zM436.2 147.96h5.03v2.04h-5.03zM417.7 151.44h5.03v2.04h-5.03zM426.95 156.68h5.03v2.04h-5.03zM426.95 179.35h9.65v2.04h-9.65zM413.07 189.81h5.03v2.04h-5.03z"/><path fill="#e0f3f8" d="M408.45 83.43h5.03v2.04h-5.03zM417.7 121.8h5.03v2.04h-5.03zM436.2 151.44h5.03v2.04h-5.03zM468.57 151.44h5.03v2.04h-5.03zM463.95 158.42h5.03v2.04h-5.03z"/><path fill="#fee99e" d="M445.45 83.43h5.03v2.04h-5.03zM454.7 86.92h5.03v2.04h-5.03zM468.57 88.66h5.03v2.04h-5.03zM454.7 92.15h5.03v2.04h-5.03zM436.2 107.84h5.03v2.04h-5.03zM468.57 116.56h5.03v2.04h-5.03zM445.45 120.05h5.03v2.04h-5.03zM463.95 121.8h5.03v2.04h-5.03zM463.95 123.54h5.03v2.04h-5.03zM399.2 125.28h5.03v2.04h-5.03zM417.7 140.98h5.03v2.04h-5.03zM413.07 142.72h5.03v2.04h-5.03zM422.32 146.21h5.03v2.04h-5.03zM413.07 153.19h5.03v2.04h-5.03zM426.95 154.93h5.03v2.04h-5.03zM403.82 160.16h5.03v2.04h-5.03zM413.07 163.65h5.03v2.04h-5.03zM440.82 163.65h5.03v2.04h-5.03zM468.57 165.4h5.03v2.04h-5.03zM399.2 170.63h5.03v2.04h-5.03zM408.45 172.37h5.03v2.04h-5.03zM431.57 174.12h5.03v2.04h-5.03zM463.95 177.6h9.65v2.04h-9.65zM403.82 182.84h5.03v2.04h-5.03zM431.57 184.58h5.03v2.04h-5.03zM408.45 186.32h5.03v2.04h-5.03zM431.57 188.07h5.03v2.04h-5.03zM440.82 188.07h5.03v2.04h-5.03z"/><path fill="#c3e0ed" d="M408.45 85.17h5.03v2.04h-5.03zM440.82 151.44h5.03v2.04h-5.03z"/><path fill="#e6f5ee" d="M408.45 86.92h5.03v2.04h-5.03zM399.2 93.89h5.03v2.04h-5.03zM417.7 107.84h5.03v2.04h-5.03zM454.7 149.7h5.03v2.04h-5.03z"/><path fill="#e2f4f5" d="M408.45 97.38h5.03v2.04h-5.03zM445.45 151.44h5.03v2.04h-5.03zM468.57 163.65h5.03v2.04h-5.03z"/><path fill="#fff1aa" d="M422.32 97.38h5.03v2.04h-5.03zM454.7 104.36h5.03v2.04h-5.03zM417.7 109.59h5.03v2.04h-5.03zM413.07 111.33h5.03v2.04h-5.03zM459.32 114.82h5.03v2.04h-5.03zM463.95 120.05h5.03v2.04h-5.03zM422.32 127.03h5.03v2.04h-5.03zM431.57 128.77h5.03v2.04h-5.03zM417.7 130.52h5.03v2.04h-5.03zM426.95 130.52h5.03v2.04h-5.03zM417.7 132.26h5.03v2.04h-5.03zM399.2 134h5.03v2.04h-5.03zM468.57 135.75h5.03v2.04h-5.03zM399.2 139.24h5.03v2.04h-5.03zM413.07 139.24h5.03v2.04h-5.03zM426.95 139.24h5.03v2.04h-5.03zM468.57 139.24h5.03v2.04h-5.03zM403.82 142.72h5.03v2.04h-5.03zM422.32 154.93h5.03v2.04h-5.03zM431.57 158.42h5.03v2.04h-5.03zM403.82 161.91h5.03v2.04h-5.03zM459.32 165.4h5.03v2.04h-5.03zM440.82 168.88h5.03v2.04h-5.03zM417.7 170.63h5.03v2.04h-5.03zM440.82 177.6h5.03v2.04h-5.03zM408.45 181.09h5.03v2.04h-5.03zM440.82 182.84h5.03v2.04h-5.03zM450.07 182.84h5.03v2.04h-5.03zM417.7 186.32h5.03v2.04h-5.03zM408.45 188.07h5.03v2.04h-5.03z"/><path fill="#f4794e" d="M454.7 135.75h5.03v2.04h-5.03zM445.45 142.72h5.03v2.04h-5.03zM408.45 149.7h5.03v2.04h-5.03zM399.2 179.35h9.65v2.04h-9.65z"/><path fill="#e45239" d="M459.32 139.24h5.03v2.04h-5.03zM399.2 149.7h5.03v2.04h-5.03z"/><path fill="#d73027" d="M403.82 149.7h5.03v2.04h-5.03z"/><path fill="#d9362a" d="M417.7 149.7h5.03v2.04h-5.03z"/><path fill="#badaea" d="M436.2 149.7h5.03v2.04h-5.03z"/><path fill="#5787bd" d="M440.82 149.7h5.03v2.04h-5.03z"/><path fill="#4e7eb9" d="M445.45 149.7h5.03v2.04h-5.03z"/><path fill="#d6edf4" d="M450.07 149.7h5.03v2.04h-5.03zM459.32 153.19h5.03v2.04h-5.03zM445.45 160.16h5.03v2.04h-5.03z"/><path fill="#c8e3ef" d="M450.07 160.16h5.03v2.04h-5.03zM463.95 160.16h5.03v2.04h-5.03z"/></g>
<path fill="none" stroke="#6a6a6a" stroke-width="0.7" d="M399 65.12H398.1V66.86H399M399 63.37H394.92V65.99H398.1M399 68.6H398.39V70.35H399M394.92 64.68H394.17V69.48H398.39M394.17 67.08H391.5V72.09H399M399 77.32H397.91V79.07H399M399 75.58H395.74V78.2H397.91M399 73.84H393.13V76.89H395.74M399 86.04H397.44V87.79H399M399 84.3H394.82V86.92H397.44M399 82.56H394.41V85.61H394.82M399 80.81H393.1V84.08H394.41M393.13 75.36H390.5V82.45H393.1M399 91.28H397.37V93.02H399M399 89.53H395.54V92.15H397.37M395.54 90.84H394.57V94.76H399M399 98.25H398.04V100H399M399 96.51H396.25V99.12H398.04M399 101.74H398.57V103.48H399M398.57 102.61H396.6V105.23H399M396.6 103.92H396V106.97H399M396.25 97.82H395.09V105.45H396M394.57 92.8H393.09V101.63H395.09M399 110.46H398.88V112.2H399M398.88 111.33H398.09V113.95H399M398.09 112.64H397.95V115.69H399M399 117.44H398.73V119.18H399M398.73 118.31H397.72V120.92H399M397.95 114.17H397.46V119.62H397.72M399 124.41H398.72V126.16H399M399 127.9H398.67V129.64H399M398.72 125.28H397.06V128.77H398.67M399 122.67H396.69V127.03H397.06M397.46 116.89H396.24V124.85H396.69M399 131.39H398.26V133.13H399M398.26 132.26H396.26V134.88H399M396.24 120.87H394.95V133.57H396.26M399 108.72H394.49V127.22H394.95M399 136.62H398.62V138.36H399M398.62 137.49H395.64V140.11H399M399 143.6H398.57V145.34H399M398.57 144.47H397.41V147.08H399M399 141.85H396.95V145.78H397.41M396.95 143.81H395.63V148.83H399M395.64 138.8H394.82V146.32H395.63M394.49 117.97H393.43V142.56H394.82M393.09 97.22H390V130.26H393.43M390.5 78.9H388.5V113.74H390M391.5 69.59H387V96.32H388.5M399 152.32H396.47V154.06H399M399 157.55H398.3V159.29H399M399 155.8H394.77V158.42H398.3M399 161.04H398.36V162.78H399M399 164.52H398.7V166.27H399M398.7 165.4H397.73V168.01H399M397.73 166.7H397.45V169.76H399M397.45 168.23H397.29V171.5H399M397.29 169.87H397.02V173.24H399M398.36 161.91H395.71V171.55H397.02M394.77 157.11H394.37V166.73H395.71M399 176.73H398.45V178.48H399M398.45 177.6H397.12V180.22H399M399 174.99H396.11V178.91H397.12M399 183.71H398.6V185.45H399M398.6 184.58H397.26V187.2H399M399 181.96H396.46V185.89H397.26M396.11 176.95H395.68V183.93H396.46M394.37 161.92H393.62V180.44H395.68M396.47 153.19H392.65V171.18H393.62M399 188.94H396.62V190.68H399M396.62 189.81H391.67V192.43H399M392.65 162.18H390V191.12H391.67M399 150.57H388.5V176.65H390M387 82.95H378.9V163.61H388.5"/>
<rect x="476.8" y="82.1" width="3.4" height="55.9" fill="url(#gA)"/>
<g font-size="6.6" fill="#333">
<text x="481" y="96.4">2</text><text x="481" y="110.4">0</text><text x="481" y="124.4">-2</text><text x="481" y="138.7">-4</text>
<text x="491" y="86.1">cell</text><text x="500.7" y="91.8">MAT</text>
<text x="491" y="104.7">CND</text><text x="500.7" y="111.4">HA</text><text x="500.7" y="117.2">MM</text>
</g>
<rect x="491" y="87" width="5.7" height="4.8" fill="#e0877e"/>
<rect x="491" y="106.9" width="5.7" height="4.4" fill="#8ab4e8"/>
<rect x="491" y="112.4" width="5.7" height="4.8" fill="#2f9e44"/>
<text x="7.8" y="220" font-size="12.6" font-weight="bold" fill="#000">C</text>
<path fill="#f8d97c" d="M87.13 257.95 A64.3 64.3 0 0 1 123.59 269.37 L120.17 274.31 A58.3 58.3 0 0 0 87.12 263.95 Z"/>
<path fill="#a9c1e8" d="M123.81 269.53 A64.3 64.3 0 0 1 135.66 280.22 L131.12 284.14 A58.3 58.3 0 0 0 120.37 274.45 Z"/>
<path fill="#d6cdbd" d="M135.84 280.42 A64.3 64.3 0 0 1 146.82 298.66 L141.24 300.86 A58.3 58.3 0 0 0 131.28 284.33 Z"/>
<path fill="#f9b9a2" d="M146.92 298.91 A64.3 64.3 0 0 1 150.95 328.95 L144.98 328.32 A58.3 58.3 0 0 0 141.32 301.09 Z"/>
<path fill="#d2e8c9" d="M150.92 329.22 A64.3 64.3 0 0 1 146.28 347.15 L140.75 344.82 A58.3 58.3 0 0 0 144.96 328.57 Z"/>
<path fill="#babacd" d="M146.18 347.39 A64.3 64.3 0 0 1 121.85 376.29 L118.6 371.24 A58.3 58.3 0 0 0 140.66 345.05 Z"/>
<path fill="#cbc394" d="M121.62 376.43 A64.3 64.3 0 0 1 99.07 385.41 L97.94 379.51 A58.3 58.3 0 0 0 118.39 371.38 Z"/>
<path fill="#a8e2f6" d="M98.81 385.46 A64.3 64.3 0 0 1 87.13 386.55 L87.12 380.55 A58.3 58.3 0 0 0 97.7 379.56 Z"/>
<g fill-opacity="0.95" stroke="#2a2510" stroke-opacity="0.55" stroke-width="0.25"><path fill="#5b5a80" d="M125.48 366.05 A58.3 58.3 0 0 1 123.81 367.46 Q87 322.25 71.81 378.54 A58.3 58.3 0 0 1 69.91 377.99 Q87 322.25 125.48 366.05 Z"/><path fill="#a2957a" d="M138.56 295.03 A58.3 58.3 0 0 1 139.54 296.98 Q87 322.25 69.72 377.93 A58.3 58.3 0 0 1 67.84 377.31 Q87 322.25 138.56 295.03 Z"/><path fill="#5b5a80" d="M137.82 350.83 A58.3 58.3 0 0 1 136.71 352.71 Q87 322.25 40.03 356.79 A58.3 58.3 0 0 1 38.89 355.18 Q87 322.25 137.82 350.83 Z"/><path fill="#5b5a80" d="M134.29 356.35 A58.3 58.3 0 0 1 132.97 358.1 Q87 322.25 48.89 366.37 A58.3 58.3 0 0 1 47.42 365.06 Q87 322.25 134.29 356.35 Z"/><path fill="#a2957a" d="M132.59 285.91 A58.3 58.3 0 0 1 133.92 287.64 Q87 322.25 41.36 358.52 A58.3 58.3 0 0 1 40.15 356.95 Q87 322.25 132.59 285.91 Z"/><path fill="#5b5a80" d="M135.53 354.56 A58.3 58.3 0 0 1 134.29 356.35 Q87 322.25 44.19 361.83 A58.3 58.3 0 0 1 42.88 360.36 Q87 322.25 135.53 354.56 Z"/><path fill="#a2957a" d="M131.2 284.23 A58.3 58.3 0 0 1 132.59 285.91 Q87 322.25 36.46 351.31 A58.3 58.3 0 0 1 35.5 349.58 Q87 322.25 131.2 284.23 Z"/><path fill="#a2957a" d="M136.38 291.25 A58.3 58.3 0 0 1 137.5 293.12 Q87 322.25 57.76 372.69 A58.3 58.3 0 0 1 56.07 371.67 Q87 322.25 136.38 291.25 Z"/><path fill="#5b5a80" d="M123.81 367.46 A58.3 58.3 0 0 1 122.09 368.81 Q87 322.25 76.06 379.51 A58.3 58.3 0 0 1 74.13 379.11 Q87 322.25 123.81 367.46 Z"/><path fill="#5b5a80" d="M120.31 370.09 A58.3 58.3 0 0 1 118.5 371.31 Q87 322.25 84.72 380.51 A58.3 58.3 0 0 1 82.74 380.39 Q87 322.25 120.31 370.09 Z"/><path fill="#5b5a80" d="M130.15 361.45 A58.3 58.3 0 0 1 128.65 363.04 Q87 322.25 59.67 373.75 A58.3 58.3 0 0 1 57.94 372.79 Q87 322.25 130.15 361.45 Z"/><path fill="#a2957a" d="M133.92 287.64 A58.3 58.3 0 0 1 135.18 289.42 Q87 322.25 47.27 364.92 A58.3 58.3 0 0 1 45.85 363.55 Q87 322.25 133.92 287.64 Z"/><path fill="#5b5a80" d="M140.71 344.94 A58.3 58.3 0 0 1 139.82 346.93 Q87 322.25 31.94 341.41 A58.3 58.3 0 0 1 31.32 339.53 Q87 322.25 140.71 344.94 Z"/><path fill="#5b5a80" d="M136.71 352.71 A58.3 58.3 0 0 1 135.53 354.56 Q87 322.25 42.74 360.2 A58.3 58.3 0 0 1 41.48 358.68 Q87 322.25 136.71 352.71 Z"/><path fill="#a2957a" d="M139.54 296.98 A58.3 58.3 0 0 1 140.45 298.96 Q87 322.25 78.21 379.88 A58.3 58.3 0 0 1 76.26 379.55 Q87 322.25 139.54 296.98 Z"/><path fill="#5b5a80" d="M132.97 358.1 A58.3 58.3 0 0 1 131.59 359.8 Q87 322.25 54.07 370.36 A58.3 58.3 0 0 1 52.46 369.22 Q87 322.25 132.97 358.1 Z"/><path fill="#5b5a80" d="M122.09 368.81 A58.3 58.3 0 0 1 120.31 370.09 Q87 322.25 82.54 380.38 A58.3 58.3 0 0 1 80.57 380.19 Q87 322.25 122.09 368.81 Z"/><path fill="#5b5a80" d="M127.09 364.57 A58.3 58.3 0 0 1 125.48 366.05 Q87 322.25 67.65 377.24 A58.3 58.3 0 0 1 65.8 376.56 Q87 322.25 127.09 364.57 Z"/><path fill="#a2957a" d="M135.18 289.42 A58.3 58.3 0 0 1 136.38 291.25 Q87 322.25 50.57 367.77 A58.3 58.3 0 0 1 49.05 366.51 Q87 322.25 135.18 289.42 Z"/><path fill="#a2957a" d="M140.45 298.96 A58.3 58.3 0 0 1 141.28 300.98 Q87 322.25 86.9 380.55 A58.3 58.3 0 0 1 84.92 380.51 Q87 322.25 140.45 298.96 Z"/><path fill="#5b5a80" d="M131.59 359.8 A58.3 58.3 0 0 1 130.15 361.45 Q87 322.25 55.9 371.56 A58.3 58.3 0 0 1 54.24 370.48 Q87 322.25 131.59 359.8 Z"/><path fill="#5b5a80" d="M128.65 363.04 A58.3 58.3 0 0 1 127.09 364.57 Q87 322.25 63.59 375.64 A58.3 58.3 0 0 1 61.8 374.82 Q87 322.25 128.65 363.04 Z"/><path fill="#a2957a" d="M137.5 293.12 A58.3 58.3 0 0 1 138.56 295.03 Q87 322.25 61.61 374.73 A58.3 58.3 0 0 1 59.85 373.84 Q87 322.25 137.5 293.12 Z"/><path fill="#5b5a80" d="M138.85 348.9 A58.3 58.3 0 0 1 137.82 350.83 Q87 322.25 35.41 349.4 A58.3 58.3 0 0 1 34.52 347.64 Q87 322.25 138.85 348.9 Z"/><path fill="#5b5a80" d="M139.82 346.93 A58.3 58.3 0 0 1 138.85 348.9 Q87 322.25 33.52 345.47 A58.3 58.3 0 0 1 32.77 343.64 Q87 322.25 139.82 346.93 Z"/><path fill="#9cbc8c" d="M142.87 338.91 A58.3 58.3 0 0 1 142.22 340.94 Q87 322.25 31.26 339.34 A58.3 58.3 0 0 1 30.71 337.44 Q87 322.25 142.87 338.91 Z"/><path fill="#5a7fc2" d="M129.8 282.66 A58.3 58.3 0 0 1 131.2 284.23 Q87 322.25 80.37 380.17 A58.3 58.3 0 0 1 78.41 379.91 Q87 322.25 129.8 282.66 Z"/><path fill="#5a7fc2" d="M128.34 281.14 A58.3 58.3 0 0 1 129.8 282.66 Q87 322.25 73.93 379.07 A58.3 58.3 0 0 1 72.01 378.59 Q87 322.25 128.34 281.14 Z"/><path fill="#9cbc8c" d="M144.7 330.57 A58.3 58.3 0 0 1 144.36 332.67 Q87 322.25 31.32 304.97 A58.3 58.3 0 0 1 31.94 303.09 Q87 322.25 144.7 330.57 Z"/><path fill="#9cbc8c" d="M141.5 342.95 A58.3 58.3 0 0 1 140.71 344.94 Q87 322.25 37.58 353.18 A58.3 58.3 0 0 1 36.56 351.49 Q87 322.25 141.5 342.95 Z"/><path fill="#9cbc8c" d="M144.97 328.45 A58.3 58.3 0 0 1 144.7 330.57 Q87 322.25 37.69 291.15 A58.3 58.3 0 0 1 38.77 289.49 Q87 322.25 144.97 328.45 Z"/><path fill="#5a7fc2" d="M121.98 275.61 A58.3 58.3 0 0 1 123.64 276.91 Q87 322.25 38.77 355.01 A58.3 58.3 0 0 1 37.69 353.35 Q87 322.25 121.98 275.61 Z"/><path fill="#9cbc8c" d="M142.22 340.94 A58.3 58.3 0 0 1 141.5 342.95 Q87 322.25 32.69 343.45 A58.3 58.3 0 0 1 32.01 341.6 Q87 322.25 142.22 340.94 Z"/><path fill="#5a7fc2" d="M120.27 274.38 A58.3 58.3 0 0 1 121.98 275.61 Q87 322.25 34.43 347.45 A58.3 58.3 0 0 1 33.61 345.66 Q87 322.25 120.27 274.38 Z"/><path fill="#5a7fc2" d="M125.26 278.26 A58.3 58.3 0 0 1 126.82 279.67 Q87 322.25 52.3 369.1 A58.3 58.3 0 0 1 50.73 367.89 Q87 322.25 125.26 278.26 Z"/><path fill="#9cbc8c" d="M144.36 332.67 A58.3 58.3 0 0 1 143.94 334.77 Q87 322.25 29.37 313.46 A58.3 58.3 0 0 1 29.7 311.51 Q87 322.25 144.36 332.67 Z"/><path fill="#5a7fc2" d="M126.82 279.67 A58.3 58.3 0 0 1 128.34 281.14 Q87 322.25 65.61 376.48 A58.3 58.3 0 0 1 63.78 375.73 Q87 322.25 126.82 279.67 Z"/><path fill="#9cbc8c" d="M143.44 336.85 A58.3 58.3 0 0 1 142.87 338.91 Q87 322.25 29.7 332.99 A58.3 58.3 0 0 1 29.37 331.04 Q87 322.25 143.44 336.85 Z"/><path fill="#5a7fc2" d="M123.64 276.91 A58.3 58.3 0 0 1 125.26 278.26 Q87 322.25 45.7 363.4 A58.3 58.3 0 0 1 44.33 361.98 Q87 322.25 123.64 276.91 Z"/><path fill="#9cbc8c" d="M143.94 334.77 A58.3 58.3 0 0 1 143.44 336.85 Q87 322.25 28.7 322.15 A58.3 58.3 0 0 1 28.74 320.17 Q87 322.25 143.94 334.77 Z"/><path fill="#e6c818" d="M100.16 265.46 A58.3 58.3 0 0 1 102.31 266 Q87 322.25 69.91 266.51 A58.3 58.3 0 0 1 71.81 265.96 Q87 322.25 100.16 265.46 Z"/><path fill="#e6c818" d="M108.6 268.1 A58.3 58.3 0 0 1 110.64 268.96 Q87 322.25 50.73 276.61 A58.3 58.3 0 0 1 52.3 275.4 Q87 322.25 108.6 268.1 Z"/><path fill="#e6c818" d="M112.65 269.89 A58.3 58.3 0 0 1 114.62 270.91 Q87 322.25 35.5 294.92 A58.3 58.3 0 0 1 36.46 293.19 Q87 322.25 112.65 269.89 Z"/><path fill="#dc6438" d="M145.16 326.3 A58.3 58.3 0 0 1 144.97 328.45 Q87 322.25 30.14 335.12 A58.3 58.3 0 0 1 29.74 333.19 Q87 322.25 145.16 326.3 Z"/><path fill="#dc6438" d="M143.82 309.2 A58.3 58.3 0 0 1 144.26 311.3 Q87 322.25 42.88 284.14 A58.3 58.3 0 0 1 44.19 282.67 Q87 322.25 143.82 309.2 Z"/><path fill="#e6c818" d="M116.55 271.99 A58.3 58.3 0 0 1 118.43 273.15 Q87 322.25 29.08 315.62 A58.3 58.3 0 0 1 29.34 313.66 Q87 322.25 116.55 271.99 Z"/><path fill="#e6c818" d="M98 265 A58.3 58.3 0 0 1 100.16 265.46 Q87 322.25 72.01 265.91 A58.3 58.3 0 0 1 73.93 265.43 Q87 322.25 98 265 Z"/><path fill="#e6c818" d="M110.64 268.96 A58.3 58.3 0 0 1 112.65 269.89 Q87 322.25 45.85 280.95 A58.3 58.3 0 0 1 47.27 279.58 Q87 322.25 110.64 268.96 Z"/><path fill="#dc6438" d="M144.63 313.42 A58.3 58.3 0 0 1 144.91 315.56 Q87 322.25 34.52 296.86 A58.3 58.3 0 0 1 35.41 295.1 Q87 322.25 144.63 313.42 Z"/><path fill="#dc6438" d="M145.12 317.7 A58.3 58.3 0 0 1 145.25 319.85 Q87 322.25 30.18 309.18 A58.3 58.3 0 0 1 30.66 307.26 Q87 322.25 145.12 317.7 Z"/><path fill="#e6c818" d="M93.63 264.33 A58.3 58.3 0 0 1 95.82 264.62 Q87 322.25 76.26 264.95 A58.3 58.3 0 0 1 78.21 264.62 Q87 322.25 93.63 264.33 Z"/><path fill="#dc6438" d="M141.28 300.98 A58.3 58.3 0 0 1 142.03 303 Q87 322.25 59.85 270.66 A58.3 58.3 0 0 1 61.61 269.77 Q87 322.25 141.28 300.98 Z"/><path fill="#e6c818" d="M95.82 264.62 A58.3 58.3 0 0 1 98 265 Q87 322.25 74.13 265.39 A58.3 58.3 0 0 1 76.06 264.99 Q87 322.25 95.82 264.62 Z"/><path fill="#dc6438" d="M145.27 324.15 A58.3 58.3 0 0 1 145.16 326.3 Q87 322.25 29.06 328.68 A58.3 58.3 0 0 1 28.87 326.71 Q87 322.25 145.27 324.15 Z"/><path fill="#dc6438" d="M143.3 307.11 A58.3 58.3 0 0 1 143.82 309.2 Q87 322.25 47.42 279.44 A58.3 58.3 0 0 1 48.89 278.13 Q87 322.25 143.3 307.11 Z"/><path fill="#dc6438" d="M142.7 305.04 A58.3 58.3 0 0 1 143.3 307.11 Q87 322.25 49.05 277.99 A58.3 58.3 0 0 1 50.57 276.73 Q87 322.25 142.7 305.04 Z"/><path fill="#e6c818" d="M104.43 266.62 A58.3 58.3 0 0 1 106.53 267.32 Q87 322.25 63.78 268.77 A58.3 58.3 0 0 1 65.61 268.02 Q87 322.25 104.43 266.62 Z"/><path fill="#e6c818" d="M91.42 264.12 A58.3 58.3 0 0 1 93.63 264.33 Q87 322.25 80.57 264.31 A58.3 58.3 0 0 1 82.54 264.12 Q87 322.25 91.42 264.12 Z"/><path fill="#e6c818" d="M118.43 273.15 A58.3 58.3 0 0 1 120.27 274.38 Q87 322.25 29.34 330.84 A58.3 58.3 0 0 1 29.08 328.88 Q87 322.25 118.43 273.15 Z"/><path fill="#dc6438" d="M144.91 315.56 A58.3 58.3 0 0 1 145.12 317.7 Q87 322.25 32.77 300.86 A58.3 58.3 0 0 1 33.52 299.03 Q87 322.25 144.91 315.56 Z"/><path fill="#dc6438" d="M145.3 322 A58.3 58.3 0 0 1 145.27 324.15 Q87 322.25 28.74 319.97 A58.3 58.3 0 0 1 28.86 317.99 Q87 322.25 145.3 322 Z"/><path fill="#e6c818" d="M102.31 266 A58.3 58.3 0 0 1 104.43 266.62 Q87 322.25 67.84 267.19 A58.3 58.3 0 0 1 69.72 266.57 Q87 322.25 102.31 266 Z"/><path fill="#e6c818" d="M106.53 267.32 A58.3 58.3 0 0 1 108.6 268.1 Q87 322.25 61.8 269.68 A58.3 58.3 0 0 1 63.59 268.86 Q87 322.25 106.53 267.32 Z"/><path fill="#e6c818" d="M89.21 263.99 A58.3 58.3 0 0 1 91.42 264.12 Q87 322.25 82.74 264.11 A58.3 58.3 0 0 1 84.72 263.99 Q87 322.25 89.21 263.99 Z"/><path fill="#dc6438" d="M142.03 303 A58.3 58.3 0 0 1 142.7 305.04 Q87 322.25 54.24 274.02 A58.3 58.3 0 0 1 55.9 272.94 Q87 322.25 142.03 303 Z"/><path fill="#dc6438" d="M144.26 311.3 A58.3 58.3 0 0 1 144.63 313.42 Q87 322.25 38.89 289.32 A58.3 58.3 0 0 1 40.03 287.71 Q87 322.25 144.26 311.3 Z"/><path fill="#dc6438" d="M145.25 319.85 A58.3 58.3 0 0 1 145.3 322 Q87 322.25 28.87 317.79 A58.3 58.3 0 0 1 29.06 315.82 Q87 322.25 145.25 319.85 Z"/><path fill="#e6c818" d="M114.62 270.91 A58.3 58.3 0 0 1 116.55 271.99 Q87 322.25 30.71 307.06 A58.3 58.3 0 0 1 31.26 305.16 Q87 322.25 114.62 270.91 Z"/><path fill="#e6c818" d="M87 263.95 A58.3 58.3 0 0 1 89.21 263.99 Q87 322.25 84.92 263.99 A58.3 58.3 0 0 1 86.9 263.95 Q87 322.25 87 263.95 Z"/><path fill="#716a2c" d="M102.19 378.54 A58.3 58.3 0 0 1 100.02 379.08 Q87 322.25 28.86 326.51 A58.3 58.3 0 0 1 28.74 324.53 Q87 322.25 102.19 378.54 Z"/><path fill="#5cc0e0" d="M93.52 380.18 A58.3 58.3 0 0 1 91.35 380.39 Q87 322.25 40.15 287.55 A58.3 58.3 0 0 1 41.36 285.98 Q87 322.25 93.52 380.18 Z"/><path fill="#716a2c" d="M106.46 377.21 A58.3 58.3 0 0 1 104.34 377.91 Q87 322.25 32.01 302.9 A58.3 58.3 0 0 1 32.69 301.05 Q87 322.25 106.46 377.21 Z"/><path fill="#716a2c" d="M114.64 373.58 A58.3 58.3 0 0 1 112.65 374.61 Q87 322.25 56.07 272.83 A58.3 58.3 0 0 1 57.76 271.81 Q87 322.25 114.64 373.58 Z"/><path fill="#716a2c" d="M108.56 376.42 A58.3 58.3 0 0 1 106.46 377.21 Q87 322.25 36.56 293.01 A58.3 58.3 0 0 1 37.58 291.32 Q87 322.25 108.56 376.42 Z"/><path fill="#5cc0e0" d="M89.18 380.51 A58.3 58.3 0 0 1 87 380.55 Q87 322.25 28.74 324.33 A58.3 58.3 0 0 1 28.7 322.35 Q87 322.25 89.18 380.51 Z"/><path fill="#716a2c" d="M116.59 372.48 A58.3 58.3 0 0 1 114.64 373.58 Q87 322.25 65.8 267.94 A58.3 58.3 0 0 1 67.65 267.26 Q87 322.25 116.59 372.48 Z"/><path fill="#716a2c" d="M104.34 377.91 A58.3 58.3 0 0 1 102.19 378.54 Q87 322.25 29.74 311.31 A58.3 58.3 0 0 1 30.14 309.38 Q87 322.25 104.34 377.91 Z"/><path fill="#716a2c" d="M110.62 375.55 A58.3 58.3 0 0 1 108.56 376.42 Q87 322.25 41.48 285.82 A58.3 58.3 0 0 1 42.74 284.3 Q87 322.25 110.62 375.55 Z"/><path fill="#5cc0e0" d="M91.35 380.39 A58.3 58.3 0 0 1 89.18 380.51 Q87 322.25 33.61 298.84 A58.3 58.3 0 0 1 34.43 297.05 Q87 322.25 91.35 380.39 Z"/><path fill="#5cc0e0" d="M97.82 379.54 A58.3 58.3 0 0 1 95.68 379.9 Q87 322.25 57.94 271.71 A58.3 58.3 0 0 1 59.67 270.75 Q87 322.25 97.82 379.54 Z"/><path fill="#5cc0e0" d="M95.68 379.9 A58.3 58.3 0 0 1 93.52 380.18 Q87 322.25 44.33 282.52 A58.3 58.3 0 0 1 45.7 281.1 Q87 322.25 95.68 379.9 Z"/><path fill="#716a2c" d="M118.5 371.31 A58.3 58.3 0 0 1 116.59 372.48 Q87 322.25 78.41 264.59 A58.3 58.3 0 0 1 80.37 264.33 Q87 322.25 118.5 371.31 Z"/><path fill="#716a2c" d="M100.02 379.08 A58.3 58.3 0 0 1 97.82 379.54 Q87 322.25 30.66 337.24 A58.3 58.3 0 0 1 30.18 335.32 Q87 322.25 100.02 379.08 Z"/><path fill="#716a2c" d="M112.65 374.61 A58.3 58.3 0 0 1 110.62 375.55 Q87 322.25 52.46 275.28 A58.3 58.3 0 0 1 54.07 274.14 Q87 322.25 112.65 374.61 Z"/></g>
<g stroke-width="1.2"><path stroke="#ff1616" d="M85.85 260.96L85.8 258.26"/><path stroke="#ff1b1b" d="M83.56 261.05L83.41 258.35"/><path stroke="#ff1f1f" d="M81.28 261.22L81.02 258.53"/><path stroke="#ff2424" d="M79 261.47L78.65 258.8"/><path stroke="#ff2929" d="M76.73 261.82L76.28 259.15"/><path stroke="#ff2d2d" d="M74.48 262.24L73.93 259.6"/><path stroke="#ff3232" d="M72.24 262.75L71.59 260.13"/><path stroke="#ff3737" d="M70.03 263.35L69.28 260.75"/><path stroke="#ff3c3c" d="M67.84 264.02L67 261.46"/><path stroke="#ff4040" d="M65.68 264.78L64.74 262.25"/><path stroke="#ff4545" d="M63.54 265.62L62.51 263.12"/><path stroke="#ff4a4a" d="M61.44 266.53L60.31 264.08"/><path stroke="#ff4e4e" d="M59.37 267.53L58.16 265.12"/><path stroke="#ff5353" d="M57.35 268.6L56.04 266.24"/><path stroke="#ff5858" d="M55.36 269.75L53.97 267.43"/><path stroke="#ff5d5d" d="M53.42 270.96L51.94 268.71"/><path stroke="#ff6161" d="M51.53 272.26L49.97 270.05"/><path stroke="#ff6666" d="M49.68 273.62L48.04 271.48"/><path stroke="#ff6b6b" d="M47.89 275.05L46.17 272.97"/><path stroke="#ff6f6f" d="M46.15 276.54L44.35 274.53"/><path stroke="#ff7474" d="M44.47 278.1L42.6 276.16"/><path stroke="#ff7979" d="M42.85 279.72L40.91 277.85"/><path stroke="#ff7e7e" d="M41.29 281.4L39.28 279.6"/><path stroke="#ff8282" d="M39.8 283.14L37.72 281.42"/><path stroke="#ff8282" d="M38.37 284.93L36.23 283.29"/><path stroke="#ff8282" d="M37.01 286.78L34.8 285.22"/><path stroke="#ff8282" d="M35.71 288.67L33.46 287.19"/><path stroke="#ff8282" d="M34.5 290.61L32.18 289.22"/><path stroke="#ff8282" d="M33.35 292.6L30.99 291.29"/><path stroke="#ff8282" d="M32.28 294.62L29.87 293.41"/><path stroke="#ff8282" d="M31.28 296.69L28.83 295.56"/><path stroke="#ff8282" d="M30.37 298.79L27.87 297.76"/><path stroke="#ff8282" d="M29.53 300.93L27 299.99"/><path stroke="#ff8282" d="M28.77 303.09L26.21 302.25"/><path stroke="#ff8282" d="M28.1 305.28L25.5 304.53"/><path stroke="#ff8282" d="M27.5 307.49L24.88 306.84"/><path stroke="#ff8282" d="M26.99 309.73L24.35 309.18"/><path stroke="#ff8282" d="M26.57 311.98L23.9 311.53"/><path stroke="#ff8282" d="M26.22 314.25L23.55 313.9"/><path stroke="#ff8282" d="M25.97 316.53L23.28 316.27"/><path stroke="#ff8282" d="M25.8 318.81L23.1 318.66"/><path stroke="#ff8282" d="M25.71 321.1L23.01 321.05"/><path stroke="#ff8282" d="M25.71 323.4L23.01 323.45"/><path stroke="#ff8282" d="M25.8 325.69L23.1 325.84"/><path stroke="#ff8282" d="M25.97 327.97L23.28 328.23"/><path stroke="#ff8282" d="M26.22 330.25L23.55 330.6"/><path stroke="#ff8282" d="M26.57 332.52L23.9 332.97"/><path stroke="#ff8282" d="M26.99 334.77L24.35 335.32"/><path stroke="#ff8282" d="M27.5 337.01L24.88 337.66"/><path stroke="#ff8282" d="M28.1 339.22L25.5 339.97"/><path stroke="#ff8282" d="M28.77 341.41L26.21 342.25"/><path stroke="#ff8282" d="M29.53 343.57L27 344.51"/><path stroke="#94b8f9" d="M30.37 345.71L27.87 346.74"/><path stroke="#92b6f9" d="M31.28 347.81L28.83 348.94"/><path stroke="#90b5f9" d="M32.28 349.88L29.87 351.09"/><path stroke="#8fb4f8" d="M33.35 351.9L30.99 353.21"/><path stroke="#8db3f8" d="M34.5 353.89L32.18 355.28"/><path stroke="#8bb1f8" d="M35.71 355.83L33.46 357.31"/><path stroke="#89b0f7" d="M37.01 357.72L34.8 359.28"/><path stroke="#87aff7" d="M38.37 359.57L36.23 361.21"/><path stroke="#85aef7" d="M39.8 361.36L37.72 363.08"/><path stroke="#83acf6" d="M41.29 363.1L39.28 364.9"/><path stroke="#82abf6" d="M42.85 364.78L40.91 366.65"/><path stroke="#80aaf6" d="M44.47 366.4L42.6 368.34"/><path stroke="#7ea9f6" d="M46.15 367.96L44.35 369.97"/><path stroke="#7ca7f5" d="M47.89 369.45L46.17 371.53"/><path stroke="#7aa6f5" d="M49.68 370.88L48.04 373.02"/><path stroke="#78a5f5" d="M51.53 372.24L49.97 374.45"/><path stroke="#76a4f4" d="M53.42 373.54L51.94 375.79"/><path stroke="#75a3f4" d="M55.36 374.75L53.97 377.07"/><path stroke="#73a1f4" d="M57.35 375.9L56.04 378.26"/><path stroke="#71a0f3" d="M59.37 376.97L58.16 379.38"/><path stroke="#6f9ff3" d="M61.44 377.97L60.31 380.42"/><path stroke="#6d9ef3" d="M63.54 378.88L62.51 381.38"/><path stroke="#6b9cf2" d="M65.68 379.72L64.74 382.25"/><path stroke="#699bf2" d="M67.84 380.48L67 383.04"/><path stroke="#679af2" d="M70.03 381.15L69.28 383.75"/><path stroke="#6699f2" d="M72.24 381.75L71.59 384.37"/><path stroke="#6497f1" d="M74.48 382.26L73.93 384.9"/><path stroke="#6296f1" d="M76.73 382.68L76.28 385.35"/><path stroke="#6095f1" d="M79 383.03L78.65 385.7"/><path stroke="#5e94f0" d="M81.28 383.28L81.02 385.97"/><path stroke="#5c92f0" d="M83.56 383.45L83.41 386.15"/><path stroke="#5a91f0" d="M85.85 383.54L85.8 386.24"/></g>
<g font-size="3.0" fill="#1a1a1a" text-anchor="end"><text x="85.74" y="255.66" transform="rotate(88.93 85.74 254.66)">TP19D</text><text x="83.21" y="255.76" transform="rotate(86.79 83.21 254.76)">TGAO45O</text><text x="80.69" y="255.95" transform="rotate(84.64 80.69 254.95)">V2200R</text><text x="78.18" y="256.23" transform="rotate(82.5 78.18 255.23)">RN173G</text><text x="75.68" y="256.61" transform="rotate(80.36 75.68 255.61)">P64CK</text><text x="73.19" y="257.08" transform="rotate(78.21 73.19 256.08)">24OV</text><text x="70.73" y="257.64" transform="rotate(76.07 70.73 256.64)">04R9K</text><text x="68.29" y="258.29" transform="rotate(73.93 68.29 257.29)">FR2T8</text><text x="65.87" y="259.04" transform="rotate(71.79 65.87 258.04)">LTEOVT</text><text x="63.48" y="259.87" transform="rotate(69.64 63.48 258.87)">C3HI</text><text x="61.13" y="260.8" transform="rotate(67.5 61.13 259.8)">5C1A</text><text x="58.81" y="261.81" transform="rotate(65.36 58.81 260.81)">3OCN2</text><text x="56.54" y="262.9" transform="rotate(63.21 56.54 261.9)">BD6DHZ</text><text x="54.3" y="264.08" transform="rotate(61.07 54.3 263.08)">6D28EK2</text><text x="52.11" y="265.35" transform="rotate(58.93 52.11 264.35)">EFZFO5</text><text x="49.97" y="266.69" transform="rotate(56.79 49.97 265.69)">CZGBT</text><text x="47.88" y="268.12" transform="rotate(54.64 47.88 267.12)">1N3C</text><text x="45.85" y="269.62" transform="rotate(52.5 45.85 268.62)">BVVD3</text><text x="43.87" y="271.2" transform="rotate(50.36 43.87 270.2)">8ZEAOC</text><text x="41.95" y="272.84" transform="rotate(48.21 41.95 271.84)">1ZRRM</text><text x="40.1" y="274.56" transform="rotate(46.07 40.1 273.56)">M9BE2KE</text><text x="38.31" y="276.35" transform="rotate(43.93 38.31 275.35)">01SK9T</text><text x="36.59" y="278.2" transform="rotate(41.79 36.59 277.2)">ZHICTH</text><text x="34.95" y="280.12" transform="rotate(39.64 34.95 279.12)">64KSE</text><text x="33.37" y="282.1" transform="rotate(37.5 33.37 281.1)">7MP3N</text><text x="31.87" y="284.13" transform="rotate(35.36 31.87 283.13)">E2A0L</text><text x="30.44" y="286.22" transform="rotate(33.21 30.44 285.22)">V1BC</text><text x="29.1" y="288.36" transform="rotate(31.07 29.1 287.36)">SZPH</text><text x="27.83" y="290.55" transform="rotate(28.93 27.83 289.55)">8PRLD5</text><text x="26.65" y="292.79" transform="rotate(26.79 26.65 291.79)">AT3NB7</text><text x="25.56" y="295.06" transform="rotate(24.64 25.56 294.06)">O15H3</text><text x="24.55" y="297.38" transform="rotate(22.5 24.55 296.38)">C91R</text><text x="23.62" y="299.73" transform="rotate(20.36 23.62 298.73)">E2ZNM</text><text x="22.79" y="302.12" transform="rotate(18.21 22.79 301.12)">KL9Z2</text><text x="22.04" y="304.54" transform="rotate(16.07 22.04 303.54)">5NNE3</text><text x="21.39" y="306.98" transform="rotate(13.93 21.39 305.98)">0K50O</text><text x="20.83" y="309.44" transform="rotate(11.79 20.83 308.44)">SBVVG</text><text x="20.36" y="311.93" transform="rotate(9.64 20.36 310.93)">FNCDBBF</text><text x="19.98" y="314.43" transform="rotate(7.5 19.98 313.43)">GBR89</text><text x="19.7" y="316.94" transform="rotate(5.36 19.7 315.94)">14MAOR</text><text x="19.51" y="319.46" transform="rotate(3.21 19.51 318.46)">89Z9O</text><text x="19.41" y="321.99" transform="rotate(1.07 19.41 320.99)">PPDGE</text><text x="19.41" y="324.51" transform="rotate(-1.07 19.41 323.51)">FCM7N78</text><text x="19.51" y="327.04" transform="rotate(-3.21 19.51 326.04)">ETIDI6</text><text x="19.7" y="329.56" transform="rotate(-5.36 19.7 328.56)">4K1HB</text><text x="19.98" y="332.07" transform="rotate(-7.5 19.98 331.07)">8BM94M</text><text x="20.36" y="334.57" transform="rotate(-9.64 20.36 333.57)">B2A1P</text><text x="20.83" y="337.06" transform="rotate(-11.79 20.83 336.06)">7ED51L</text><text x="21.39" y="339.52" transform="rotate(-13.93 21.39 338.52)">P1H3F</text><text x="22.04" y="341.96" transform="rotate(-16.07 22.04 340.96)">G2AV</text><text x="22.79" y="344.38" transform="rotate(-18.21 22.79 343.38)">1CZN9</text><text x="23.62" y="346.77" transform="rotate(-20.36 23.62 345.77)">M1KFPMK</text><text x="24.55" y="349.12" transform="rotate(-22.5 24.55 348.12)">32PF</text><text x="25.56" y="351.44" transform="rotate(-24.64 25.56 350.44)">F1GB0</text><text x="26.65" y="353.71" transform="rotate(-26.79 26.65 352.71)">O3IAPB</text><text x="27.83" y="355.95" transform="rotate(-28.93 27.83 354.95)">41OFBB</text><text x="29.1" y="358.14" transform="rotate(-31.07 29.1 357.14)">66SVMD</text><text x="30.44" y="360.28" transform="rotate(-33.21 30.44 359.28)">CH85RC9</text><text x="31.87" y="362.37" transform="rotate(-35.36 31.87 361.37)">B1H0BR</text><text x="33.37" y="364.4" transform="rotate(-37.5 33.37 363.4)">5BBI6O</text><text x="34.95" y="366.38" transform="rotate(-39.64 34.95 365.38)">K0B8BG</text><text x="36.59" y="368.3" transform="rotate(-41.79 36.59 367.3)">2S0NG</text><text x="38.31" y="370.15" transform="rotate(-43.93 38.31 369.15)">HC9L5D</text><text x="40.1" y="371.94" transform="rotate(-46.07 40.1 370.94)">T9FZ</text><text x="41.95" y="373.66" transform="rotate(-48.21 41.95 372.66)">73GZ</text><text x="43.87" y="375.3" transform="rotate(-50.36 43.87 374.3)">PTMR</text><text x="45.85" y="376.88" transform="rotate(-52.5 45.85 375.88)">V4NS0E</text><text x="47.88" y="378.38" transform="rotate(-54.64 47.88 377.38)">A94K2P8</text><text x="49.97" y="379.81" transform="rotate(-56.79 49.97 378.81)">TDEKR</text><text x="52.11" y="381.15" transform="rotate(-58.93 52.11 380.15)">44I6</text><text x="54.3" y="382.42" transform="rotate(-61.07 54.3 381.42)">LEETCR</text><text x="56.54" y="383.6" transform="rotate(-63.21 56.54 382.6)">2C5OV</text><text x="58.81" y="384.69" transform="rotate(-65.36 58.81 383.69)">HIBR2HB</text><text x="61.13" y="385.7" transform="rotate(-67.5 61.13 384.7)">G5K8M8D</text><text x="63.48" y="386.63" transform="rotate(-69.64 63.48 385.63)">O4LN</text><text x="65.87" y="387.46" transform="rotate(-71.79 65.87 386.46)">A8K04E</text><text x="68.29" y="388.21" transform="rotate(-73.93 68.29 387.21)">APE620</text><text x="70.73" y="388.86" transform="rotate(-76.07 70.73 387.86)">3B2O</text><text x="73.19" y="389.42" transform="rotate(-78.21 73.19 388.42)">D55NT</text><text x="75.68" y="389.89" transform="rotate(-80.36 75.68 388.89)">LCKFE</text><text x="78.18" y="390.27" transform="rotate(-82.5 78.18 389.27)">R1LKB</text><text x="80.69" y="390.55" transform="rotate(-84.64 80.69 389.55)">T43T</text><text x="83.21" y="390.74" transform="rotate(-86.79 83.21 389.74)">ADBE</text><text x="85.74" y="390.84" transform="rotate(-88.93 85.74 389.84)">O7IZA</text></g>
<g font-size="6.6" font-weight="bold">
<text x="104.8" y="260.4" fill="#b92e22" stroke="#b92e22" stroke-width="0.22" textLength="70.76" lengthAdjust="spacingAndGlyphs" transform="rotate(-19.74 104.8 258.4)">TNFA_signaling_via_NFKB</text>
<text x="131.3" y="275.2" fill="#2563b0" stroke="#2563b0" stroke-width="0.22" textLength="41.65" lengthAdjust="spacingAndGlyphs" transform="rotate(-21.7 131.3 273.2)">IFNA_response</text>
<text x="145.4" y="290.5" fill="#2563b0" stroke="#2563b0" stroke-width="0.22" textLength="44.44" lengthAdjust="spacingAndGlyphs" transform="rotate(-20.96 145.4 288.5)">Oxidative Phosp</text>
<text x="153.1" y="316.3" fill="#b92e22" stroke="#b92e22" stroke-width="0.22" textLength="53.91" lengthAdjust="spacingAndGlyphs" transform="rotate(-20.18 153.1 314.3)">IL2_STAT5_signaling</text>
<text x="151.9" y="341.6" fill="#b92e22" stroke="#b92e22" stroke-width="0.22" textLength="31.5" lengthAdjust="spacingAndGlyphs" transform="rotate(11.17 151.9 339.6)">Myogenesis</text>
<text x="137.6" y="370" fill="#2563b0" stroke="#2563b0" stroke-width="0.22" textLength="41.07" lengthAdjust="spacingAndGlyphs" transform="rotate(11.8 137.6 368)">IFNG_response</text>
<text x="115" y="385.8" fill="#b92e22" stroke="#b92e22" stroke-width="0.22" textLength="35.01" lengthAdjust="spacingAndGlyphs" transform="rotate(12.37 115 383.8)">UV_response</text>
<text x="92.1" y="393.3" fill="#b92e22" stroke="#b92e22" stroke-width="0.22" textLength="40.09" lengthAdjust="spacingAndGlyphs" transform="rotate(12.09 92.1 391.3)">TGFB_signaling</text>
</g>
<text x="227.6" y="219.9" font-size="12.6" font-weight="bold" fill="#000">D</text>
<rect x="261.7" y="303.55" width="6.6" height="61.35" fill="#2b2a85"/><rect x="268.3" y="325.43" width="6.9" height="39.47" fill="#27a065"/><rect x="282.42" y="316.42" width="6.6" height="48.48" fill="#2b2a85"/><rect x="289.02" y="345.17" width="6.9" height="19.73" fill="#27a065"/><rect x="303.14" y="333.58" width="6.6" height="31.32" fill="#2b2a85"/><rect x="309.74" y="337.44" width="6.9" height="27.46" fill="#27a065"/><rect x="323.86" y="334.44" width="6.6" height="30.46" fill="#2b2a85"/><rect x="330.46" y="322" width="6.9" height="42.9" fill="#27a065"/><rect x="344.58" y="358.89" width="6.6" height="6.01" fill="#2b2a85"/><rect x="351.18" y="347.74" width="6.9" height="17.16" fill="#27a065"/><rect x="365.3" y="346.45" width="6.6" height="18.45" fill="#2b2a85"/><rect x="371.9" y="340.45" width="6.9" height="24.45" fill="#27a065"/><rect x="386.02" y="356.32" width="6.6" height="8.58" fill="#2b2a85"/><rect x="392.62" y="360.61" width="6.9" height="4.29" fill="#27a065"/><rect x="406.74" y="358.89" width="6.6" height="6.01" fill="#2b2a85"/><rect x="413.34" y="353.75" width="6.9" height="11.15" fill="#27a065"/><rect x="427.46" y="347.74" width="6.6" height="17.16" fill="#2b2a85"/><rect x="434.06" y="343.02" width="6.9" height="21.88" fill="#27a065"/><rect x="448.18" y="351.17" width="6.6" height="13.73" fill="#2b2a85"/><rect x="454.78" y="352.03" width="6.9" height="12.87" fill="#27a065"/>
<path fill="none" stroke="#333" stroke-width="0.8" d="M265 303.55V248.64M263.5 248.64h3M271.75 325.43V255.5M270.25 255.5h3M268.3 365V368M285.72 316.42V288.54M284.22 288.54h3M292.47 345.17V311.27M290.97 311.27h3M289.02 365V368M306.44 333.58V313.42M304.94 313.42h3M313.19 337.44V290.25M311.69 290.25h3M309.74 365V368M327.16 334.44V319M325.66 319h3M333.91 322V246.92M332.41 246.92h3M330.46 365V368M347.88 358.89V349.88M346.38 349.88h3M354.63 347.74V317.28M353.13 317.28h3M351.18 365V368M368.6 346.45V336.59M367.1 336.59h3M375.35 340.45V297.12M373.85 297.12h3M371.9 365V368M389.32 356.32V348.6M387.82 348.6h3M396.07 360.61V352.03M394.57 352.03h3M392.62 365V368M410.04 358.89V352.89M408.54 352.89h3M416.79 353.75V334.44M415.29 334.44h3M413.34 365V368M430.76 347.74V343.45M429.26 343.45h3M437.51 343.02V304.84M436.01 304.84h3M434.06 365V368M451.48 351.17V343.45M449.98 343.45h3M458.23 352.03V329.29M456.73 329.29h3M454.78 365V368"/>
<path fill="none" stroke="#333" stroke-width="1.3" d="M258.3 233.3V365.6M256.6 365H465.6"/>
<path fill="none" stroke="#333" stroke-width="0.9" d="M256.2 236.2h2.1M256.2 279.1h2.1M256.2 322h2.1M256.2 364.9h2.1"/>
<g font-size="6.2" fill="#333" text-anchor="end">
<text x="252.2" y="238.4">300</text>
<text x="252.2" y="281.3">200</text>
<text x="252.2" y="324.2">100</text>
<text x="252.2" y="367.1">0</text>
</g>
<path stroke="#707070" stroke-width="1.5" d="M262.7 244.9H463.3"/>
<text x="362.5" y="232.7" font-size="5" fill="#333" text-anchor="middle">ns</text>
<text x="362.5" y="241.7" font-size="5.4" fill="#333" text-anchor="middle"><tspan font-style="italic">P</tspan> &gt; .05</text>
<rect x="419.2" y="226.8" width="7.7" height="4.3" fill="#2b2a85"/>
<rect x="419.2" y="236.4" width="7.7" height="4.3" fill="#27a065"/>
<text x="430" y="230.8" font-size="5.5" fill="#222">MM</text>
<text x="430" y="240.5" font-size="5.6" fill="#222" textLength="30.3" lengthAdjust="spacingAndGlyphs">HA + TGFb</text>
<text transform="translate(234.3 299) rotate(-90)" font-size="7.8" fill="#222" text-anchor="middle" textLength="21.6" lengthAdjust="spacingAndGlyphs">Counts</text>
<g font-size="7.2" fill="#222" text-anchor="end">
<text x="271.2" y="376.6" transform="rotate(-45 271.2 376.6)" textLength="23.1" lengthAdjust="spacingAndGlyphs">TEX264</text>
<text x="291.92" y="376.6" transform="rotate(-45 291.92 376.6)" textLength="34.65" lengthAdjust="spacingAndGlyphs">RN7SL385P</text>
<text x="312.64" y="376.6" transform="rotate(-45 312.64 376.6)" textLength="23.1" lengthAdjust="spacingAndGlyphs">TATDN3</text>
<text x="333.36" y="376.6" transform="rotate(-45 333.36 376.6)" textLength="19.25" lengthAdjust="spacingAndGlyphs">CCSAP</text>
<text x="354.08" y="376.6" transform="rotate(-45 354.08 376.6)" textLength="19.25" lengthAdjust="spacingAndGlyphs">SCML1</text>
<text x="374.8" y="376.6" transform="rotate(-45 374.8 376.6)" textLength="19.25" lengthAdjust="spacingAndGlyphs">MFSD7</text>
<text x="395.52" y="376.6" transform="rotate(-45 395.52 376.6)" textLength="34.65" lengthAdjust="spacingAndGlyphs">MED14-AS1</text>
<text x="416.24" y="376.6" transform="rotate(-45 416.24 376.6)" textLength="19.25" lengthAdjust="spacingAndGlyphs">TRPV4</text>
<text x="436.96" y="376.6" transform="rotate(-45 436.96 376.6)" textLength="19.25" lengthAdjust="spacingAndGlyphs">STX17</text>
<text x="457.68" y="376.6" transform="rotate(-45 457.68 376.6)" textLength="50.05" lengthAdjust="spacingAndGlyphs">RP11-452K12.3</text>
</g>
<text x="250.2" y="421.9" font-size="9.4" fill="#222" textLength="224" lengthAdjust="spacingAndGlyphs">Top 10 differentially expressed genes between MM and HA neutrophils</text>
<rect x="0.5" y="0.5" width="519" height="431" fill="none" stroke="#000" stroke-width="1.2"/>
</svg></body></html>
